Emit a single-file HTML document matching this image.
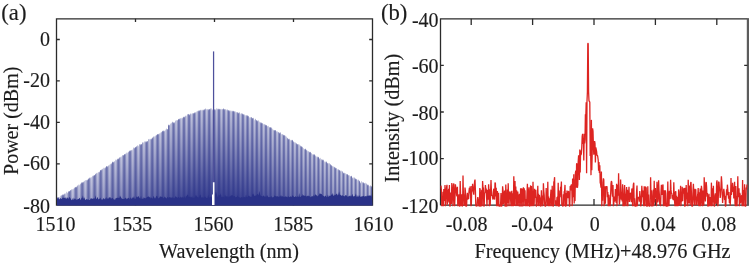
<!DOCTYPE html><html><head><meta charset="utf-8"><style>html,body{margin:0;padding:0;background:#fff;overflow:hidden;}svg{display:block;filter:blur(0.3px);}text{font-family:"Liberation Serif",serif;}</style></head><body><svg width="749" height="264" viewBox="0 0 749 264"><defs><linearGradient id="c57" x1="0" y1="0" x2="0" y2="1"><stop offset="0.0" stop-color="rgb(42,50,136)" stop-opacity="0.359"/><stop offset="0.194" stop-color="rgb(42,50,136)" stop-opacity="0.598"/><stop offset="0.25" stop-color="rgb(42,50,136)" stop-opacity="0.598"/><stop offset="0.5" stop-color="rgb(42,50,136)" stop-opacity="0.606"/><stop offset="0.75" stop-color="rgb(42,50,136)" stop-opacity="0.614"/><stop offset="1.0" stop-color="rgb(42,50,136)" stop-opacity="0.622"/></linearGradient><linearGradient id="c58" x1="0" y1="0" x2="0" y2="1"><stop offset="0.0" stop-color="rgb(42,50,136)" stop-opacity="0.250"/><stop offset="0.194" stop-color="rgb(42,50,136)" stop-opacity="0.416"/><stop offset="0.25" stop-color="rgb(42,50,136)" stop-opacity="0.416"/><stop offset="0.5" stop-color="rgb(42,50,136)" stop-opacity="0.428"/><stop offset="0.75" stop-color="rgb(42,50,136)" stop-opacity="0.439"/><stop offset="1.0" stop-color="rgb(42,50,136)" stop-opacity="0.451"/></linearGradient><linearGradient id="c59" x1="0" y1="0" x2="0" y2="1"><stop offset="0.0" stop-color="rgb(42,50,136)" stop-opacity="0.178"/><stop offset="0.18" stop-color="rgb(42,50,136)" stop-opacity="0.296"/><stop offset="0.25" stop-color="rgb(42,50,136)" stop-opacity="0.296"/><stop offset="0.5" stop-color="rgb(42,50,136)" stop-opacity="0.312"/><stop offset="0.75" stop-color="rgb(42,50,136)" stop-opacity="0.327"/><stop offset="1.0" stop-color="rgb(42,50,136)" stop-opacity="0.343"/></linearGradient><linearGradient id="c60" x1="0" y1="0" x2="0" y2="1"><stop offset="0.0" stop-color="rgb(42,50,136)" stop-opacity="0.203"/><stop offset="0.157" stop-color="rgb(42,50,136)" stop-opacity="0.338"/><stop offset="0.25" stop-color="rgb(42,50,136)" stop-opacity="0.341"/><stop offset="0.5" stop-color="rgb(42,50,136)" stop-opacity="0.358"/><stop offset="0.75" stop-color="rgb(42,50,136)" stop-opacity="0.374"/><stop offset="1.0" stop-color="rgb(42,50,136)" stop-opacity="0.391"/></linearGradient><linearGradient id="c61" x1="0" y1="0" x2="0" y2="1"><stop offset="0.0" stop-color="rgb(42,50,136)" stop-opacity="0.305"/><stop offset="0.15" stop-color="rgb(42,50,136)" stop-opacity="0.509"/><stop offset="0.25" stop-color="rgb(42,50,136)" stop-opacity="0.512"/><stop offset="0.5" stop-color="rgb(42,50,136)" stop-opacity="0.525"/><stop offset="0.75" stop-color="rgb(42,50,136)" stop-opacity="0.537"/><stop offset="1.0" stop-color="rgb(42,50,136)" stop-opacity="0.550"/></linearGradient><linearGradient id="c62" x1="0" y1="0" x2="0" y2="1"><stop offset="0.0" stop-color="rgb(42,50,136)" stop-opacity="0.398"/><stop offset="0.141" stop-color="rgb(42,50,136)" stop-opacity="0.664"/><stop offset="0.25" stop-color="rgb(42,50,136)" stop-opacity="0.666"/><stop offset="0.5" stop-color="rgb(42,50,136)" stop-opacity="0.676"/><stop offset="0.75" stop-color="rgb(42,50,136)" stop-opacity="0.685"/><stop offset="1.0" stop-color="rgb(42,50,136)" stop-opacity="0.694"/></linearGradient><linearGradient id="c63" x1="0" y1="0" x2="0" y2="1"><stop offset="0.0" stop-color="rgb(42,50,136)" stop-opacity="0.402"/><stop offset="0.139" stop-color="rgb(42,50,136)" stop-opacity="0.671"/><stop offset="0.25" stop-color="rgb(42,50,136)" stop-opacity="0.673"/><stop offset="0.5" stop-color="rgb(42,50,136)" stop-opacity="0.683"/><stop offset="0.75" stop-color="rgb(42,50,136)" stop-opacity="0.692"/><stop offset="1.0" stop-color="rgb(42,50,136)" stop-opacity="0.701"/></linearGradient><linearGradient id="c64" x1="0" y1="0" x2="0" y2="1"><stop offset="0.0" stop-color="rgb(42,50,136)" stop-opacity="0.314"/><stop offset="0.129" stop-color="rgb(42,50,136)" stop-opacity="0.523"/><stop offset="0.25" stop-color="rgb(42,50,136)" stop-opacity="0.528"/><stop offset="0.5" stop-color="rgb(42,50,136)" stop-opacity="0.542"/><stop offset="0.75" stop-color="rgb(42,50,136)" stop-opacity="0.557"/><stop offset="1.0" stop-color="rgb(42,50,136)" stop-opacity="0.571"/></linearGradient><linearGradient id="c65" x1="0" y1="0" x2="0" y2="1"><stop offset="0.0" stop-color="rgb(42,50,136)" stop-opacity="0.208"/><stop offset="0.126" stop-color="rgb(42,50,136)" stop-opacity="0.347"/><stop offset="0.25" stop-color="rgb(42,50,136)" stop-opacity="0.354"/><stop offset="0.5" stop-color="rgb(42,50,136)" stop-opacity="0.374"/><stop offset="0.75" stop-color="rgb(42,50,136)" stop-opacity="0.394"/><stop offset="1.0" stop-color="rgb(42,50,136)" stop-opacity="0.415"/></linearGradient><linearGradient id="c66" x1="0" y1="0" x2="0" y2="1"><stop offset="0.0" stop-color="rgb(42,50,136)" stop-opacity="0.176"/><stop offset="0.111" stop-color="rgb(42,50,136)" stop-opacity="0.294"/><stop offset="0.25" stop-color="rgb(42,50,136)" stop-opacity="0.304"/><stop offset="0.5" stop-color="rgb(42,50,136)" stop-opacity="0.329"/><stop offset="0.75" stop-color="rgb(42,50,136)" stop-opacity="0.354"/><stop offset="1.0" stop-color="rgb(42,50,136)" stop-opacity="0.379"/></linearGradient><linearGradient id="c67" x1="0" y1="0" x2="0" y2="1"><stop offset="0.0" stop-color="rgb(42,50,136)" stop-opacity="0.246"/><stop offset="0.118" stop-color="rgb(42,50,136)" stop-opacity="0.410"/><stop offset="0.25" stop-color="rgb(42,50,136)" stop-opacity="0.418"/><stop offset="0.5" stop-color="rgb(42,50,136)" stop-opacity="0.437"/><stop offset="0.75" stop-color="rgb(42,50,136)" stop-opacity="0.457"/><stop offset="1.0" stop-color="rgb(42,50,136)" stop-opacity="0.477"/></linearGradient><linearGradient id="c68" x1="0" y1="0" x2="0" y2="1"><stop offset="0.0" stop-color="rgb(42,50,136)" stop-opacity="0.358"/><stop offset="0.107" stop-color="rgb(42,50,136)" stop-opacity="0.596"/><stop offset="0.25" stop-color="rgb(42,50,136)" stop-opacity="0.603"/><stop offset="0.5" stop-color="rgb(42,50,136)" stop-opacity="0.618"/><stop offset="0.75" stop-color="rgb(42,50,136)" stop-opacity="0.632"/><stop offset="1.0" stop-color="rgb(42,50,136)" stop-opacity="0.647"/></linearGradient><linearGradient id="c69" x1="0" y1="0" x2="0" y2="1"><stop offset="0.0" stop-color="rgb(42,50,136)" stop-opacity="0.414"/><stop offset="0.105" stop-color="rgb(42,50,136)" stop-opacity="0.690"/><stop offset="0.25" stop-color="rgb(42,50,136)" stop-opacity="0.695"/><stop offset="0.5" stop-color="rgb(42,50,136)" stop-opacity="0.707"/><stop offset="0.75" stop-color="rgb(42,50,136)" stop-opacity="0.718"/><stop offset="1.0" stop-color="rgb(42,50,136)" stop-opacity="0.730"/></linearGradient><linearGradient id="c70" x1="0" y1="0" x2="0" y2="1"><stop offset="0.0" stop-color="rgb(42,50,136)" stop-opacity="0.365"/><stop offset="0.099" stop-color="rgb(42,50,136)" stop-opacity="0.608"/><stop offset="0.25" stop-color="rgb(42,50,136)" stop-opacity="0.616"/><stop offset="0.5" stop-color="rgb(42,50,136)" stop-opacity="0.631"/><stop offset="0.75" stop-color="rgb(42,50,136)" stop-opacity="0.647"/><stop offset="1.0" stop-color="rgb(42,50,136)" stop-opacity="0.662"/></linearGradient><linearGradient id="c71" x1="0" y1="0" x2="0" y2="1"><stop offset="0.0" stop-color="rgb(42,50,136)" stop-opacity="0.253"/><stop offset="0.094" stop-color="rgb(42,50,136)" stop-opacity="0.422"/><stop offset="0.25" stop-color="rgb(42,50,136)" stop-opacity="0.434"/><stop offset="0.5" stop-color="rgb(42,50,136)" stop-opacity="0.458"/><stop offset="0.75" stop-color="rgb(42,50,136)" stop-opacity="0.482"/><stop offset="1.0" stop-color="rgb(42,50,136)" stop-opacity="0.506"/></linearGradient><linearGradient id="c72" x1="0" y1="0" x2="0" y2="1"><stop offset="0.0" stop-color="rgb(42,50,136)" stop-opacity="0.178"/><stop offset="0.093" stop-color="rgb(42,50,136)" stop-opacity="0.296"/><stop offset="0.25" stop-color="rgb(42,50,136)" stop-opacity="0.311"/><stop offset="0.5" stop-color="rgb(42,50,136)" stop-opacity="0.341"/><stop offset="0.75" stop-color="rgb(42,50,136)" stop-opacity="0.371"/><stop offset="1.0" stop-color="rgb(42,50,136)" stop-opacity="0.401"/></linearGradient><linearGradient id="c73" x1="0" y1="0" x2="0" y2="1"><stop offset="0.0" stop-color="rgb(42,50,136)" stop-opacity="0.205"/><stop offset="0.09" stop-color="rgb(42,50,136)" stop-opacity="0.342"/><stop offset="0.25" stop-color="rgb(42,50,136)" stop-opacity="0.357"/><stop offset="0.5" stop-color="rgb(42,50,136)" stop-opacity="0.385"/><stop offset="0.75" stop-color="rgb(42,50,136)" stop-opacity="0.414"/><stop offset="1.0" stop-color="rgb(42,50,136)" stop-opacity="0.443"/></linearGradient><linearGradient id="c74" x1="0" y1="0" x2="0" y2="1"><stop offset="0.0" stop-color="rgb(42,50,136)" stop-opacity="0.312"/><stop offset="0.085" stop-color="rgb(42,50,136)" stop-opacity="0.520"/><stop offset="0.25" stop-color="rgb(42,50,136)" stop-opacity="0.532"/><stop offset="0.5" stop-color="rgb(42,50,136)" stop-opacity="0.554"/><stop offset="0.75" stop-color="rgb(42,50,136)" stop-opacity="0.576"/><stop offset="1.0" stop-color="rgb(42,50,136)" stop-opacity="0.599"/></linearGradient><linearGradient id="c75" x1="0" y1="0" x2="0" y2="1"><stop offset="0.0" stop-color="rgb(42,50,136)" stop-opacity="0.403"/><stop offset="0.082" stop-color="rgb(42,50,136)" stop-opacity="0.671"/><stop offset="0.25" stop-color="rgb(42,50,136)" stop-opacity="0.680"/><stop offset="0.5" stop-color="rgb(42,50,136)" stop-opacity="0.696"/><stop offset="0.75" stop-color="rgb(42,50,136)" stop-opacity="0.712"/><stop offset="1.0" stop-color="rgb(42,50,136)" stop-opacity="0.727"/></linearGradient><linearGradient id="c76" x1="0" y1="0" x2="0" y2="1"><stop offset="0.0" stop-color="rgb(42,50,136)" stop-opacity="0.396"/><stop offset="0.081" stop-color="rgb(42,50,136)" stop-opacity="0.660"/><stop offset="0.25" stop-color="rgb(42,50,136)" stop-opacity="0.670"/><stop offset="0.5" stop-color="rgb(42,50,136)" stop-opacity="0.686"/><stop offset="0.75" stop-color="rgb(42,50,136)" stop-opacity="0.703"/><stop offset="1.0" stop-color="rgb(42,50,136)" stop-opacity="0.719"/></linearGradient><linearGradient id="c77" x1="0" y1="0" x2="0" y2="1"><stop offset="0.0" stop-color="rgb(42,50,136)" stop-opacity="0.297"/><stop offset="0.076" stop-color="rgb(42,50,136)" stop-opacity="0.495"/><stop offset="0.25" stop-color="rgb(42,50,136)" stop-opacity="0.511"/><stop offset="0.5" stop-color="rgb(42,50,136)" stop-opacity="0.537"/><stop offset="0.75" stop-color="rgb(42,50,136)" stop-opacity="0.563"/><stop offset="1.0" stop-color="rgb(42,50,136)" stop-opacity="0.590"/></linearGradient><linearGradient id="c78" x1="0" y1="0" x2="0" y2="1"><stop offset="0.0" stop-color="rgb(42,50,136)" stop-opacity="0.195"/><stop offset="0.073" stop-color="rgb(42,50,136)" stop-opacity="0.325"/><stop offset="0.25" stop-color="rgb(42,50,136)" stop-opacity="0.348"/><stop offset="0.5" stop-color="rgb(42,50,136)" stop-opacity="0.384"/><stop offset="0.75" stop-color="rgb(42,50,136)" stop-opacity="0.421"/><stop offset="1.0" stop-color="rgb(42,50,136)" stop-opacity="0.458"/></linearGradient><linearGradient id="c79" x1="0" y1="0" x2="0" y2="1"><stop offset="0.0" stop-color="rgb(42,50,136)" stop-opacity="0.183"/><stop offset="0.073" stop-color="rgb(42,50,136)" stop-opacity="0.305"/><stop offset="0.25" stop-color="rgb(42,50,136)" stop-opacity="0.328"/><stop offset="0.5" stop-color="rgb(42,50,136)" stop-opacity="0.366"/><stop offset="0.75" stop-color="rgb(42,50,136)" stop-opacity="0.403"/><stop offset="1.0" stop-color="rgb(42,50,136)" stop-opacity="0.440"/></linearGradient><linearGradient id="c80" x1="0" y1="0" x2="0" y2="1"><stop offset="0.0" stop-color="rgb(42,50,136)" stop-opacity="0.272"/><stop offset="0.069" stop-color="rgb(42,50,136)" stop-opacity="0.454"/><stop offset="0.25" stop-color="rgb(42,50,136)" stop-opacity="0.473"/><stop offset="0.5" stop-color="rgb(42,50,136)" stop-opacity="0.504"/><stop offset="0.75" stop-color="rgb(42,50,136)" stop-opacity="0.535"/><stop offset="1.0" stop-color="rgb(42,50,136)" stop-opacity="0.566"/></linearGradient><linearGradient id="c81" x1="0" y1="0" x2="0" y2="1"><stop offset="0.0" stop-color="rgb(42,50,136)" stop-opacity="0.382"/><stop offset="0.066" stop-color="rgb(42,50,136)" stop-opacity="0.636"/><stop offset="0.25" stop-color="rgb(42,50,136)" stop-opacity="0.650"/><stop offset="0.5" stop-color="rgb(42,50,136)" stop-opacity="0.672"/><stop offset="0.75" stop-color="rgb(42,50,136)" stop-opacity="0.694"/><stop offset="1.0" stop-color="rgb(42,50,136)" stop-opacity="0.715"/></linearGradient><linearGradient id="c82" x1="0" y1="0" x2="0" y2="1"><stop offset="0.0" stop-color="rgb(42,50,136)" stop-opacity="0.410"/><stop offset="0.065" stop-color="rgb(42,50,136)" stop-opacity="0.684"/><stop offset="0.25" stop-color="rgb(42,50,136)" stop-opacity="0.696"/><stop offset="0.5" stop-color="rgb(42,50,136)" stop-opacity="0.715"/><stop offset="0.75" stop-color="rgb(42,50,136)" stop-opacity="0.734"/><stop offset="1.0" stop-color="rgb(42,50,136)" stop-opacity="0.753"/></linearGradient><linearGradient id="c83" x1="0" y1="0" x2="0" y2="1"><stop offset="0.0" stop-color="rgb(42,50,136)" stop-opacity="0.332"/><stop offset="0.064" stop-color="rgb(42,50,136)" stop-opacity="0.553"/><stop offset="0.25" stop-color="rgb(42,50,136)" stop-opacity="0.571"/><stop offset="0.5" stop-color="rgb(42,50,136)" stop-opacity="0.598"/><stop offset="0.75" stop-color="rgb(42,50,136)" stop-opacity="0.626"/><stop offset="1.0" stop-color="rgb(42,50,136)" stop-opacity="0.654"/></linearGradient><linearGradient id="c84" x1="0" y1="0" x2="0" y2="1"><stop offset="0.0" stop-color="rgb(42,50,136)" stop-opacity="0.218"/><stop offset="0.061" stop-color="rgb(42,50,136)" stop-opacity="0.363"/><stop offset="0.25" stop-color="rgb(42,50,136)" stop-opacity="0.390"/><stop offset="0.5" stop-color="rgb(42,50,136)" stop-opacity="0.431"/><stop offset="0.75" stop-color="rgb(42,50,136)" stop-opacity="0.472"/><stop offset="1.0" stop-color="rgb(42,50,136)" stop-opacity="0.513"/></linearGradient><linearGradient id="c85" x1="0" y1="0" x2="0" y2="1"><stop offset="0.0" stop-color="rgb(42,50,136)" stop-opacity="0.175"/><stop offset="0.06" stop-color="rgb(42,50,136)" stop-opacity="0.292"/><stop offset="0.25" stop-color="rgb(42,50,136)" stop-opacity="0.324"/><stop offset="0.5" stop-color="rgb(42,50,136)" stop-opacity="0.370"/><stop offset="0.75" stop-color="rgb(42,50,136)" stop-opacity="0.417"/><stop offset="1.0" stop-color="rgb(42,50,136)" stop-opacity="0.464"/></linearGradient><linearGradient id="c86" x1="0" y1="0" x2="0" y2="1"><stop offset="0.0" stop-color="rgb(42,50,136)" stop-opacity="0.243"/><stop offset="0.059" stop-color="rgb(42,50,136)" stop-opacity="0.406"/><stop offset="0.25" stop-color="rgb(42,50,136)" stop-opacity="0.433"/><stop offset="0.5" stop-color="rgb(42,50,136)" stop-opacity="0.472"/><stop offset="0.75" stop-color="rgb(42,50,136)" stop-opacity="0.511"/><stop offset="1.0" stop-color="rgb(42,50,136)" stop-opacity="0.551"/></linearGradient><linearGradient id="c87" x1="0" y1="0" x2="0" y2="1"><stop offset="0.0" stop-color="rgb(42,50,136)" stop-opacity="0.360"/><stop offset="0.059" stop-color="rgb(42,50,136)" stop-opacity="0.599"/><stop offset="0.25" stop-color="rgb(42,50,136)" stop-opacity="0.618"/><stop offset="0.5" stop-color="rgb(42,50,136)" stop-opacity="0.645"/><stop offset="0.75" stop-color="rgb(42,50,136)" stop-opacity="0.672"/><stop offset="1.0" stop-color="rgb(42,50,136)" stop-opacity="0.698"/></linearGradient><linearGradient id="c88" x1="0" y1="0" x2="0" y2="1"><stop offset="0.0" stop-color="rgb(42,50,136)" stop-opacity="0.414"/><stop offset="0.056" stop-color="rgb(42,50,136)" stop-opacity="0.690"/><stop offset="0.25" stop-color="rgb(42,50,136)" stop-opacity="0.705"/><stop offset="0.5" stop-color="rgb(42,50,136)" stop-opacity="0.727"/><stop offset="0.75" stop-color="rgb(42,50,136)" stop-opacity="0.749"/><stop offset="1.0" stop-color="rgb(42,50,136)" stop-opacity="0.770"/></linearGradient><linearGradient id="c89" x1="0" y1="0" x2="0" y2="1"><stop offset="0.0" stop-color="rgb(42,50,136)" stop-opacity="0.355"/><stop offset="0.054" stop-color="rgb(42,50,136)" stop-opacity="0.591"/><stop offset="0.25" stop-color="rgb(42,50,136)" stop-opacity="0.612"/><stop offset="0.5" stop-color="rgb(42,50,136)" stop-opacity="0.642"/><stop offset="0.75" stop-color="rgb(42,50,136)" stop-opacity="0.671"/><stop offset="1.0" stop-color="rgb(42,50,136)" stop-opacity="0.701"/></linearGradient><linearGradient id="c90" x1="0" y1="0" x2="0" y2="1"><stop offset="0.0" stop-color="rgb(42,50,136)" stop-opacity="0.238"/><stop offset="0.054" stop-color="rgb(42,50,136)" stop-opacity="0.396"/><stop offset="0.25" stop-color="rgb(42,50,136)" stop-opacity="0.428"/><stop offset="0.5" stop-color="rgb(42,50,136)" stop-opacity="0.472"/><stop offset="0.75" stop-color="rgb(42,50,136)" stop-opacity="0.516"/><stop offset="1.0" stop-color="rgb(42,50,136)" stop-opacity="0.560"/></linearGradient><linearGradient id="c91" x1="0" y1="0" x2="0" y2="1"><stop offset="0.0" stop-color="rgb(42,50,136)" stop-opacity="0.174"/><stop offset="0.053" stop-color="rgb(42,50,136)" stop-opacity="0.290"/><stop offset="0.25" stop-color="rgb(42,50,136)" stop-opacity="0.328"/><stop offset="0.5" stop-color="rgb(42,50,136)" stop-opacity="0.381"/><stop offset="0.75" stop-color="rgb(42,50,136)" stop-opacity="0.434"/><stop offset="1.0" stop-color="rgb(42,50,136)" stop-opacity="0.486"/></linearGradient><linearGradient id="c92" x1="0" y1="0" x2="0" y2="1"><stop offset="0.0" stop-color="rgb(42,50,136)" stop-opacity="0.225"/><stop offset="0.051" stop-color="rgb(42,50,136)" stop-opacity="0.376"/><stop offset="0.25" stop-color="rgb(42,50,136)" stop-opacity="0.411"/><stop offset="0.5" stop-color="rgb(42,50,136)" stop-opacity="0.459"/><stop offset="0.75" stop-color="rgb(42,50,136)" stop-opacity="0.507"/><stop offset="1.0" stop-color="rgb(42,50,136)" stop-opacity="0.555"/></linearGradient><linearGradient id="c93" x1="0" y1="0" x2="0" y2="1"><stop offset="0.0" stop-color="rgb(42,50,136)" stop-opacity="0.343"/><stop offset="0.05" stop-color="rgb(42,50,136)" stop-opacity="0.571"/><stop offset="0.25" stop-color="rgb(42,50,136)" stop-opacity="0.596"/><stop offset="0.5" stop-color="rgb(42,50,136)" stop-opacity="0.629"/><stop offset="0.75" stop-color="rgb(42,50,136)" stop-opacity="0.663"/><stop offset="1.0" stop-color="rgb(42,50,136)" stop-opacity="0.696"/></linearGradient><linearGradient id="c94" x1="0" y1="0" x2="0" y2="1"><stop offset="0.0" stop-color="rgb(42,50,136)" stop-opacity="0.413"/><stop offset="0.05" stop-color="rgb(42,50,136)" stop-opacity="0.688"/><stop offset="0.25" stop-color="rgb(42,50,136)" stop-opacity="0.707"/><stop offset="0.5" stop-color="rgb(42,50,136)" stop-opacity="0.731"/><stop offset="0.75" stop-color="rgb(42,50,136)" stop-opacity="0.756"/><stop offset="1.0" stop-color="rgb(42,50,136)" stop-opacity="0.781"/></linearGradient><linearGradient id="c95" x1="0" y1="0" x2="0" y2="1"><stop offset="0.0" stop-color="rgb(42,50,136)" stop-opacity="0.368"/><stop offset="0.048" stop-color="rgb(42,50,136)" stop-opacity="0.613"/><stop offset="0.25" stop-color="rgb(42,50,136)" stop-opacity="0.637"/><stop offset="0.5" stop-color="rgb(42,50,136)" stop-opacity="0.669"/><stop offset="0.75" stop-color="rgb(42,50,136)" stop-opacity="0.701"/><stop offset="1.0" stop-color="rgb(42,50,136)" stop-opacity="0.733"/></linearGradient><linearGradient id="c96" x1="0" y1="0" x2="0" y2="1"><stop offset="0.0" stop-color="rgb(42,50,136)" stop-opacity="0.251"/><stop offset="0.046" stop-color="rgb(42,50,136)" stop-opacity="0.418"/><stop offset="0.25" stop-color="rgb(42,50,136)" stop-opacity="0.455"/><stop offset="0.5" stop-color="rgb(42,50,136)" stop-opacity="0.505"/><stop offset="0.75" stop-color="rgb(42,50,136)" stop-opacity="0.554"/><stop offset="1.0" stop-color="rgb(42,50,136)" stop-opacity="0.603"/></linearGradient><linearGradient id="c97" x1="0" y1="0" x2="0" y2="1"><stop offset="0.0" stop-color="rgb(42,50,136)" stop-opacity="0.176"/><stop offset="0.046" stop-color="rgb(42,50,136)" stop-opacity="0.293"/><stop offset="0.25" stop-color="rgb(42,50,136)" stop-opacity="0.338"/><stop offset="0.5" stop-color="rgb(42,50,136)" stop-opacity="0.399"/><stop offset="0.75" stop-color="rgb(42,50,136)" stop-opacity="0.459"/><stop offset="1.0" stop-color="rgb(42,50,136)" stop-opacity="0.519"/></linearGradient><linearGradient id="c98" x1="0" y1="0" x2="0" y2="1"><stop offset="0.0" stop-color="rgb(42,50,136)" stop-opacity="0.216"/><stop offset="0.045" stop-color="rgb(42,50,136)" stop-opacity="0.361"/><stop offset="0.25" stop-color="rgb(42,50,136)" stop-opacity="0.403"/><stop offset="0.5" stop-color="rgb(42,50,136)" stop-opacity="0.459"/><stop offset="0.75" stop-color="rgb(42,50,136)" stop-opacity="0.515"/><stop offset="1.0" stop-color="rgb(42,50,136)" stop-opacity="0.570"/></linearGradient><linearGradient id="c99" x1="0" y1="0" x2="0" y2="1"><stop offset="0.0" stop-color="rgb(42,50,136)" stop-opacity="0.334"/><stop offset="0.045" stop-color="rgb(42,50,136)" stop-opacity="0.556"/><stop offset="0.25" stop-color="rgb(42,50,136)" stop-opacity="0.586"/><stop offset="0.5" stop-color="rgb(42,50,136)" stop-opacity="0.625"/><stop offset="0.75" stop-color="rgb(42,50,136)" stop-opacity="0.664"/><stop offset="1.0" stop-color="rgb(42,50,136)" stop-opacity="0.703"/></linearGradient><linearGradient id="c100" x1="0" y1="0" x2="0" y2="1"><stop offset="0.0" stop-color="rgb(42,50,136)" stop-opacity="0.412"/><stop offset="0.043" stop-color="rgb(42,50,136)" stop-opacity="0.686"/><stop offset="0.25" stop-color="rgb(42,50,136)" stop-opacity="0.709"/><stop offset="0.5" stop-color="rgb(42,50,136)" stop-opacity="0.738"/><stop offset="0.75" stop-color="rgb(42,50,136)" stop-opacity="0.767"/><stop offset="1.0" stop-color="rgb(42,50,136)" stop-opacity="0.796"/></linearGradient><linearGradient id="c101" x1="0" y1="0" x2="0" y2="1"><stop offset="0.0" stop-color="rgb(42,50,136)" stop-opacity="0.373"/><stop offset="0.042" stop-color="rgb(42,50,136)" stop-opacity="0.622"/><stop offset="0.25" stop-color="rgb(42,50,136)" stop-opacity="0.649"/><stop offset="0.5" stop-color="rgb(42,50,136)" stop-opacity="0.685"/><stop offset="0.75" stop-color="rgb(42,50,136)" stop-opacity="0.720"/><stop offset="1.0" stop-color="rgb(42,50,136)" stop-opacity="0.756"/></linearGradient><linearGradient id="c102" x1="0" y1="0" x2="0" y2="1"><stop offset="0.0" stop-color="rgb(42,50,136)" stop-opacity="0.256"/><stop offset="0.041" stop-color="rgb(42,50,136)" stop-opacity="0.426"/><stop offset="0.25" stop-color="rgb(42,50,136)" stop-opacity="0.469"/><stop offset="0.5" stop-color="rgb(42,50,136)" stop-opacity="0.524"/><stop offset="0.75" stop-color="rgb(42,50,136)" stop-opacity="0.579"/><stop offset="1.0" stop-color="rgb(42,50,136)" stop-opacity="0.634"/></linearGradient><linearGradient id="c103" x1="0" y1="0" x2="0" y2="1"><stop offset="0.0" stop-color="rgb(42,50,136)" stop-opacity="0.176"/><stop offset="0.04" stop-color="rgb(42,50,136)" stop-opacity="0.294"/><stop offset="0.25" stop-color="rgb(42,50,136)" stop-opacity="0.349"/><stop offset="0.5" stop-color="rgb(42,50,136)" stop-opacity="0.418"/><stop offset="0.75" stop-color="rgb(42,50,136)" stop-opacity="0.487"/><stop offset="1.0" stop-color="rgb(42,50,136)" stop-opacity="0.557"/></linearGradient><linearGradient id="c104" x1="0" y1="0" x2="0" y2="1"><stop offset="0.0" stop-color="rgb(42,50,136)" stop-opacity="0.215"/><stop offset="0.04" stop-color="rgb(42,50,136)" stop-opacity="0.358"/><stop offset="0.25" stop-color="rgb(42,50,136)" stop-opacity="0.408"/><stop offset="0.5" stop-color="rgb(42,50,136)" stop-opacity="0.471"/><stop offset="0.75" stop-color="rgb(42,50,136)" stop-opacity="0.534"/><stop offset="1.0" stop-color="rgb(42,50,136)" stop-opacity="0.597"/></linearGradient><linearGradient id="c105" x1="0" y1="0" x2="0" y2="1"><stop offset="0.0" stop-color="rgb(42,50,136)" stop-opacity="0.333"/><stop offset="0.04" stop-color="rgb(42,50,136)" stop-opacity="0.555"/><stop offset="0.25" stop-color="rgb(42,50,136)" stop-opacity="0.590"/><stop offset="0.5" stop-color="rgb(42,50,136)" stop-opacity="0.635"/><stop offset="0.75" stop-color="rgb(42,50,136)" stop-opacity="0.679"/><stop offset="1.0" stop-color="rgb(42,50,136)" stop-opacity="0.723"/></linearGradient><linearGradient id="c106" x1="0" y1="0" x2="0" y2="1"><stop offset="0.0" stop-color="rgb(42,50,136)" stop-opacity="0.412"/><stop offset="0.038" stop-color="rgb(42,50,136)" stop-opacity="0.687"/><stop offset="0.25" stop-color="rgb(42,50,136)" stop-opacity="0.712"/><stop offset="0.5" stop-color="rgb(42,50,136)" stop-opacity="0.744"/><stop offset="0.75" stop-color="rgb(42,50,136)" stop-opacity="0.777"/><stop offset="1.0" stop-color="rgb(42,50,136)" stop-opacity="0.809"/></linearGradient><linearGradient id="c107" x1="0" y1="0" x2="0" y2="1"><stop offset="0.0" stop-color="rgb(42,50,136)" stop-opacity="0.371"/><stop offset="0.039" stop-color="rgb(42,50,136)" stop-opacity="0.619"/><stop offset="0.25" stop-color="rgb(42,50,136)" stop-opacity="0.650"/><stop offset="0.5" stop-color="rgb(42,50,136)" stop-opacity="0.689"/><stop offset="0.75" stop-color="rgb(42,50,136)" stop-opacity="0.728"/><stop offset="1.0" stop-color="rgb(42,50,136)" stop-opacity="0.767"/></linearGradient><linearGradient id="c108" x1="0" y1="0" x2="0" y2="1"><stop offset="0.0" stop-color="rgb(42,50,136)" stop-opacity="0.252"/><stop offset="0.038" stop-color="rgb(42,50,136)" stop-opacity="0.419"/><stop offset="0.25" stop-color="rgb(42,50,136)" stop-opacity="0.468"/><stop offset="0.5" stop-color="rgb(42,50,136)" stop-opacity="0.529"/><stop offset="0.75" stop-color="rgb(42,50,136)" stop-opacity="0.589"/><stop offset="1.0" stop-color="rgb(42,50,136)" stop-opacity="0.650"/></linearGradient><linearGradient id="c109" x1="0" y1="0" x2="0" y2="1"><stop offset="0.0" stop-color="rgb(42,50,136)" stop-opacity="0.175"/><stop offset="0.037" stop-color="rgb(42,50,136)" stop-opacity="0.292"/><stop offset="0.25" stop-color="rgb(42,50,136)" stop-opacity="0.353"/><stop offset="0.5" stop-color="rgb(42,50,136)" stop-opacity="0.428"/><stop offset="0.75" stop-color="rgb(42,50,136)" stop-opacity="0.504"/><stop offset="1.0" stop-color="rgb(42,50,136)" stop-opacity="0.579"/></linearGradient><linearGradient id="c110" x1="0" y1="0" x2="0" y2="1"><stop offset="0.0" stop-color="rgb(42,50,136)" stop-opacity="0.221"/><stop offset="0.036" stop-color="rgb(42,50,136)" stop-opacity="0.368"/><stop offset="0.25" stop-color="rgb(42,50,136)" stop-opacity="0.423"/><stop offset="0.5" stop-color="rgb(42,50,136)" stop-opacity="0.492"/><stop offset="0.75" stop-color="rgb(42,50,136)" stop-opacity="0.561"/><stop offset="1.0" stop-color="rgb(42,50,136)" stop-opacity="0.629"/></linearGradient><linearGradient id="c111" x1="0" y1="0" x2="0" y2="1"><stop offset="0.0" stop-color="rgb(42,50,136)" stop-opacity="0.342"/><stop offset="0.036" stop-color="rgb(42,50,136)" stop-opacity="0.569"/><stop offset="0.25" stop-color="rgb(42,50,136)" stop-opacity="0.608"/><stop offset="0.5" stop-color="rgb(42,50,136)" stop-opacity="0.655"/><stop offset="0.75" stop-color="rgb(42,50,136)" stop-opacity="0.702"/><stop offset="1.0" stop-color="rgb(42,50,136)" stop-opacity="0.750"/></linearGradient><linearGradient id="c112" x1="0" y1="0" x2="0" y2="1"><stop offset="0.0" stop-color="rgb(42,50,136)" stop-opacity="0.413"/><stop offset="0.035" stop-color="rgb(42,50,136)" stop-opacity="0.689"/><stop offset="0.25" stop-color="rgb(42,50,136)" stop-opacity="0.718"/><stop offset="0.5" stop-color="rgb(42,50,136)" stop-opacity="0.754"/><stop offset="0.75" stop-color="rgb(42,50,136)" stop-opacity="0.789"/><stop offset="1.0" stop-color="rgb(42,50,136)" stop-opacity="0.824"/></linearGradient><linearGradient id="c113" x1="0" y1="0" x2="0" y2="1"><stop offset="0.0" stop-color="rgb(42,50,136)" stop-opacity="0.361"/><stop offset="0.035" stop-color="rgb(42,50,136)" stop-opacity="0.602"/><stop offset="0.25" stop-color="rgb(42,50,136)" stop-opacity="0.639"/><stop offset="0.5" stop-color="rgb(42,50,136)" stop-opacity="0.685"/><stop offset="0.75" stop-color="rgb(42,50,136)" stop-opacity="0.730"/><stop offset="1.0" stop-color="rgb(42,50,136)" stop-opacity="0.775"/></linearGradient><linearGradient id="c114" x1="0" y1="0" x2="0" y2="1"><stop offset="0.0" stop-color="rgb(42,50,136)" stop-opacity="0.239"/><stop offset="0.034" stop-color="rgb(42,50,136)" stop-opacity="0.399"/><stop offset="0.25" stop-color="rgb(42,50,136)" stop-opacity="0.456"/><stop offset="0.5" stop-color="rgb(42,50,136)" stop-opacity="0.525"/><stop offset="0.75" stop-color="rgb(42,50,136)" stop-opacity="0.595"/><stop offset="1.0" stop-color="rgb(42,50,136)" stop-opacity="0.664"/></linearGradient><linearGradient id="c115" x1="0" y1="0" x2="0" y2="1"><stop offset="0.0" stop-color="rgb(42,50,136)" stop-opacity="0.174"/><stop offset="0.033" stop-color="rgb(42,50,136)" stop-opacity="0.290"/><stop offset="0.25" stop-color="rgb(42,50,136)" stop-opacity="0.360"/><stop offset="0.5" stop-color="rgb(42,50,136)" stop-opacity="0.445"/><stop offset="0.75" stop-color="rgb(42,50,136)" stop-opacity="0.531"/><stop offset="1.0" stop-color="rgb(42,50,136)" stop-opacity="0.616"/></linearGradient><linearGradient id="c116" x1="0" y1="0" x2="0" y2="1"><stop offset="0.0" stop-color="rgb(42,50,136)" stop-opacity="0.235"/><stop offset="0.033" stop-color="rgb(42,50,136)" stop-opacity="0.391"/><stop offset="0.25" stop-color="rgb(42,50,136)" stop-opacity="0.451"/><stop offset="0.5" stop-color="rgb(42,50,136)" stop-opacity="0.524"/><stop offset="0.75" stop-color="rgb(42,50,136)" stop-opacity="0.597"/><stop offset="1.0" stop-color="rgb(42,50,136)" stop-opacity="0.669"/></linearGradient><linearGradient id="c117" x1="0" y1="0" x2="0" y2="1"><stop offset="0.0" stop-color="rgb(42,50,136)" stop-opacity="0.358"/><stop offset="0.032" stop-color="rgb(42,50,136)" stop-opacity="0.596"/><stop offset="0.25" stop-color="rgb(42,50,136)" stop-opacity="0.637"/><stop offset="0.5" stop-color="rgb(42,50,136)" stop-opacity="0.686"/><stop offset="0.75" stop-color="rgb(42,50,136)" stop-opacity="0.736"/><stop offset="1.0" stop-color="rgb(42,50,136)" stop-opacity="0.785"/></linearGradient><linearGradient id="c118" x1="0" y1="0" x2="0" y2="1"><stop offset="0.0" stop-color="rgb(42,50,136)" stop-opacity="0.414"/><stop offset="0.032" stop-color="rgb(42,50,136)" stop-opacity="0.690"/><stop offset="0.25" stop-color="rgb(42,50,136)" stop-opacity="0.721"/><stop offset="0.5" stop-color="rgb(42,50,136)" stop-opacity="0.759"/><stop offset="0.75" stop-color="rgb(42,50,136)" stop-opacity="0.797"/><stop offset="1.0" stop-color="rgb(42,50,136)" stop-opacity="0.835"/></linearGradient><linearGradient id="c119" x1="0" y1="0" x2="0" y2="1"><stop offset="0.0" stop-color="rgb(42,50,136)" stop-opacity="0.343"/><stop offset="0.031" stop-color="rgb(42,50,136)" stop-opacity="0.571"/><stop offset="0.25" stop-color="rgb(42,50,136)" stop-opacity="0.616"/><stop offset="0.5" stop-color="rgb(42,50,136)" stop-opacity="0.670"/><stop offset="0.75" stop-color="rgb(42,50,136)" stop-opacity="0.724"/><stop offset="1.0" stop-color="rgb(42,50,136)" stop-opacity="0.778"/></linearGradient><linearGradient id="c120" x1="0" y1="0" x2="0" y2="1"><stop offset="0.0" stop-color="rgb(42,50,136)" stop-opacity="0.220"/><stop offset="0.031" stop-color="rgb(42,50,136)" stop-opacity="0.366"/><stop offset="0.25" stop-color="rgb(42,50,136)" stop-opacity="0.434"/><stop offset="0.5" stop-color="rgb(42,50,136)" stop-opacity="0.514"/><stop offset="0.75" stop-color="rgb(42,50,136)" stop-opacity="0.595"/><stop offset="1.0" stop-color="rgb(42,50,136)" stop-opacity="0.675"/></linearGradient><linearGradient id="c121" x1="0" y1="0" x2="0" y2="1"><stop offset="0.0" stop-color="rgb(42,50,136)" stop-opacity="0.176"/><stop offset="0.031" stop-color="rgb(42,50,136)" stop-opacity="0.293"/><stop offset="0.25" stop-color="rgb(42,50,136)" stop-opacity="0.369"/><stop offset="0.5" stop-color="rgb(42,50,136)" stop-opacity="0.460"/><stop offset="0.75" stop-color="rgb(42,50,136)" stop-opacity="0.551"/><stop offset="1.0" stop-color="rgb(42,50,136)" stop-opacity="0.641"/></linearGradient><linearGradient id="c122" x1="0" y1="0" x2="0" y2="1"><stop offset="0.0" stop-color="rgb(42,50,136)" stop-opacity="0.259"/><stop offset="0.03" stop-color="rgb(42,50,136)" stop-opacity="0.431"/><stop offset="0.25" stop-color="rgb(42,50,136)" stop-opacity="0.494"/><stop offset="0.5" stop-color="rgb(42,50,136)" stop-opacity="0.569"/><stop offset="0.75" stop-color="rgb(42,50,136)" stop-opacity="0.643"/><stop offset="1.0" stop-color="rgb(42,50,136)" stop-opacity="0.718"/></linearGradient><linearGradient id="c123" x1="0" y1="0" x2="0" y2="1"><stop offset="0.0" stop-color="rgb(42,50,136)" stop-opacity="0.379"/><stop offset="0.03" stop-color="rgb(42,50,136)" stop-opacity="0.632"/><stop offset="0.25" stop-color="rgb(42,50,136)" stop-opacity="0.673"/><stop offset="0.5" stop-color="rgb(42,50,136)" stop-opacity="0.721"/><stop offset="0.75" stop-color="rgb(42,50,136)" stop-opacity="0.770"/><stop offset="1.0" stop-color="rgb(42,50,136)" stop-opacity="0.818"/></linearGradient><linearGradient id="c124" x1="0" y1="0" x2="0" y2="1"><stop offset="0.0" stop-color="rgb(42,50,136)" stop-opacity="0.408"/><stop offset="0.029" stop-color="rgb(42,50,136)" stop-opacity="0.680"/><stop offset="0.25" stop-color="rgb(42,50,136)" stop-opacity="0.716"/><stop offset="0.5" stop-color="rgb(42,50,136)" stop-opacity="0.759"/><stop offset="0.75" stop-color="rgb(42,50,136)" stop-opacity="0.802"/><stop offset="1.0" stop-color="rgb(42,50,136)" stop-opacity="0.845"/></linearGradient><linearGradient id="c125" x1="0" y1="0" x2="0" y2="1"><stop offset="0.0" stop-color="rgb(42,50,136)" stop-opacity="0.313"/><stop offset="0.029" stop-color="rgb(42,50,136)" stop-opacity="0.522"/><stop offset="0.25" stop-color="rgb(42,50,136)" stop-opacity="0.577"/><stop offset="0.5" stop-color="rgb(42,50,136)" stop-opacity="0.642"/><stop offset="0.75" stop-color="rgb(42,50,136)" stop-opacity="0.706"/><stop offset="1.0" stop-color="rgb(42,50,136)" stop-opacity="0.771"/></linearGradient><linearGradient id="c126" x1="0" y1="0" x2="0" y2="1"><stop offset="0.0" stop-color="rgb(42,50,136)" stop-opacity="0.197"/><stop offset="0.028" stop-color="rgb(42,50,136)" stop-opacity="0.329"/><stop offset="0.25" stop-color="rgb(42,50,136)" stop-opacity="0.408"/><stop offset="0.5" stop-color="rgb(42,50,136)" stop-opacity="0.500"/><stop offset="0.75" stop-color="rgb(42,50,136)" stop-opacity="0.593"/><stop offset="1.0" stop-color="rgb(42,50,136)" stop-opacity="0.686"/></linearGradient><linearGradient id="c127" x1="0" y1="0" x2="0" y2="1"><stop offset="0.0" stop-color="rgb(42,50,136)" stop-opacity="0.187"/><stop offset="0.028" stop-color="rgb(42,50,136)" stop-opacity="0.311"/><stop offset="0.25" stop-color="rgb(42,50,136)" stop-opacity="0.392"/><stop offset="0.5" stop-color="rgb(42,50,136)" stop-opacity="0.487"/><stop offset="0.75" stop-color="rgb(42,50,136)" stop-opacity="0.582"/><stop offset="1.0" stop-color="rgb(42,50,136)" stop-opacity="0.678"/></linearGradient><linearGradient id="c128" x1="0" y1="0" x2="0" y2="1"><stop offset="0.0" stop-color="rgb(42,50,136)" stop-opacity="0.293"/><stop offset="0.028" stop-color="rgb(42,50,136)" stop-opacity="0.489"/><stop offset="0.25" stop-color="rgb(42,50,136)" stop-opacity="0.550"/><stop offset="0.5" stop-color="rgb(42,50,136)" stop-opacity="0.622"/><stop offset="0.75" stop-color="rgb(42,50,136)" stop-opacity="0.694"/><stop offset="1.0" stop-color="rgb(42,50,136)" stop-opacity="0.765"/></linearGradient><linearGradient id="c129" x1="0" y1="0" x2="0" y2="1"><stop offset="0.0" stop-color="rgb(42,50,136)" stop-opacity="0.401"/><stop offset="0.028" stop-color="rgb(42,50,136)" stop-opacity="0.668"/><stop offset="0.25" stop-color="rgb(42,50,136)" stop-opacity="0.709"/><stop offset="0.5" stop-color="rgb(42,50,136)" stop-opacity="0.756"/><stop offset="0.75" stop-color="rgb(42,50,136)" stop-opacity="0.804"/><stop offset="1.0" stop-color="rgb(42,50,136)" stop-opacity="0.851"/></linearGradient><linearGradient id="c130" x1="0" y1="0" x2="0" y2="1"><stop offset="0.0" stop-color="rgb(42,50,136)" stop-opacity="0.391"/><stop offset="0.027" stop-color="rgb(42,50,136)" stop-opacity="0.651"/><stop offset="0.25" stop-color="rgb(42,50,136)" stop-opacity="0.694"/><stop offset="0.5" stop-color="rgb(42,50,136)" stop-opacity="0.744"/><stop offset="0.75" stop-color="rgb(42,50,136)" stop-opacity="0.795"/><stop offset="1.0" stop-color="rgb(42,50,136)" stop-opacity="0.845"/></linearGradient><linearGradient id="c131" x1="0" y1="0" x2="0" y2="1"><stop offset="0.0" stop-color="rgb(42,50,136)" stop-opacity="0.274"/><stop offset="0.027" stop-color="rgb(42,50,136)" stop-opacity="0.456"/><stop offset="0.25" stop-color="rgb(42,50,136)" stop-opacity="0.524"/><stop offset="0.5" stop-color="rgb(42,50,136)" stop-opacity="0.602"/><stop offset="0.75" stop-color="rgb(42,50,136)" stop-opacity="0.681"/><stop offset="1.0" stop-color="rgb(42,50,136)" stop-opacity="0.760"/></linearGradient><linearGradient id="c132" x1="0" y1="0" x2="0" y2="1"><stop offset="0.0" stop-color="rgb(42,50,136)" stop-opacity="0.179"/><stop offset="0.027" stop-color="rgb(42,50,136)" stop-opacity="0.298"/><stop offset="0.25" stop-color="rgb(42,50,136)" stop-opacity="0.386"/><stop offset="0.5" stop-color="rgb(42,50,136)" stop-opacity="0.489"/><stop offset="0.75" stop-color="rgb(42,50,136)" stop-opacity="0.592"/><stop offset="1.0" stop-color="rgb(42,50,136)" stop-opacity="0.694"/></linearGradient><linearGradient id="c133" x1="0" y1="0" x2="0" y2="1"><stop offset="0.0" stop-color="rgb(42,50,136)" stop-opacity="0.212"/><stop offset="0.026" stop-color="rgb(42,50,136)" stop-opacity="0.354"/><stop offset="0.25" stop-color="rgb(42,50,136)" stop-opacity="0.438"/><stop offset="0.5" stop-color="rgb(42,50,136)" stop-opacity="0.536"/><stop offset="0.75" stop-color="rgb(42,50,136)" stop-opacity="0.634"/><stop offset="1.0" stop-color="rgb(42,50,136)" stop-opacity="0.732"/></linearGradient><linearGradient id="c134" x1="0" y1="0" x2="0" y2="1"><stop offset="0.0" stop-color="rgb(42,50,136)" stop-opacity="0.337"/><stop offset="0.026" stop-color="rgb(42,50,136)" stop-opacity="0.562"/><stop offset="0.25" stop-color="rgb(42,50,136)" stop-opacity="0.619"/><stop offset="0.5" stop-color="rgb(42,50,136)" stop-opacity="0.685"/><stop offset="0.75" stop-color="rgb(42,50,136)" stop-opacity="0.751"/><stop offset="1.0" stop-color="rgb(42,50,136)" stop-opacity="0.817"/></linearGradient><linearGradient id="c135" x1="0" y1="0" x2="0" y2="1"><stop offset="0.0" stop-color="rgb(42,50,136)" stop-opacity="0.414"/><stop offset="0.026" stop-color="rgb(42,50,136)" stop-opacity="0.689"/><stop offset="0.25" stop-color="rgb(42,50,136)" stop-opacity="0.730"/><stop offset="0.5" stop-color="rgb(42,50,136)" stop-opacity="0.778"/><stop offset="0.75" stop-color="rgb(42,50,136)" stop-opacity="0.825"/><stop offset="1.0" stop-color="rgb(42,50,136)" stop-opacity="0.873"/></linearGradient><linearGradient id="c136" x1="0" y1="0" x2="0" y2="1"><stop offset="0.0" stop-color="rgb(42,50,136)" stop-opacity="0.356"/><stop offset="0.025" stop-color="rgb(42,50,136)" stop-opacity="0.593"/><stop offset="0.25" stop-color="rgb(42,50,136)" stop-opacity="0.647"/><stop offset="0.5" stop-color="rgb(42,50,136)" stop-opacity="0.710"/><stop offset="0.75" stop-color="rgb(42,50,136)" stop-opacity="0.773"/><stop offset="1.0" stop-color="rgb(42,50,136)" stop-opacity="0.836"/></linearGradient><linearGradient id="c137" x1="0" y1="0" x2="0" y2="1"><stop offset="0.0" stop-color="rgb(42,50,136)" stop-opacity="0.228"/><stop offset="0.025" stop-color="rgb(42,50,136)" stop-opacity="0.380"/><stop offset="0.25" stop-color="rgb(42,50,136)" stop-opacity="0.465"/><stop offset="0.5" stop-color="rgb(42,50,136)" stop-opacity="0.562"/><stop offset="0.75" stop-color="rgb(42,50,136)" stop-opacity="0.660"/><stop offset="1.0" stop-color="rgb(42,50,136)" stop-opacity="0.757"/></linearGradient><linearGradient id="c138" x1="0" y1="0" x2="0" y2="1"><stop offset="0.0" stop-color="rgb(42,50,136)" stop-opacity="0.175"/><stop offset="0.025" stop-color="rgb(42,50,136)" stop-opacity="0.292"/><stop offset="0.25" stop-color="rgb(42,50,136)" stop-opacity="0.388"/><stop offset="0.5" stop-color="rgb(42,50,136)" stop-opacity="0.498"/><stop offset="0.75" stop-color="rgb(42,50,136)" stop-opacity="0.609"/><stop offset="1.0" stop-color="rgb(42,50,136)" stop-opacity="0.720"/></linearGradient><linearGradient id="c139" x1="0" y1="0" x2="0" y2="1"><stop offset="0.0" stop-color="rgb(42,50,136)" stop-opacity="0.257"/><stop offset="0.025" stop-color="rgb(42,50,136)" stop-opacity="0.428"/><stop offset="0.25" stop-color="rgb(42,50,136)" stop-opacity="0.508"/><stop offset="0.5" stop-color="rgb(42,50,136)" stop-opacity="0.600"/><stop offset="0.75" stop-color="rgb(42,50,136)" stop-opacity="0.692"/><stop offset="1.0" stop-color="rgb(42,50,136)" stop-opacity="0.783"/></linearGradient><linearGradient id="c140" x1="0" y1="0" x2="0" y2="1"><stop offset="0.0" stop-color="rgb(42,50,136)" stop-opacity="0.381"/><stop offset="0.025" stop-color="rgb(42,50,136)" stop-opacity="0.635"/><stop offset="0.25" stop-color="rgb(42,50,136)" stop-opacity="0.686"/><stop offset="0.5" stop-color="rgb(42,50,136)" stop-opacity="0.744"/><stop offset="0.75" stop-color="rgb(42,50,136)" stop-opacity="0.803"/><stop offset="1.0" stop-color="rgb(42,50,136)" stop-opacity="0.861"/></linearGradient><linearGradient id="c141" x1="0" y1="0" x2="0" y2="1"><stop offset="0.0" stop-color="rgb(42,50,136)" stop-opacity="0.406"/><stop offset="0.025" stop-color="rgb(42,50,136)" stop-opacity="0.676"/><stop offset="0.25" stop-color="rgb(42,50,136)" stop-opacity="0.721"/><stop offset="0.5" stop-color="rgb(42,50,136)" stop-opacity="0.773"/><stop offset="0.75" stop-color="rgb(42,50,136)" stop-opacity="0.825"/><stop offset="1.0" stop-color="rgb(42,50,136)" stop-opacity="0.877"/></linearGradient><linearGradient id="c142" x1="0" y1="0" x2="0" y2="1"><stop offset="0.0" stop-color="rgb(42,50,136)" stop-opacity="0.302"/><stop offset="0.024" stop-color="rgb(42,50,136)" stop-opacity="0.503"/><stop offset="0.25" stop-color="rgb(42,50,136)" stop-opacity="0.575"/><stop offset="0.5" stop-color="rgb(42,50,136)" stop-opacity="0.657"/><stop offset="0.75" stop-color="rgb(42,50,136)" stop-opacity="0.739"/><stop offset="1.0" stop-color="rgb(42,50,136)" stop-opacity="0.821"/></linearGradient><linearGradient id="c143" x1="0" y1="0" x2="0" y2="1"><stop offset="0.0" stop-color="rgb(42,50,136)" stop-opacity="0.189"/><stop offset="0.024" stop-color="rgb(42,50,136)" stop-opacity="0.315"/><stop offset="0.25" stop-color="rgb(42,50,136)" stop-opacity="0.414"/><stop offset="0.5" stop-color="rgb(42,50,136)" stop-opacity="0.527"/><stop offset="0.75" stop-color="rgb(42,50,136)" stop-opacity="0.640"/><stop offset="1.0" stop-color="rgb(42,50,136)" stop-opacity="0.753"/></linearGradient><linearGradient id="c144" x1="0" y1="0" x2="0" y2="1"><stop offset="0.0" stop-color="rgb(42,50,136)" stop-opacity="0.197"/><stop offset="0.023" stop-color="rgb(42,50,136)" stop-opacity="0.329"/><stop offset="0.25" stop-color="rgb(42,50,136)" stop-opacity="0.427"/><stop offset="0.5" stop-color="rgb(42,50,136)" stop-opacity="0.540"/><stop offset="0.75" stop-color="rgb(42,50,136)" stop-opacity="0.652"/><stop offset="1.0" stop-color="rgb(42,50,136)" stop-opacity="0.765"/></linearGradient><linearGradient id="c145" x1="0" y1="0" x2="0" y2="1"><stop offset="0.0" stop-color="rgb(42,50,136)" stop-opacity="0.318"/><stop offset="0.024" stop-color="rgb(42,50,136)" stop-opacity="0.530"/><stop offset="0.25" stop-color="rgb(42,50,136)" stop-opacity="0.599"/><stop offset="0.5" stop-color="rgb(42,50,136)" stop-opacity="0.677"/><stop offset="0.75" stop-color="rgb(42,50,136)" stop-opacity="0.756"/><stop offset="1.0" stop-color="rgb(42,50,136)" stop-opacity="0.835"/></linearGradient><linearGradient id="c146" x1="0" y1="0" x2="0" y2="1"><stop offset="0.0" stop-color="rgb(42,50,136)" stop-opacity="0.411"/><stop offset="0.023" stop-color="rgb(42,50,136)" stop-opacity="0.685"/><stop offset="0.25" stop-color="rgb(42,50,136)" stop-opacity="0.731"/><stop offset="0.5" stop-color="rgb(42,50,136)" stop-opacity="0.784"/><stop offset="0.75" stop-color="rgb(42,50,136)" stop-opacity="0.837"/><stop offset="1.0" stop-color="rgb(42,50,136)" stop-opacity="0.889"/></linearGradient><linearGradient id="c147" x1="0" y1="0" x2="0" y2="1"><stop offset="0.0" stop-color="rgb(42,50,136)" stop-opacity="0.368"/><stop offset="0.023" stop-color="rgb(42,50,136)" stop-opacity="0.613"/><stop offset="0.25" stop-color="rgb(42,50,136)" stop-opacity="0.670"/><stop offset="0.5" stop-color="rgb(42,50,136)" stop-opacity="0.735"/><stop offset="0.75" stop-color="rgb(42,50,136)" stop-opacity="0.800"/><stop offset="1.0" stop-color="rgb(42,50,136)" stop-opacity="0.866"/></linearGradient><linearGradient id="c148" x1="0" y1="0" x2="0" y2="1"><stop offset="0.0" stop-color="rgb(42,50,136)" stop-opacity="0.238"/><stop offset="0.023" stop-color="rgb(42,50,136)" stop-opacity="0.397"/><stop offset="0.25" stop-color="rgb(42,50,136)" stop-opacity="0.489"/><stop offset="0.5" stop-color="rgb(42,50,136)" stop-opacity="0.594"/><stop offset="0.75" stop-color="rgb(42,50,136)" stop-opacity="0.699"/><stop offset="1.0" stop-color="rgb(42,50,136)" stop-opacity="0.804"/></linearGradient><linearGradient id="c149" x1="0" y1="0" x2="0" y2="1"><stop offset="0.0" stop-color="rgb(42,50,136)" stop-opacity="0.174"/><stop offset="0.023" stop-color="rgb(42,50,136)" stop-opacity="0.290"/><stop offset="0.25" stop-color="rgb(42,50,136)" stop-opacity="0.399"/><stop offset="0.5" stop-color="rgb(42,50,136)" stop-opacity="0.522"/><stop offset="0.75" stop-color="rgb(42,50,136)" stop-opacity="0.646"/><stop offset="1.0" stop-color="rgb(42,50,136)" stop-opacity="0.769"/></linearGradient><linearGradient id="c150" x1="0" y1="0" x2="0" y2="1"><stop offset="0.0" stop-color="rgb(42,50,136)" stop-opacity="0.251"/><stop offset="0.023" stop-color="rgb(42,50,136)" stop-opacity="0.419"/><stop offset="0.25" stop-color="rgb(42,50,136)" stop-opacity="0.508"/><stop offset="0.5" stop-color="rgb(42,50,136)" stop-opacity="0.609"/><stop offset="0.75" stop-color="rgb(42,50,136)" stop-opacity="0.710"/><stop offset="1.0" stop-color="rgb(42,50,136)" stop-opacity="0.812"/></linearGradient><linearGradient id="c151" x1="0" y1="0" x2="0" y2="1"><stop offset="0.0" stop-color="rgb(42,50,136)" stop-opacity="0.379"/><stop offset="0.023" stop-color="rgb(42,50,136)" stop-opacity="0.632"/><stop offset="0.25" stop-color="rgb(42,50,136)" stop-opacity="0.688"/><stop offset="0.5" stop-color="rgb(42,50,136)" stop-opacity="0.753"/><stop offset="0.75" stop-color="rgb(42,50,136)" stop-opacity="0.817"/><stop offset="1.0" stop-color="rgb(42,50,136)" stop-opacity="0.882"/></linearGradient><linearGradient id="c152" x1="0" y1="0" x2="0" y2="1"><stop offset="0.0" stop-color="rgb(42,50,136)" stop-opacity="0.406"/><stop offset="0.022" stop-color="rgb(42,50,136)" stop-opacity="0.676"/><stop offset="0.25" stop-color="rgb(42,50,136)" stop-opacity="0.727"/><stop offset="0.5" stop-color="rgb(42,50,136)" stop-opacity="0.785"/><stop offset="0.75" stop-color="rgb(42,50,136)" stop-opacity="0.842"/><stop offset="1.0" stop-color="rgb(42,50,136)" stop-opacity="0.900"/></linearGradient><linearGradient id="c153" x1="0" y1="0" x2="0" y2="1"><stop offset="0.0" stop-color="rgb(42,50,136)" stop-opacity="0.300"/><stop offset="0.022" stop-color="rgb(42,50,136)" stop-opacity="0.499"/><stop offset="0.25" stop-color="rgb(42,50,136)" stop-opacity="0.579"/><stop offset="0.5" stop-color="rgb(42,50,136)" stop-opacity="0.670"/><stop offset="0.75" stop-color="rgb(42,50,136)" stop-opacity="0.760"/><stop offset="1.0" stop-color="rgb(42,50,136)" stop-opacity="0.850"/></linearGradient><linearGradient id="c154" x1="0" y1="0" x2="0" y2="1"><stop offset="0.0" stop-color="rgb(42,50,136)" stop-opacity="0.186"/><stop offset="0.022" stop-color="rgb(42,50,136)" stop-opacity="0.311"/><stop offset="0.25" stop-color="rgb(42,50,136)" stop-opacity="0.421"/><stop offset="0.5" stop-color="rgb(42,50,136)" stop-opacity="0.546"/><stop offset="0.75" stop-color="rgb(42,50,136)" stop-opacity="0.671"/><stop offset="1.0" stop-color="rgb(42,50,136)" stop-opacity="0.795"/></linearGradient><linearGradient id="c155" x1="0" y1="0" x2="0" y2="1"><stop offset="0.0" stop-color="rgb(42,50,136)" stop-opacity="0.202"/><stop offset="0.022" stop-color="rgb(42,50,136)" stop-opacity="0.337"/><stop offset="0.25" stop-color="rgb(42,50,136)" stop-opacity="0.444"/><stop offset="0.5" stop-color="rgb(42,50,136)" stop-opacity="0.565"/><stop offset="0.75" stop-color="rgb(42,50,136)" stop-opacity="0.687"/><stop offset="1.0" stop-color="rgb(42,50,136)" stop-opacity="0.808"/></linearGradient><linearGradient id="c156" x1="0" y1="0" x2="0" y2="1"><stop offset="0.0" stop-color="rgb(42,50,136)" stop-opacity="0.328"/><stop offset="0.021" stop-color="rgb(42,50,136)" stop-opacity="0.547"/><stop offset="0.25" stop-color="rgb(42,50,136)" stop-opacity="0.621"/><stop offset="0.5" stop-color="rgb(42,50,136)" stop-opacity="0.705"/><stop offset="0.75" stop-color="rgb(42,50,136)" stop-opacity="0.788"/><stop offset="1.0" stop-color="rgb(42,50,136)" stop-opacity="0.872"/></linearGradient><linearGradient id="c157" x1="0" y1="0" x2="0" y2="1"><stop offset="0.0" stop-color="rgb(42,50,136)" stop-opacity="0.413"/><stop offset="0.021" stop-color="rgb(42,50,136)" stop-opacity="0.689"/><stop offset="0.25" stop-color="rgb(42,50,136)" stop-opacity="0.740"/><stop offset="0.5" stop-color="rgb(42,50,136)" stop-opacity="0.798"/><stop offset="0.75" stop-color="rgb(42,50,136)" stop-opacity="0.857"/><stop offset="1.0" stop-color="rgb(42,50,136)" stop-opacity="0.915"/></linearGradient><linearGradient id="c158" x1="0" y1="0" x2="0" y2="1"><stop offset="0.0" stop-color="rgb(42,50,136)" stop-opacity="0.354"/><stop offset="0.021" stop-color="rgb(42,50,136)" stop-opacity="0.590"/><stop offset="0.25" stop-color="rgb(42,50,136)" stop-opacity="0.658"/><stop offset="0.5" stop-color="rgb(42,50,136)" stop-opacity="0.735"/><stop offset="0.75" stop-color="rgb(42,50,136)" stop-opacity="0.812"/><stop offset="1.0" stop-color="rgb(42,50,136)" stop-opacity="0.888"/></linearGradient><linearGradient id="c159" x1="0" y1="0" x2="0" y2="1"><stop offset="0.0" stop-color="rgb(42,50,136)" stop-opacity="0.222"/><stop offset="0.021" stop-color="rgb(42,50,136)" stop-opacity="0.370"/><stop offset="0.25" stop-color="rgb(42,50,136)" stop-opacity="0.476"/><stop offset="0.5" stop-color="rgb(42,50,136)" stop-opacity="0.595"/><stop offset="0.75" stop-color="rgb(42,50,136)" stop-opacity="0.714"/><stop offset="1.0" stop-color="rgb(42,50,136)" stop-opacity="0.833"/></linearGradient><linearGradient id="c160" x1="0" y1="0" x2="0" y2="1"><stop offset="0.0" stop-color="rgb(42,50,136)" stop-opacity="0.177"/><stop offset="0.021" stop-color="rgb(42,50,136)" stop-opacity="0.296"/><stop offset="0.25" stop-color="rgb(42,50,136)" stop-opacity="0.415"/><stop offset="0.5" stop-color="rgb(42,50,136)" stop-opacity="0.550"/><stop offset="0.75" stop-color="rgb(42,50,136)" stop-opacity="0.684"/><stop offset="1.0" stop-color="rgb(42,50,136)" stop-opacity="0.818"/></linearGradient><linearGradient id="c161" x1="0" y1="0" x2="0" y2="1"><stop offset="0.0" stop-color="rgb(42,50,136)" stop-opacity="0.275"/><stop offset="0.02" stop-color="rgb(42,50,136)" stop-opacity="0.459"/><stop offset="0.25" stop-color="rgb(42,50,136)" stop-opacity="0.551"/><stop offset="0.5" stop-color="rgb(42,50,136)" stop-opacity="0.656"/><stop offset="0.75" stop-color="rgb(42,50,136)" stop-opacity="0.760"/><stop offset="1.0" stop-color="rgb(42,50,136)" stop-opacity="0.864"/></linearGradient><linearGradient id="c162" x1="0" y1="0" x2="0" y2="1"><stop offset="0.0" stop-color="rgb(42,50,136)" stop-opacity="0.396"/><stop offset="0.02" stop-color="rgb(42,50,136)" stop-opacity="0.660"/><stop offset="0.25" stop-color="rgb(42,50,136)" stop-opacity="0.719"/><stop offset="0.5" stop-color="rgb(42,50,136)" stop-opacity="0.786"/><stop offset="0.75" stop-color="rgb(42,50,136)" stop-opacity="0.852"/><stop offset="1.0" stop-color="rgb(42,50,136)" stop-opacity="0.918"/></linearGradient><linearGradient id="c163" x1="0" y1="0" x2="0" y2="1"><stop offset="0.0" stop-color="rgb(42,50,136)" stop-opacity="0.392"/><stop offset="0.02" stop-color="rgb(42,50,136)" stop-opacity="0.653"/><stop offset="0.25" stop-color="rgb(42,50,136)" stop-opacity="0.713"/><stop offset="0.5" stop-color="rgb(42,50,136)" stop-opacity="0.781"/><stop offset="0.75" stop-color="rgb(42,50,136)" stop-opacity="0.849"/><stop offset="1.0" stop-color="rgb(42,50,136)" stop-opacity="0.917"/></linearGradient><linearGradient id="c164" x1="0" y1="0" x2="0" y2="1"><stop offset="0.0" stop-color="rgb(42,50,136)" stop-opacity="0.267"/><stop offset="0.02" stop-color="rgb(42,50,136)" stop-opacity="0.445"/><stop offset="0.25" stop-color="rgb(42,50,136)" stop-opacity="0.542"/><stop offset="0.5" stop-color="rgb(42,50,136)" stop-opacity="0.650"/><stop offset="0.75" stop-color="rgb(42,50,136)" stop-opacity="0.759"/><stop offset="1.0" stop-color="rgb(42,50,136)" stop-opacity="0.868"/></linearGradient><linearGradient id="c165" x1="0" y1="0" x2="0" y2="1"><stop offset="0.0" stop-color="rgb(42,50,136)" stop-opacity="0.176"/><stop offset="0.02" stop-color="rgb(42,50,136)" stop-opacity="0.293"/><stop offset="0.25" stop-color="rgb(42,50,136)" stop-opacity="0.418"/><stop offset="0.5" stop-color="rgb(42,50,136)" stop-opacity="0.559"/><stop offset="0.75" stop-color="rgb(42,50,136)" stop-opacity="0.699"/><stop offset="1.0" stop-color="rgb(42,50,136)" stop-opacity="0.840"/></linearGradient><linearGradient id="c166" x1="0" y1="0" x2="0" y2="1"><stop offset="0.0" stop-color="rgb(42,50,136)" stop-opacity="0.231"/><stop offset="0.02" stop-color="rgb(42,50,136)" stop-opacity="0.385"/><stop offset="0.25" stop-color="rgb(42,50,136)" stop-opacity="0.496"/><stop offset="0.5" stop-color="rgb(42,50,136)" stop-opacity="0.620"/><stop offset="0.75" stop-color="rgb(42,50,136)" stop-opacity="0.744"/><stop offset="1.0" stop-color="rgb(42,50,136)" stop-opacity="0.868"/></linearGradient><linearGradient id="c167" x1="0" y1="0" x2="0" y2="1"><stop offset="0.0" stop-color="rgb(42,50,136)" stop-opacity="0.365"/><stop offset="0.02" stop-color="rgb(42,50,136)" stop-opacity="0.608"/><stop offset="0.25" stop-color="rgb(42,50,136)" stop-opacity="0.678"/><stop offset="0.5" stop-color="rgb(42,50,136)" stop-opacity="0.757"/><stop offset="0.75" stop-color="rgb(42,50,136)" stop-opacity="0.835"/><stop offset="1.0" stop-color="rgb(42,50,136)" stop-opacity="0.913"/></linearGradient><linearGradient id="c168" x1="0" y1="0" x2="0" y2="1"><stop offset="0.0" stop-color="rgb(42,50,136)" stop-opacity="0.410"/><stop offset="0.019" stop-color="rgb(42,50,136)" stop-opacity="0.684"/><stop offset="0.25" stop-color="rgb(42,50,136)" stop-opacity="0.744"/><stop offset="0.5" stop-color="rgb(42,50,136)" stop-opacity="0.811"/><stop offset="0.75" stop-color="rgb(42,50,136)" stop-opacity="0.878"/><stop offset="1.0" stop-color="rgb(42,50,136)" stop-opacity="0.944"/></linearGradient><linearGradient id="c169" x1="0" y1="0" x2="0" y2="1"><stop offset="0.0" stop-color="rgb(42,50,136)" stop-opacity="0.310"/><stop offset="0.019" stop-color="rgb(42,50,136)" stop-opacity="0.517"/><stop offset="0.25" stop-color="rgb(42,50,136)" stop-opacity="0.609"/><stop offset="0.5" stop-color="rgb(42,50,136)" stop-opacity="0.711"/><stop offset="0.75" stop-color="rgb(42,50,136)" stop-opacity="0.813"/><stop offset="1.0" stop-color="rgb(42,50,136)" stop-opacity="0.915"/></linearGradient><linearGradient id="c170" x1="0" y1="0" x2="0" y2="1"><stop offset="0.0" stop-color="rgb(42,50,136)" stop-opacity="0.190"/><stop offset="0.018" stop-color="rgb(42,50,136)" stop-opacity="0.316"/><stop offset="0.25" stop-color="rgb(42,50,136)" stop-opacity="0.448"/><stop offset="0.5" stop-color="rgb(42,50,136)" stop-opacity="0.595"/><stop offset="0.75" stop-color="rgb(42,50,136)" stop-opacity="0.742"/><stop offset="1.0" stop-color="rgb(42,50,136)" stop-opacity="0.889"/></linearGradient><linearGradient id="c171" x1="0" y1="0" x2="0" y2="1"><stop offset="0.0" stop-color="rgb(42,50,136)" stop-opacity="0.201"/><stop offset="0.018" stop-color="rgb(42,50,136)" stop-opacity="0.334"/><stop offset="0.25" stop-color="rgb(42,50,136)" stop-opacity="0.464"/><stop offset="0.5" stop-color="rgb(42,50,136)" stop-opacity="0.609"/><stop offset="0.75" stop-color="rgb(42,50,136)" stop-opacity="0.753"/><stop offset="1.0" stop-color="rgb(42,50,136)" stop-opacity="0.897"/></linearGradient><linearGradient id="c172" x1="0" y1="0" x2="0" y2="1"><stop offset="0.0" stop-color="rgb(42,50,136)" stop-opacity="0.330"/><stop offset="0.018" stop-color="rgb(42,50,136)" stop-opacity="0.549"/><stop offset="0.25" stop-color="rgb(42,50,136)" stop-opacity="0.639"/><stop offset="0.5" stop-color="rgb(42,50,136)" stop-opacity="0.737"/><stop offset="0.75" stop-color="rgb(42,50,136)" stop-opacity="0.836"/><stop offset="1.0" stop-color="rgb(42,50,136)" stop-opacity="0.935"/></linearGradient><linearGradient id="c173" x1="0" y1="0" x2="0" y2="1"><stop offset="0.0" stop-color="rgb(42,50,136)" stop-opacity="0.414"/><stop offset="0.018" stop-color="rgb(42,50,136)" stop-opacity="0.689"/><stop offset="0.25" stop-color="rgb(42,50,136)" stop-opacity="0.750"/><stop offset="0.5" stop-color="rgb(42,50,136)" stop-opacity="0.818"/><stop offset="0.75" stop-color="rgb(42,50,136)" stop-opacity="0.886"/><stop offset="1.0" stop-color="rgb(42,50,136)" stop-opacity="0.953"/></linearGradient><linearGradient id="c174" x1="0" y1="0" x2="0" y2="1"><stop offset="0.0" stop-color="rgb(42,50,136)" stop-opacity="0.346"/><stop offset="0.018" stop-color="rgb(42,50,136)" stop-opacity="0.576"/><stop offset="0.25" stop-color="rgb(42,50,136)" stop-opacity="0.659"/><stop offset="0.5" stop-color="rgb(42,50,136)" stop-opacity="0.752"/><stop offset="0.75" stop-color="rgb(42,50,136)" stop-opacity="0.844"/><stop offset="1.0" stop-color="rgb(42,50,136)" stop-opacity="0.936"/></linearGradient><linearGradient id="c175" x1="0" y1="0" x2="0" y2="1"><stop offset="0.0" stop-color="rgb(42,50,136)" stop-opacity="0.212"/><stop offset="0.018" stop-color="rgb(42,50,136)" stop-opacity="0.353"/><stop offset="0.25" stop-color="rgb(42,50,136)" stop-opacity="0.483"/><stop offset="0.5" stop-color="rgb(42,50,136)" stop-opacity="0.627"/><stop offset="0.75" stop-color="rgb(42,50,136)" stop-opacity="0.771"/><stop offset="1.0" stop-color="rgb(42,50,136)" stop-opacity="0.915"/></linearGradient><linearGradient id="c176" x1="0" y1="0" x2="0" y2="1"><stop offset="0.0" stop-color="rgb(42,50,136)" stop-opacity="0.183"/><stop offset="0.018" stop-color="rgb(42,50,136)" stop-opacity="0.305"/><stop offset="0.25" stop-color="rgb(42,50,136)" stop-opacity="0.446"/><stop offset="0.5" stop-color="rgb(42,50,136)" stop-opacity="0.601"/><stop offset="0.75" stop-color="rgb(42,50,136)" stop-opacity="0.757"/><stop offset="1.0" stop-color="rgb(42,50,136)" stop-opacity="0.912"/></linearGradient><linearGradient id="c177" x1="0" y1="0" x2="0" y2="1"><stop offset="0.0" stop-color="rgb(42,50,136)" stop-opacity="0.297"/><stop offset="0.018" stop-color="rgb(42,50,136)" stop-opacity="0.494"/><stop offset="0.25" stop-color="rgb(42,50,136)" stop-opacity="0.597"/><stop offset="0.5" stop-color="rgb(42,50,136)" stop-opacity="0.710"/><stop offset="0.75" stop-color="rgb(42,50,136)" stop-opacity="0.823"/><stop offset="1.0" stop-color="rgb(42,50,136)" stop-opacity="0.936"/></linearGradient><linearGradient id="c178" x1="0" y1="0" x2="0" y2="1"><stop offset="0.0" stop-color="rgb(42,50,136)" stop-opacity="0.407"/><stop offset="0.017" stop-color="rgb(42,50,136)" stop-opacity="0.678"/><stop offset="0.25" stop-color="rgb(42,50,136)" stop-opacity="0.744"/><stop offset="0.5" stop-color="rgb(42,50,136)" stop-opacity="0.817"/><stop offset="0.75" stop-color="rgb(42,50,136)" stop-opacity="0.890"/><stop offset="1.0" stop-color="rgb(42,50,136)" stop-opacity="0.963"/></linearGradient><linearGradient id="c179" x1="0" y1="0" x2="0" y2="1"><stop offset="0.0" stop-color="rgb(42,50,136)" stop-opacity="0.372"/><stop offset="0.017" stop-color="rgb(42,50,136)" stop-opacity="0.619"/><stop offset="0.25" stop-color="rgb(42,50,136)" stop-opacity="0.698"/><stop offset="0.5" stop-color="rgb(42,50,136)" stop-opacity="0.784"/><stop offset="0.75" stop-color="rgb(42,50,136)" stop-opacity="0.871"/><stop offset="1.0" stop-color="rgb(42,50,136)" stop-opacity="0.957"/></linearGradient><linearGradient id="c180" x1="0" y1="0" x2="0" y2="1"><stop offset="0.0" stop-color="rgb(42,50,136)" stop-opacity="0.236"/><stop offset="0.017" stop-color="rgb(42,50,136)" stop-opacity="0.393"/><stop offset="0.25" stop-color="rgb(42,50,136)" stop-opacity="0.519"/><stop offset="0.5" stop-color="rgb(42,50,136)" stop-opacity="0.658"/><stop offset="0.75" stop-color="rgb(42,50,136)" stop-opacity="0.796"/><stop offset="1.0" stop-color="rgb(42,50,136)" stop-opacity="0.935"/></linearGradient><linearGradient id="c181" x1="0" y1="0" x2="0" y2="1"><stop offset="0.0" stop-color="rgb(42,50,136)" stop-opacity="0.175"/><stop offset="0.017" stop-color="rgb(42,50,136)" stop-opacity="0.292"/><stop offset="0.25" stop-color="rgb(42,50,136)" stop-opacity="0.440"/><stop offset="0.5" stop-color="rgb(42,50,136)" stop-opacity="0.602"/><stop offset="0.75" stop-color="rgb(42,50,136)" stop-opacity="0.764"/><stop offset="1.0" stop-color="rgb(42,50,136)" stop-opacity="0.927"/></linearGradient><linearGradient id="c182" x1="0" y1="0" x2="0" y2="1"><stop offset="0.0" stop-color="rgb(42,50,136)" stop-opacity="0.270"/><stop offset="0.017" stop-color="rgb(42,50,136)" stop-opacity="0.449"/><stop offset="0.25" stop-color="rgb(42,50,136)" stop-opacity="0.564"/><stop offset="0.5" stop-color="rgb(42,50,136)" stop-opacity="0.691"/><stop offset="0.75" stop-color="rgb(42,50,136)" stop-opacity="0.817"/><stop offset="1.0" stop-color="rgb(42,50,136)" stop-opacity="0.944"/></linearGradient><linearGradient id="c183" x1="0" y1="0" x2="0" y2="1"><stop offset="0.0" stop-color="rgb(42,50,136)" stop-opacity="0.396"/><stop offset="0.017" stop-color="rgb(42,50,136)" stop-opacity="0.660"/><stop offset="0.25" stop-color="rgb(42,50,136)" stop-opacity="0.731"/><stop offset="0.5" stop-color="rgb(42,50,136)" stop-opacity="0.810"/><stop offset="0.75" stop-color="rgb(42,50,136)" stop-opacity="0.889"/><stop offset="1.0" stop-color="rgb(42,50,136)" stop-opacity="0.968"/></linearGradient><linearGradient id="c184" x1="0" y1="0" x2="0" y2="1"><stop offset="0.0" stop-color="rgb(42,50,136)" stop-opacity="0.389"/><stop offset="0.017" stop-color="rgb(42,50,136)" stop-opacity="0.648"/><stop offset="0.25" stop-color="rgb(42,50,136)" stop-opacity="0.722"/><stop offset="0.5" stop-color="rgb(42,50,136)" stop-opacity="0.804"/><stop offset="0.75" stop-color="rgb(42,50,136)" stop-opacity="0.886"/><stop offset="1.0" stop-color="rgb(42,50,136)" stop-opacity="0.968"/></linearGradient><linearGradient id="c185" x1="0" y1="0" x2="0" y2="1"><stop offset="0.0" stop-color="rgb(42,50,136)" stop-opacity="0.257"/><stop offset="0.017" stop-color="rgb(42,50,136)" stop-opacity="0.429"/><stop offset="0.25" stop-color="rgb(42,50,136)" stop-opacity="0.551"/><stop offset="0.5" stop-color="rgb(42,50,136)" stop-opacity="0.685"/><stop offset="0.75" stop-color="rgb(42,50,136)" stop-opacity="0.819"/><stop offset="1.0" stop-color="rgb(42,50,136)" stop-opacity="0.954"/></linearGradient><linearGradient id="c186" x1="0" y1="0" x2="0" y2="1"><stop offset="0.0" stop-color="rgb(42,50,136)" stop-opacity="0.174"/><stop offset="0.017" stop-color="rgb(42,50,136)" stop-opacity="0.290"/><stop offset="0.25" stop-color="rgb(42,50,136)" stop-opacity="0.442"/><stop offset="0.5" stop-color="rgb(42,50,136)" stop-opacity="0.609"/><stop offset="0.75" stop-color="rgb(42,50,136)" stop-opacity="0.777"/><stop offset="1.0" stop-color="rgb(42,50,136)" stop-opacity="0.944"/></linearGradient><linearGradient id="c187" x1="0" y1="0" x2="0" y2="1"><stop offset="0.0" stop-color="rgb(42,50,136)" stop-opacity="0.249"/><stop offset="0.016" stop-color="rgb(42,50,136)" stop-opacity="0.416"/><stop offset="0.25" stop-color="rgb(42,50,136)" stop-opacity="0.543"/><stop offset="0.5" stop-color="rgb(42,50,136)" stop-opacity="0.683"/><stop offset="0.75" stop-color="rgb(42,50,136)" stop-opacity="0.823"/><stop offset="1.0" stop-color="rgb(42,50,136)" stop-opacity="0.962"/></linearGradient><linearGradient id="c188" x1="0" y1="0" x2="0" y2="1"><stop offset="0.0" stop-color="rgb(42,50,136)" stop-opacity="0.384"/><stop offset="0.016" stop-color="rgb(42,50,136)" stop-opacity="0.640"/><stop offset="0.25" stop-color="rgb(42,50,136)" stop-opacity="0.719"/><stop offset="0.5" stop-color="rgb(42,50,136)" stop-opacity="0.805"/><stop offset="0.75" stop-color="rgb(42,50,136)" stop-opacity="0.891"/><stop offset="1.0" stop-color="rgb(42,50,136)" stop-opacity="0.977"/></linearGradient><linearGradient id="c189" x1="0" y1="0" x2="0" y2="1"><stop offset="0.0" stop-color="rgb(42,50,136)" stop-opacity="0.399"/><stop offset="0.017" stop-color="rgb(42,50,136)" stop-opacity="0.665"/><stop offset="0.25" stop-color="rgb(42,50,136)" stop-opacity="0.738"/><stop offset="0.5" stop-color="rgb(42,50,136)" stop-opacity="0.818"/><stop offset="0.75" stop-color="rgb(42,50,136)" stop-opacity="0.897"/><stop offset="1.0" stop-color="rgb(42,50,136)" stop-opacity="0.977"/></linearGradient><linearGradient id="c190" x1="0" y1="0" x2="0" y2="1"><stop offset="0.0" stop-color="rgb(42,50,136)" stop-opacity="0.274"/><stop offset="0.016" stop-color="rgb(42,50,136)" stop-opacity="0.457"/><stop offset="0.25" stop-color="rgb(42,50,136)" stop-opacity="0.576"/><stop offset="0.5" stop-color="rgb(42,50,136)" stop-opacity="0.707"/><stop offset="0.75" stop-color="rgb(42,50,136)" stop-opacity="0.838"/><stop offset="1.0" stop-color="rgb(42,50,136)" stop-opacity="0.969"/></linearGradient><linearGradient id="c191" x1="0" y1="0" x2="0" y2="1"><stop offset="0.0" stop-color="rgb(42,50,136)" stop-opacity="0.176"/><stop offset="0.016" stop-color="rgb(42,50,136)" stop-opacity="0.293"/><stop offset="0.25" stop-color="rgb(42,50,136)" stop-opacity="0.448"/><stop offset="0.5" stop-color="rgb(42,50,136)" stop-opacity="0.618"/><stop offset="0.75" stop-color="rgb(42,50,136)" stop-opacity="0.788"/><stop offset="1.0" stop-color="rgb(42,50,136)" stop-opacity="0.958"/></linearGradient><linearGradient id="c192" x1="0" y1="0" x2="0" y2="1"><stop offset="0.0" stop-color="rgb(42,50,136)" stop-opacity="0.236"/><stop offset="0.016" stop-color="rgb(42,50,136)" stop-opacity="0.393"/><stop offset="0.25" stop-color="rgb(42,50,136)" stop-opacity="0.527"/><stop offset="0.5" stop-color="rgb(42,50,136)" stop-opacity="0.674"/><stop offset="0.75" stop-color="rgb(42,50,136)" stop-opacity="0.820"/><stop offset="1.0" stop-color="rgb(42,50,136)" stop-opacity="0.967"/></linearGradient><linearGradient id="c193" x1="0" y1="0" x2="0" y2="1"><stop offset="0.0" stop-color="rgb(42,50,136)" stop-opacity="0.374"/><stop offset="0.016" stop-color="rgb(42,50,136)" stop-opacity="0.624"/><stop offset="0.25" stop-color="rgb(42,50,136)" stop-opacity="0.707"/><stop offset="0.5" stop-color="rgb(42,50,136)" stop-opacity="0.798"/><stop offset="0.75" stop-color="rgb(42,50,136)" stop-opacity="0.889"/><stop offset="1.0" stop-color="rgb(42,50,136)" stop-opacity="0.980"/></linearGradient><linearGradient id="c194" x1="0" y1="0" x2="0" y2="1"><stop offset="0.0" stop-color="rgb(42,50,136)" stop-opacity="0.404"/><stop offset="0.016" stop-color="rgb(42,50,136)" stop-opacity="0.674"/><stop offset="0.25" stop-color="rgb(42,50,136)" stop-opacity="0.747"/><stop offset="0.5" stop-color="rgb(42,50,136)" stop-opacity="0.826"/><stop offset="0.75" stop-color="rgb(42,50,136)" stop-opacity="0.905"/><stop offset="1.0" stop-color="rgb(42,50,136)" stop-opacity="0.984"/></linearGradient><linearGradient id="c195" x1="0" y1="0" x2="0" y2="1"><stop offset="0.0" stop-color="rgb(42,50,136)" stop-opacity="0.285"/><stop offset="0.016" stop-color="rgb(42,50,136)" stop-opacity="0.475"/><stop offset="0.25" stop-color="rgb(42,50,136)" stop-opacity="0.592"/><stop offset="0.5" stop-color="rgb(42,50,136)" stop-opacity="0.720"/><stop offset="0.75" stop-color="rgb(42,50,136)" stop-opacity="0.849"/><stop offset="1.0" stop-color="rgb(42,50,136)" stop-opacity="0.974"/></linearGradient><linearGradient id="c196" x1="0" y1="0" x2="0" y2="1"><stop offset="0.0" stop-color="rgb(42,50,136)" stop-opacity="0.178"/><stop offset="0.016" stop-color="rgb(42,50,136)" stop-opacity="0.296"/><stop offset="0.25" stop-color="rgb(42,50,136)" stop-opacity="0.455"/><stop offset="0.5" stop-color="rgb(42,50,136)" stop-opacity="0.628"/><stop offset="0.75" stop-color="rgb(42,50,136)" stop-opacity="0.801"/><stop offset="1.0" stop-color="rgb(42,50,136)" stop-opacity="0.965"/></linearGradient><linearGradient id="c197" x1="0" y1="0" x2="0" y2="1"><stop offset="0.0" stop-color="rgb(42,50,136)" stop-opacity="0.228"/><stop offset="0.016" stop-color="rgb(42,50,136)" stop-opacity="0.381"/><stop offset="0.25" stop-color="rgb(42,50,136)" stop-opacity="0.521"/><stop offset="0.5" stop-color="rgb(42,50,136)" stop-opacity="0.674"/><stop offset="0.75" stop-color="rgb(42,50,136)" stop-opacity="0.828"/><stop offset="1.0" stop-color="rgb(42,50,136)" stop-opacity="0.969"/></linearGradient><linearGradient id="c198" x1="0" y1="0" x2="0" y2="1"><stop offset="0.0" stop-color="rgb(42,50,136)" stop-opacity="0.369"/><stop offset="0.016" stop-color="rgb(42,50,136)" stop-opacity="0.614"/><stop offset="0.25" stop-color="rgb(42,50,136)" stop-opacity="0.702"/><stop offset="0.5" stop-color="rgb(42,50,136)" stop-opacity="0.798"/><stop offset="0.75" stop-color="rgb(42,50,136)" stop-opacity="0.894"/><stop offset="1.0" stop-color="rgb(42,50,136)" stop-opacity="0.981"/></linearGradient><linearGradient id="c199" x1="0" y1="0" x2="0" y2="1"><stop offset="0.0" stop-color="rgb(42,50,136)" stop-opacity="0.407"/><stop offset="0.016" stop-color="rgb(42,50,136)" stop-opacity="0.678"/><stop offset="0.25" stop-color="rgb(42,50,136)" stop-opacity="0.751"/><stop offset="0.5" stop-color="rgb(42,50,136)" stop-opacity="0.832"/><stop offset="0.75" stop-color="rgb(42,50,136)" stop-opacity="0.912"/><stop offset="1.0" stop-color="rgb(42,50,136)" stop-opacity="0.984"/></linearGradient><linearGradient id="c200" x1="0" y1="0" x2="0" y2="1"><stop offset="0.0" stop-color="rgb(42,50,136)" stop-opacity="0.290"/><stop offset="0.016" stop-color="rgb(42,50,136)" stop-opacity="0.484"/><stop offset="0.25" stop-color="rgb(42,50,136)" stop-opacity="0.602"/><stop offset="0.5" stop-color="rgb(42,50,136)" stop-opacity="0.731"/><stop offset="0.75" stop-color="rgb(42,50,136)" stop-opacity="0.861"/><stop offset="1.0" stop-color="rgb(42,50,136)" stop-opacity="0.974"/></linearGradient><linearGradient id="c201" x1="0" y1="0" x2="0" y2="1"><stop offset="0.0" stop-color="rgb(42,50,136)" stop-opacity="0.179"/><stop offset="0.016" stop-color="rgb(42,50,136)" stop-opacity="0.298"/><stop offset="0.25" stop-color="rgb(42,50,136)" stop-opacity="0.459"/><stop offset="0.5" stop-color="rgb(42,50,136)" stop-opacity="0.635"/><stop offset="0.75" stop-color="rgb(42,50,136)" stop-opacity="0.811"/><stop offset="1.0" stop-color="rgb(42,50,136)" stop-opacity="0.965"/></linearGradient><linearGradient id="c202" x1="0" y1="0" x2="0" y2="1"><stop offset="0.0" stop-color="rgb(42,50,136)" stop-opacity="0.226"/><stop offset="0.016" stop-color="rgb(42,50,136)" stop-opacity="0.377"/><stop offset="0.25" stop-color="rgb(42,50,136)" stop-opacity="0.520"/><stop offset="0.5" stop-color="rgb(42,50,136)" stop-opacity="0.676"/><stop offset="0.75" stop-color="rgb(42,50,136)" stop-opacity="0.832"/><stop offset="1.0" stop-color="rgb(42,50,136)" stop-opacity="0.969"/></linearGradient><linearGradient id="c203" x1="0" y1="0" x2="0" y2="1"><stop offset="0.0" stop-color="rgb(42,50,136)" stop-opacity="0.368"/><stop offset="0.016" stop-color="rgb(42,50,136)" stop-opacity="0.613"/><stop offset="0.25" stop-color="rgb(42,50,136)" stop-opacity="0.702"/><stop offset="0.5" stop-color="rgb(42,50,136)" stop-opacity="0.799"/><stop offset="0.75" stop-color="rgb(42,50,136)" stop-opacity="0.896"/><stop offset="1.0" stop-color="rgb(42,50,136)" stop-opacity="0.981"/></linearGradient><linearGradient id="c204" x1="0" y1="0" x2="0" y2="1"><stop offset="0.0" stop-color="rgb(42,50,136)" stop-opacity="0.407"/><stop offset="0.016" stop-color="rgb(42,50,136)" stop-opacity="0.678"/><stop offset="0.25" stop-color="rgb(42,50,136)" stop-opacity="0.752"/><stop offset="0.5" stop-color="rgb(42,50,136)" stop-opacity="0.833"/><stop offset="0.75" stop-color="rgb(42,50,136)" stop-opacity="0.914"/><stop offset="1.0" stop-color="rgb(42,50,136)" stop-opacity="0.984"/></linearGradient><linearGradient id="c205" x1="0" y1="0" x2="0" y2="1"><stop offset="0.0" stop-color="rgb(42,50,136)" stop-opacity="0.289"/><stop offset="0.016" stop-color="rgb(42,50,136)" stop-opacity="0.482"/><stop offset="0.25" stop-color="rgb(42,50,136)" stop-opacity="0.603"/><stop offset="0.5" stop-color="rgb(42,50,136)" stop-opacity="0.734"/><stop offset="0.75" stop-color="rgb(42,50,136)" stop-opacity="0.866"/><stop offset="1.0" stop-color="rgb(42,50,136)" stop-opacity="0.974"/></linearGradient><linearGradient id="c206" x1="0" y1="0" x2="0" y2="1"><stop offset="0.0" stop-color="rgb(42,50,136)" stop-opacity="0.178"/><stop offset="0.016" stop-color="rgb(42,50,136)" stop-opacity="0.297"/><stop offset="0.25" stop-color="rgb(42,50,136)" stop-opacity="0.460"/><stop offset="0.5" stop-color="rgb(42,50,136)" stop-opacity="0.637"/><stop offset="0.75" stop-color="rgb(42,50,136)" stop-opacity="0.815"/><stop offset="1.0" stop-color="rgb(42,50,136)" stop-opacity="0.965"/></linearGradient><linearGradient id="c207" x1="0" y1="0" x2="0" y2="1"><stop offset="0.0" stop-color="rgb(42,50,136)" stop-opacity="0.229"/><stop offset="0.016" stop-color="rgb(42,50,136)" stop-opacity="0.382"/><stop offset="0.25" stop-color="rgb(42,50,136)" stop-opacity="0.525"/><stop offset="0.5" stop-color="rgb(42,50,136)" stop-opacity="0.681"/><stop offset="0.75" stop-color="rgb(42,50,136)" stop-opacity="0.837"/><stop offset="1.0" stop-color="rgb(42,50,136)" stop-opacity="0.969"/></linearGradient><linearGradient id="c208" x1="0" y1="0" x2="0" y2="1"><stop offset="0.0" stop-color="rgb(42,50,136)" stop-opacity="0.371"/><stop offset="0.016" stop-color="rgb(42,50,136)" stop-opacity="0.619"/><stop offset="0.25" stop-color="rgb(42,50,136)" stop-opacity="0.707"/><stop offset="0.5" stop-color="rgb(42,50,136)" stop-opacity="0.803"/><stop offset="0.75" stop-color="rgb(42,50,136)" stop-opacity="0.899"/><stop offset="1.0" stop-color="rgb(42,50,136)" stop-opacity="0.981"/></linearGradient><linearGradient id="c209" x1="0" y1="0" x2="0" y2="1"><stop offset="0.0" stop-color="rgb(42,50,136)" stop-opacity="0.405"/><stop offset="0.016" stop-color="rgb(42,50,136)" stop-opacity="0.674"/><stop offset="0.25" stop-color="rgb(42,50,136)" stop-opacity="0.750"/><stop offset="0.5" stop-color="rgb(42,50,136)" stop-opacity="0.832"/><stop offset="0.75" stop-color="rgb(42,50,136)" stop-opacity="0.914"/><stop offset="1.0" stop-color="rgb(42,50,136)" stop-opacity="0.984"/></linearGradient><linearGradient id="c210" x1="0" y1="0" x2="0" y2="1"><stop offset="0.0" stop-color="rgb(42,50,136)" stop-opacity="0.282"/><stop offset="0.015" stop-color="rgb(42,50,136)" stop-opacity="0.470"/><stop offset="0.25" stop-color="rgb(42,50,136)" stop-opacity="0.593"/><stop offset="0.5" stop-color="rgb(42,50,136)" stop-opacity="0.728"/><stop offset="0.75" stop-color="rgb(42,50,136)" stop-opacity="0.863"/><stop offset="1.0" stop-color="rgb(42,50,136)" stop-opacity="0.973"/></linearGradient><linearGradient id="c211" x1="0" y1="0" x2="0" y2="1"><stop offset="0.0" stop-color="rgb(42,50,136)" stop-opacity="0.176"/><stop offset="0.015" stop-color="rgb(42,50,136)" stop-opacity="0.294"/><stop offset="0.25" stop-color="rgb(42,50,136)" stop-opacity="0.459"/><stop offset="0.5" stop-color="rgb(42,50,136)" stop-opacity="0.638"/><stop offset="0.75" stop-color="rgb(42,50,136)" stop-opacity="0.818"/><stop offset="1.0" stop-color="rgb(42,50,136)" stop-opacity="0.965"/></linearGradient><linearGradient id="c212" x1="0" y1="0" x2="0" y2="1"><stop offset="0.0" stop-color="rgb(42,50,136)" stop-opacity="0.238"/><stop offset="0.016" stop-color="rgb(42,50,136)" stop-opacity="0.396"/><stop offset="0.25" stop-color="rgb(42,50,136)" stop-opacity="0.535"/><stop offset="0.5" stop-color="rgb(42,50,136)" stop-opacity="0.687"/><stop offset="0.75" stop-color="rgb(42,50,136)" stop-opacity="0.839"/><stop offset="1.0" stop-color="rgb(42,50,136)" stop-opacity="0.970"/></linearGradient><linearGradient id="c213" x1="0" y1="0" x2="0" y2="1"><stop offset="0.0" stop-color="rgb(42,50,136)" stop-opacity="0.379"/><stop offset="0.016" stop-color="rgb(42,50,136)" stop-opacity="0.632"/><stop offset="0.25" stop-color="rgb(42,50,136)" stop-opacity="0.717"/><stop offset="0.5" stop-color="rgb(42,50,136)" stop-opacity="0.811"/><stop offset="0.75" stop-color="rgb(42,50,136)" stop-opacity="0.904"/><stop offset="1.0" stop-color="rgb(42,50,136)" stop-opacity="0.982"/></linearGradient><linearGradient id="c214" x1="0" y1="0" x2="0" y2="1"><stop offset="0.0" stop-color="rgb(42,50,136)" stop-opacity="0.399"/><stop offset="0.016" stop-color="rgb(42,50,136)" stop-opacity="0.666"/><stop offset="0.25" stop-color="rgb(42,50,136)" stop-opacity="0.743"/><stop offset="0.5" stop-color="rgb(42,50,136)" stop-opacity="0.827"/><stop offset="0.75" stop-color="rgb(42,50,136)" stop-opacity="0.911"/><stop offset="1.0" stop-color="rgb(42,50,136)" stop-opacity="0.983"/></linearGradient><linearGradient id="c215" x1="0" y1="0" x2="0" y2="1"><stop offset="0.0" stop-color="rgb(42,50,136)" stop-opacity="0.269"/><stop offset="0.016" stop-color="rgb(42,50,136)" stop-opacity="0.448"/><stop offset="0.25" stop-color="rgb(42,50,136)" stop-opacity="0.575"/><stop offset="0.5" stop-color="rgb(42,50,136)" stop-opacity="0.714"/><stop offset="0.75" stop-color="rgb(42,50,136)" stop-opacity="0.853"/><stop offset="1.0" stop-color="rgb(42,50,136)" stop-opacity="0.972"/></linearGradient><linearGradient id="c216" x1="0" y1="0" x2="0" y2="1"><stop offset="0.0" stop-color="rgb(42,50,136)" stop-opacity="0.174"/><stop offset="0.015" stop-color="rgb(42,50,136)" stop-opacity="0.291"/><stop offset="0.25" stop-color="rgb(42,50,136)" stop-opacity="0.456"/><stop offset="0.5" stop-color="rgb(42,50,136)" stop-opacity="0.637"/><stop offset="0.75" stop-color="rgb(42,50,136)" stop-opacity="0.818"/><stop offset="1.0" stop-color="rgb(42,50,136)" stop-opacity="0.965"/></linearGradient><linearGradient id="c217" x1="0" y1="0" x2="0" y2="1"><stop offset="0.0" stop-color="rgb(42,50,136)" stop-opacity="0.252"/><stop offset="0.016" stop-color="rgb(42,50,136)" stop-opacity="0.420"/><stop offset="0.25" stop-color="rgb(42,50,136)" stop-opacity="0.555"/><stop offset="0.5" stop-color="rgb(42,50,136)" stop-opacity="0.702"/><stop offset="0.75" stop-color="rgb(42,50,136)" stop-opacity="0.849"/><stop offset="1.0" stop-color="rgb(42,50,136)" stop-opacity="0.971"/></linearGradient><linearGradient id="c218" x1="0" y1="0" x2="0" y2="1"><stop offset="0.0" stop-color="rgb(42,50,136)" stop-opacity="0.390"/><stop offset="0.016" stop-color="rgb(42,50,136)" stop-opacity="0.651"/><stop offset="0.25" stop-color="rgb(42,50,136)" stop-opacity="0.732"/><stop offset="0.5" stop-color="rgb(42,50,136)" stop-opacity="0.820"/><stop offset="0.75" stop-color="rgb(42,50,136)" stop-opacity="0.909"/><stop offset="1.0" stop-color="rgb(42,50,136)" stop-opacity="0.983"/></linearGradient><linearGradient id="c219" x1="0" y1="0" x2="0" y2="1"><stop offset="0.0" stop-color="rgb(42,50,136)" stop-opacity="0.389"/><stop offset="0.016" stop-color="rgb(42,50,136)" stop-opacity="0.649"/><stop offset="0.25" stop-color="rgb(42,50,136)" stop-opacity="0.730"/><stop offset="0.5" stop-color="rgb(42,50,136)" stop-opacity="0.819"/><stop offset="0.75" stop-color="rgb(42,50,136)" stop-opacity="0.908"/><stop offset="1.0" stop-color="rgb(42,50,136)" stop-opacity="0.982"/></linearGradient><linearGradient id="c220" x1="0" y1="0" x2="0" y2="1"><stop offset="0.0" stop-color="rgb(42,50,136)" stop-opacity="0.250"/><stop offset="0.016" stop-color="rgb(42,50,136)" stop-opacity="0.417"/><stop offset="0.25" stop-color="rgb(42,50,136)" stop-opacity="0.552"/><stop offset="0.5" stop-color="rgb(42,50,136)" stop-opacity="0.699"/><stop offset="0.75" stop-color="rgb(42,50,136)" stop-opacity="0.847"/><stop offset="1.0" stop-color="rgb(42,50,136)" stop-opacity="0.971"/></linearGradient><linearGradient id="c221" x1="0" y1="0" x2="0" y2="1"><stop offset="0.0" stop-color="rgb(42,50,136)" stop-opacity="0.175"/><stop offset="0.016" stop-color="rgb(42,50,136)" stop-opacity="0.291"/><stop offset="0.25" stop-color="rgb(42,50,136)" stop-opacity="0.455"/><stop offset="0.5" stop-color="rgb(42,50,136)" stop-opacity="0.635"/><stop offset="0.75" stop-color="rgb(42,50,136)" stop-opacity="0.814"/><stop offset="1.0" stop-color="rgb(42,50,136)" stop-opacity="0.965"/></linearGradient><linearGradient id="c222" x1="0" y1="0" x2="0" y2="1"><stop offset="0.0" stop-color="rgb(42,50,136)" stop-opacity="0.273"/><stop offset="0.016" stop-color="rgb(42,50,136)" stop-opacity="0.455"/><stop offset="0.25" stop-color="rgb(42,50,136)" stop-opacity="0.581"/><stop offset="0.5" stop-color="rgb(42,50,136)" stop-opacity="0.719"/><stop offset="0.75" stop-color="rgb(42,50,136)" stop-opacity="0.856"/><stop offset="1.0" stop-color="rgb(42,50,136)" stop-opacity="0.973"/></linearGradient><linearGradient id="c223" x1="0" y1="0" x2="0" y2="1"><stop offset="0.0" stop-color="rgb(42,50,136)" stop-opacity="0.402"/><stop offset="0.016" stop-color="rgb(42,50,136)" stop-opacity="0.670"/><stop offset="0.25" stop-color="rgb(42,50,136)" stop-opacity="0.747"/><stop offset="0.5" stop-color="rgb(42,50,136)" stop-opacity="0.831"/><stop offset="0.75" stop-color="rgb(42,50,136)" stop-opacity="0.915"/><stop offset="1.0" stop-color="rgb(42,50,136)" stop-opacity="0.984"/></linearGradient><linearGradient id="c224" x1="0" y1="0" x2="0" y2="1"><stop offset="0.0" stop-color="rgb(42,50,136)" stop-opacity="0.373"/><stop offset="0.016" stop-color="rgb(42,50,136)" stop-opacity="0.621"/><stop offset="0.25" stop-color="rgb(42,50,136)" stop-opacity="0.709"/><stop offset="0.5" stop-color="rgb(42,50,136)" stop-opacity="0.804"/><stop offset="0.75" stop-color="rgb(42,50,136)" stop-opacity="0.900"/><stop offset="1.0" stop-color="rgb(42,50,136)" stop-opacity="0.981"/></linearGradient><linearGradient id="c225" x1="0" y1="0" x2="0" y2="1"><stop offset="0.0" stop-color="rgb(42,50,136)" stop-opacity="0.228"/><stop offset="0.016" stop-color="rgb(42,50,136)" stop-opacity="0.379"/><stop offset="0.25" stop-color="rgb(42,50,136)" stop-opacity="0.523"/><stop offset="0.5" stop-color="rgb(42,50,136)" stop-opacity="0.680"/><stop offset="0.75" stop-color="rgb(42,50,136)" stop-opacity="0.836"/><stop offset="1.0" stop-color="rgb(42,50,136)" stop-opacity="0.969"/></linearGradient><linearGradient id="c226" x1="0" y1="0" x2="0" y2="1"><stop offset="0.0" stop-color="rgb(42,50,136)" stop-opacity="0.180"/><stop offset="0.016" stop-color="rgb(42,50,136)" stop-opacity="0.300"/><stop offset="0.25" stop-color="rgb(42,50,136)" stop-opacity="0.461"/><stop offset="0.5" stop-color="rgb(42,50,136)" stop-opacity="0.637"/><stop offset="0.75" stop-color="rgb(42,50,136)" stop-opacity="0.813"/><stop offset="1.0" stop-color="rgb(42,50,136)" stop-opacity="0.965"/></linearGradient><linearGradient id="c227" x1="0" y1="0" x2="0" y2="1"><stop offset="0.0" stop-color="rgb(42,50,136)" stop-opacity="0.301"/><stop offset="0.016" stop-color="rgb(42,50,136)" stop-opacity="0.501"/><stop offset="0.25" stop-color="rgb(42,50,136)" stop-opacity="0.616"/><stop offset="0.5" stop-color="rgb(42,50,136)" stop-opacity="0.741"/><stop offset="0.75" stop-color="rgb(42,50,136)" stop-opacity="0.867"/><stop offset="1.0" stop-color="rgb(42,50,136)" stop-opacity="0.975"/></linearGradient><linearGradient id="c228" x1="0" y1="0" x2="0" y2="1"><stop offset="0.0" stop-color="rgb(42,50,136)" stop-opacity="0.412"/><stop offset="0.016" stop-color="rgb(42,50,136)" stop-opacity="0.686"/><stop offset="0.25" stop-color="rgb(42,50,136)" stop-opacity="0.758"/><stop offset="0.5" stop-color="rgb(42,50,136)" stop-opacity="0.836"/><stop offset="0.75" stop-color="rgb(42,50,136)" stop-opacity="0.914"/><stop offset="1.0" stop-color="rgb(42,50,136)" stop-opacity="0.984"/></linearGradient><linearGradient id="c229" x1="0" y1="0" x2="0" y2="1"><stop offset="0.0" stop-color="rgb(42,50,136)" stop-opacity="0.348"/><stop offset="0.016" stop-color="rgb(42,50,136)" stop-opacity="0.580"/><stop offset="0.25" stop-color="rgb(42,50,136)" stop-opacity="0.675"/><stop offset="0.5" stop-color="rgb(42,50,136)" stop-opacity="0.780"/><stop offset="0.75" stop-color="rgb(42,50,136)" stop-opacity="0.885"/><stop offset="1.0" stop-color="rgb(42,50,136)" stop-opacity="0.979"/></linearGradient><linearGradient id="c230" x1="0" y1="0" x2="0" y2="1"><stop offset="0.0" stop-color="rgb(42,50,136)" stop-opacity="0.204"/><stop offset="0.016" stop-color="rgb(42,50,136)" stop-opacity="0.340"/><stop offset="0.25" stop-color="rgb(42,50,136)" stop-opacity="0.490"/><stop offset="0.5" stop-color="rgb(42,50,136)" stop-opacity="0.654"/><stop offset="0.75" stop-color="rgb(42,50,136)" stop-opacity="0.819"/><stop offset="1.0" stop-color="rgb(42,50,136)" stop-opacity="0.967"/></linearGradient><linearGradient id="c231" x1="0" y1="0" x2="0" y2="1"><stop offset="0.0" stop-color="rgb(42,50,136)" stop-opacity="0.195"/><stop offset="0.016" stop-color="rgb(42,50,136)" stop-opacity="0.324"/><stop offset="0.25" stop-color="rgb(42,50,136)" stop-opacity="0.478"/><stop offset="0.5" stop-color="rgb(42,50,136)" stop-opacity="0.645"/><stop offset="0.75" stop-color="rgb(42,50,136)" stop-opacity="0.813"/><stop offset="1.0" stop-color="rgb(42,50,136)" stop-opacity="0.966"/></linearGradient><linearGradient id="c232" x1="0" y1="0" x2="0" y2="1"><stop offset="0.0" stop-color="rgb(42,50,136)" stop-opacity="0.334"/><stop offset="0.016" stop-color="rgb(42,50,136)" stop-opacity="0.557"/><stop offset="0.25" stop-color="rgb(42,50,136)" stop-opacity="0.657"/><stop offset="0.5" stop-color="rgb(42,50,136)" stop-opacity="0.767"/><stop offset="0.75" stop-color="rgb(42,50,136)" stop-opacity="0.877"/><stop offset="1.0" stop-color="rgb(42,50,136)" stop-opacity="0.978"/></linearGradient><linearGradient id="c233" x1="0" y1="0" x2="0" y2="1"><stop offset="0.0" stop-color="rgb(42,50,136)" stop-opacity="0.414"/><stop offset="0.016" stop-color="rgb(42,50,136)" stop-opacity="0.689"/><stop offset="0.25" stop-color="rgb(42,50,136)" stop-opacity="0.760"/><stop offset="0.5" stop-color="rgb(42,50,136)" stop-opacity="0.837"/><stop offset="0.75" stop-color="rgb(42,50,136)" stop-opacity="0.914"/><stop offset="1.0" stop-color="rgb(42,50,136)" stop-opacity="0.984"/></linearGradient><linearGradient id="c234" x1="0" y1="0" x2="0" y2="1"><stop offset="0.0" stop-color="rgb(42,50,136)" stop-opacity="0.313"/><stop offset="0.016" stop-color="rgb(42,50,136)" stop-opacity="0.522"/><stop offset="0.25" stop-color="rgb(42,50,136)" stop-opacity="0.630"/><stop offset="0.5" stop-color="rgb(42,50,136)" stop-opacity="0.748"/><stop offset="0.75" stop-color="rgb(42,50,136)" stop-opacity="0.866"/><stop offset="1.0" stop-color="rgb(42,50,136)" stop-opacity="0.976"/></linearGradient><linearGradient id="c235" x1="0" y1="0" x2="0" y2="1"><stop offset="0.0" stop-color="rgb(42,50,136)" stop-opacity="0.184"/><stop offset="0.016" stop-color="rgb(42,50,136)" stop-opacity="0.306"/><stop offset="0.25" stop-color="rgb(42,50,136)" stop-opacity="0.463"/><stop offset="0.5" stop-color="rgb(42,50,136)" stop-opacity="0.634"/><stop offset="0.75" stop-color="rgb(42,50,136)" stop-opacity="0.804"/><stop offset="1.0" stop-color="rgb(42,50,136)" stop-opacity="0.965"/></linearGradient><linearGradient id="c236" x1="0" y1="0" x2="0" y2="1"><stop offset="0.0" stop-color="rgb(42,50,136)" stop-opacity="0.221"/><stop offset="0.016" stop-color="rgb(42,50,136)" stop-opacity="0.368"/><stop offset="0.25" stop-color="rgb(42,50,136)" stop-opacity="0.510"/><stop offset="0.5" stop-color="rgb(42,50,136)" stop-opacity="0.664"/><stop offset="0.75" stop-color="rgb(42,50,136)" stop-opacity="0.819"/><stop offset="1.0" stop-color="rgb(42,50,136)" stop-opacity="0.968"/></linearGradient><linearGradient id="c237" x1="0" y1="0" x2="0" y2="1"><stop offset="0.0" stop-color="rgb(42,50,136)" stop-opacity="0.369"/><stop offset="0.016" stop-color="rgb(42,50,136)" stop-opacity="0.615"/><stop offset="0.25" stop-color="rgb(42,50,136)" stop-opacity="0.701"/><stop offset="0.5" stop-color="rgb(42,50,136)" stop-opacity="0.795"/><stop offset="0.75" stop-color="rgb(42,50,136)" stop-opacity="0.889"/><stop offset="1.0" stop-color="rgb(42,50,136)" stop-opacity="0.981"/></linearGradient><linearGradient id="c238" x1="0" y1="0" x2="0" y2="1"><stop offset="0.0" stop-color="rgb(42,50,136)" stop-opacity="0.403"/><stop offset="0.016" stop-color="rgb(42,50,136)" stop-opacity="0.672"/><stop offset="0.25" stop-color="rgb(42,50,136)" stop-opacity="0.744"/><stop offset="0.5" stop-color="rgb(42,50,136)" stop-opacity="0.824"/><stop offset="0.75" stop-color="rgb(42,50,136)" stop-opacity="0.904"/><stop offset="1.0" stop-color="rgb(42,50,136)" stop-opacity="0.984"/></linearGradient><linearGradient id="c239" x1="0" y1="0" x2="0" y2="1"><stop offset="0.0" stop-color="rgb(42,50,136)" stop-opacity="0.271"/><stop offset="0.016" stop-color="rgb(42,50,136)" stop-opacity="0.452"/><stop offset="0.25" stop-color="rgb(42,50,136)" stop-opacity="0.574"/><stop offset="0.5" stop-color="rgb(42,50,136)" stop-opacity="0.708"/><stop offset="0.75" stop-color="rgb(42,50,136)" stop-opacity="0.841"/><stop offset="1.0" stop-color="rgb(42,50,136)" stop-opacity="0.973"/></linearGradient><linearGradient id="c240" x1="0" y1="0" x2="0" y2="1"><stop offset="0.0" stop-color="rgb(42,50,136)" stop-opacity="0.174"/><stop offset="0.016" stop-color="rgb(42,50,136)" stop-opacity="0.290"/><stop offset="0.25" stop-color="rgb(42,50,136)" stop-opacity="0.446"/><stop offset="0.5" stop-color="rgb(42,50,136)" stop-opacity="0.617"/><stop offset="0.75" stop-color="rgb(42,50,136)" stop-opacity="0.788"/><stop offset="1.0" stop-color="rgb(42,50,136)" stop-opacity="0.959"/></linearGradient><linearGradient id="c241" x1="0" y1="0" x2="0" y2="1"><stop offset="0.0" stop-color="rgb(42,50,136)" stop-opacity="0.261"/><stop offset="0.016" stop-color="rgb(42,50,136)" stop-opacity="0.435"/><stop offset="0.25" stop-color="rgb(42,50,136)" stop-opacity="0.559"/><stop offset="0.5" stop-color="rgb(42,50,136)" stop-opacity="0.696"/><stop offset="0.75" stop-color="rgb(42,50,136)" stop-opacity="0.832"/><stop offset="1.0" stop-color="rgb(42,50,136)" stop-opacity="0.969"/></linearGradient><linearGradient id="c242" x1="0" y1="0" x2="0" y2="1"><stop offset="0.0" stop-color="rgb(42,50,136)" stop-opacity="0.398"/><stop offset="0.016" stop-color="rgb(42,50,136)" stop-opacity="0.664"/><stop offset="0.25" stop-color="rgb(42,50,136)" stop-opacity="0.738"/><stop offset="0.5" stop-color="rgb(42,50,136)" stop-opacity="0.819"/><stop offset="0.75" stop-color="rgb(42,50,136)" stop-opacity="0.899"/><stop offset="1.0" stop-color="rgb(42,50,136)" stop-opacity="0.980"/></linearGradient><linearGradient id="c243" x1="0" y1="0" x2="0" y2="1"><stop offset="0.0" stop-color="rgb(42,50,136)" stop-opacity="0.375"/><stop offset="0.016" stop-color="rgb(42,50,136)" stop-opacity="0.626"/><stop offset="0.25" stop-color="rgb(42,50,136)" stop-opacity="0.707"/><stop offset="0.5" stop-color="rgb(42,50,136)" stop-opacity="0.797"/><stop offset="0.75" stop-color="rgb(42,50,136)" stop-opacity="0.886"/><stop offset="1.0" stop-color="rgb(42,50,136)" stop-opacity="0.976"/></linearGradient><linearGradient id="c244" x1="0" y1="0" x2="0" y2="1"><stop offset="0.0" stop-color="rgb(42,50,136)" stop-opacity="0.227"/><stop offset="0.017" stop-color="rgb(42,50,136)" stop-opacity="0.378"/><stop offset="0.25" stop-color="rgb(42,50,136)" stop-opacity="0.513"/><stop offset="0.5" stop-color="rgb(42,50,136)" stop-opacity="0.661"/><stop offset="0.75" stop-color="rgb(42,50,136)" stop-opacity="0.810"/><stop offset="1.0" stop-color="rgb(42,50,136)" stop-opacity="0.958"/></linearGradient><linearGradient id="c245" x1="0" y1="0" x2="0" y2="1"><stop offset="0.0" stop-color="rgb(42,50,136)" stop-opacity="0.182"/><stop offset="0.017" stop-color="rgb(42,50,136)" stop-opacity="0.303"/><stop offset="0.25" stop-color="rgb(42,50,136)" stop-opacity="0.453"/><stop offset="0.5" stop-color="rgb(42,50,136)" stop-opacity="0.618"/><stop offset="0.75" stop-color="rgb(42,50,136)" stop-opacity="0.783"/><stop offset="1.0" stop-color="rgb(42,50,136)" stop-opacity="0.948"/></linearGradient><linearGradient id="c246" x1="0" y1="0" x2="0" y2="1"><stop offset="0.0" stop-color="rgb(42,50,136)" stop-opacity="0.311"/><stop offset="0.017" stop-color="rgb(42,50,136)" stop-opacity="0.518"/><stop offset="0.25" stop-color="rgb(42,50,136)" stop-opacity="0.622"/><stop offset="0.5" stop-color="rgb(42,50,136)" stop-opacity="0.736"/><stop offset="0.75" stop-color="rgb(42,50,136)" stop-opacity="0.850"/><stop offset="1.0" stop-color="rgb(42,50,136)" stop-opacity="0.964"/></linearGradient><linearGradient id="c247" x1="0" y1="0" x2="0" y2="1"><stop offset="0.0" stop-color="rgb(42,50,136)" stop-opacity="0.414"/><stop offset="0.017" stop-color="rgb(42,50,136)" stop-opacity="0.689"/><stop offset="0.25" stop-color="rgb(42,50,136)" stop-opacity="0.756"/><stop offset="0.5" stop-color="rgb(42,50,136)" stop-opacity="0.829"/><stop offset="0.75" stop-color="rgb(42,50,136)" stop-opacity="0.903"/><stop offset="1.0" stop-color="rgb(42,50,136)" stop-opacity="0.976"/></linearGradient><linearGradient id="c248" x1="0" y1="0" x2="0" y2="1"><stop offset="0.0" stop-color="rgb(42,50,136)" stop-opacity="0.330"/><stop offset="0.017" stop-color="rgb(42,50,136)" stop-opacity="0.550"/><stop offset="0.25" stop-color="rgb(42,50,136)" stop-opacity="0.646"/><stop offset="0.5" stop-color="rgb(42,50,136)" stop-opacity="0.751"/><stop offset="0.75" stop-color="rgb(42,50,136)" stop-opacity="0.857"/><stop offset="1.0" stop-color="rgb(42,50,136)" stop-opacity="0.963"/></linearGradient><linearGradient id="c249" x1="0" y1="0" x2="0" y2="1"><stop offset="0.0" stop-color="rgb(42,50,136)" stop-opacity="0.190"/><stop offset="0.017" stop-color="rgb(42,50,136)" stop-opacity="0.317"/><stop offset="0.25" stop-color="rgb(42,50,136)" stop-opacity="0.460"/><stop offset="0.5" stop-color="rgb(42,50,136)" stop-opacity="0.618"/><stop offset="0.75" stop-color="rgb(42,50,136)" stop-opacity="0.776"/><stop offset="1.0" stop-color="rgb(42,50,136)" stop-opacity="0.934"/></linearGradient><linearGradient id="c250" x1="0" y1="0" x2="0" y2="1"><stop offset="0.0" stop-color="rgb(42,50,136)" stop-opacity="0.213"/><stop offset="0.017" stop-color="rgb(42,50,136)" stop-opacity="0.355"/><stop offset="0.25" stop-color="rgb(42,50,136)" stop-opacity="0.491"/><stop offset="0.5" stop-color="rgb(42,50,136)" stop-opacity="0.640"/><stop offset="0.75" stop-color="rgb(42,50,136)" stop-opacity="0.789"/><stop offset="1.0" stop-color="rgb(42,50,136)" stop-opacity="0.938"/></linearGradient><linearGradient id="c251" x1="0" y1="0" x2="0" y2="1"><stop offset="0.0" stop-color="rgb(42,50,136)" stop-opacity="0.363"/><stop offset="0.017" stop-color="rgb(42,50,136)" stop-opacity="0.605"/><stop offset="0.25" stop-color="rgb(42,50,136)" stop-opacity="0.688"/><stop offset="0.5" stop-color="rgb(42,50,136)" stop-opacity="0.780"/><stop offset="0.75" stop-color="rgb(42,50,136)" stop-opacity="0.871"/><stop offset="1.0" stop-color="rgb(42,50,136)" stop-opacity="0.962"/></linearGradient><linearGradient id="c252" x1="0" y1="0" x2="0" y2="1"><stop offset="0.0" stop-color="rgb(42,50,136)" stop-opacity="0.404"/><stop offset="0.017" stop-color="rgb(42,50,136)" stop-opacity="0.674"/><stop offset="0.25" stop-color="rgb(42,50,136)" stop-opacity="0.742"/><stop offset="0.5" stop-color="rgb(42,50,136)" stop-opacity="0.816"/><stop offset="0.75" stop-color="rgb(42,50,136)" stop-opacity="0.891"/><stop offset="1.0" stop-color="rgb(42,50,136)" stop-opacity="0.966"/></linearGradient><linearGradient id="c253" x1="0" y1="0" x2="0" y2="1"><stop offset="0.0" stop-color="rgb(42,50,136)" stop-opacity="0.271"/><stop offset="0.017" stop-color="rgb(42,50,136)" stop-opacity="0.452"/><stop offset="0.25" stop-color="rgb(42,50,136)" stop-opacity="0.566"/><stop offset="0.5" stop-color="rgb(42,50,136)" stop-opacity="0.692"/><stop offset="0.75" stop-color="rgb(42,50,136)" stop-opacity="0.818"/><stop offset="1.0" stop-color="rgb(42,50,136)" stop-opacity="0.943"/></linearGradient><linearGradient id="c254" x1="0" y1="0" x2="0" y2="1"><stop offset="0.0" stop-color="rgb(42,50,136)" stop-opacity="0.174"/><stop offset="0.018" stop-color="rgb(42,50,136)" stop-opacity="0.290"/><stop offset="0.25" stop-color="rgb(42,50,136)" stop-opacity="0.435"/><stop offset="0.5" stop-color="rgb(42,50,136)" stop-opacity="0.594"/><stop offset="0.75" stop-color="rgb(42,50,136)" stop-opacity="0.754"/><stop offset="1.0" stop-color="rgb(42,50,136)" stop-opacity="0.913"/></linearGradient><linearGradient id="c255" x1="0" y1="0" x2="0" y2="1"><stop offset="0.0" stop-color="rgb(42,50,136)" stop-opacity="0.267"/><stop offset="0.017" stop-color="rgb(42,50,136)" stop-opacity="0.445"/><stop offset="0.25" stop-color="rgb(42,50,136)" stop-opacity="0.559"/><stop offset="0.5" stop-color="rgb(42,50,136)" stop-opacity="0.685"/><stop offset="0.75" stop-color="rgb(42,50,136)" stop-opacity="0.811"/><stop offset="1.0" stop-color="rgb(42,50,136)" stop-opacity="0.937"/></linearGradient><linearGradient id="c256" x1="0" y1="0" x2="0" y2="1"><stop offset="0.0" stop-color="rgb(42,50,136)" stop-opacity="0.403"/><stop offset="0.018" stop-color="rgb(42,50,136)" stop-opacity="0.671"/><stop offset="0.25" stop-color="rgb(42,50,136)" stop-opacity="0.738"/><stop offset="0.5" stop-color="rgb(42,50,136)" stop-opacity="0.811"/><stop offset="0.75" stop-color="rgb(42,50,136)" stop-opacity="0.885"/><stop offset="1.0" stop-color="rgb(42,50,136)" stop-opacity="0.958"/></linearGradient><linearGradient id="c257" x1="0" y1="0" x2="0" y2="1"><stop offset="0.0" stop-color="rgb(42,50,136)" stop-opacity="0.365"/><stop offset="0.018" stop-color="rgb(42,50,136)" stop-opacity="0.609"/><stop offset="0.25" stop-color="rgb(42,50,136)" stop-opacity="0.688"/><stop offset="0.5" stop-color="rgb(42,50,136)" stop-opacity="0.775"/><stop offset="0.75" stop-color="rgb(42,50,136)" stop-opacity="0.861"/><stop offset="1.0" stop-color="rgb(42,50,136)" stop-opacity="0.948"/></linearGradient><linearGradient id="c258" x1="0" y1="0" x2="0" y2="1"><stop offset="0.0" stop-color="rgb(42,50,136)" stop-opacity="0.214"/><stop offset="0.018" stop-color="rgb(42,50,136)" stop-opacity="0.356"/><stop offset="0.25" stop-color="rgb(42,50,136)" stop-opacity="0.486"/><stop offset="0.5" stop-color="rgb(42,50,136)" stop-opacity="0.630"/><stop offset="0.75" stop-color="rgb(42,50,136)" stop-opacity="0.773"/><stop offset="1.0" stop-color="rgb(42,50,136)" stop-opacity="0.917"/></linearGradient><linearGradient id="c259" x1="0" y1="0" x2="0" y2="1"><stop offset="0.0" stop-color="rgb(42,50,136)" stop-opacity="0.191"/><stop offset="0.018" stop-color="rgb(42,50,136)" stop-opacity="0.318"/><stop offset="0.25" stop-color="rgb(42,50,136)" stop-opacity="0.453"/><stop offset="0.5" stop-color="rgb(42,50,136)" stop-opacity="0.603"/><stop offset="0.75" stop-color="rgb(42,50,136)" stop-opacity="0.753"/><stop offset="1.0" stop-color="rgb(42,50,136)" stop-opacity="0.903"/></linearGradient><linearGradient id="c260" x1="0" y1="0" x2="0" y2="1"><stop offset="0.0" stop-color="rgb(42,50,136)" stop-opacity="0.333"/><stop offset="0.018" stop-color="rgb(42,50,136)" stop-opacity="0.556"/><stop offset="0.25" stop-color="rgb(42,50,136)" stop-opacity="0.643"/><stop offset="0.5" stop-color="rgb(42,50,136)" stop-opacity="0.740"/><stop offset="0.75" stop-color="rgb(42,50,136)" stop-opacity="0.836"/><stop offset="1.0" stop-color="rgb(42,50,136)" stop-opacity="0.933"/></linearGradient><linearGradient id="c261" x1="0" y1="0" x2="0" y2="1"><stop offset="0.0" stop-color="rgb(42,50,136)" stop-opacity="0.413"/><stop offset="0.018" stop-color="rgb(42,50,136)" stop-opacity="0.688"/><stop offset="0.25" stop-color="rgb(42,50,136)" stop-opacity="0.749"/><stop offset="0.5" stop-color="rgb(42,50,136)" stop-opacity="0.817"/><stop offset="0.75" stop-color="rgb(42,50,136)" stop-opacity="0.884"/><stop offset="1.0" stop-color="rgb(42,50,136)" stop-opacity="0.952"/></linearGradient><linearGradient id="c262" x1="0" y1="0" x2="0" y2="1"><stop offset="0.0" stop-color="rgb(42,50,136)" stop-opacity="0.301"/><stop offset="0.018" stop-color="rgb(42,50,136)" stop-opacity="0.501"/><stop offset="0.25" stop-color="rgb(42,50,136)" stop-opacity="0.598"/><stop offset="0.5" stop-color="rgb(42,50,136)" stop-opacity="0.706"/><stop offset="0.75" stop-color="rgb(42,50,136)" stop-opacity="0.813"/><stop offset="1.0" stop-color="rgb(42,50,136)" stop-opacity="0.921"/></linearGradient><linearGradient id="c263" x1="0" y1="0" x2="0" y2="1"><stop offset="0.0" stop-color="rgb(42,50,136)" stop-opacity="0.178"/><stop offset="0.018" stop-color="rgb(42,50,136)" stop-opacity="0.296"/><stop offset="0.25" stop-color="rgb(42,50,136)" stop-opacity="0.432"/><stop offset="0.5" stop-color="rgb(42,50,136)" stop-opacity="0.582"/><stop offset="0.75" stop-color="rgb(42,50,136)" stop-opacity="0.732"/><stop offset="1.0" stop-color="rgb(42,50,136)" stop-opacity="0.883"/></linearGradient><linearGradient id="c264" x1="0" y1="0" x2="0" y2="1"><stop offset="0.0" stop-color="rgb(42,50,136)" stop-opacity="0.243"/><stop offset="0.018" stop-color="rgb(42,50,136)" stop-opacity="0.405"/><stop offset="0.25" stop-color="rgb(42,50,136)" stop-opacity="0.519"/><stop offset="0.5" stop-color="rgb(42,50,136)" stop-opacity="0.646"/><stop offset="0.75" stop-color="rgb(42,50,136)" stop-opacity="0.773"/><stop offset="1.0" stop-color="rgb(42,50,136)" stop-opacity="0.899"/></linearGradient><linearGradient id="c265" x1="0" y1="0" x2="0" y2="1"><stop offset="0.0" stop-color="rgb(42,50,136)" stop-opacity="0.391"/><stop offset="0.019" stop-color="rgb(42,50,136)" stop-opacity="0.652"/><stop offset="0.25" stop-color="rgb(42,50,136)" stop-opacity="0.718"/><stop offset="0.5" stop-color="rgb(42,50,136)" stop-opacity="0.792"/><stop offset="0.75" stop-color="rgb(42,50,136)" stop-opacity="0.865"/><stop offset="1.0" stop-color="rgb(42,50,136)" stop-opacity="0.939"/></linearGradient><linearGradient id="c266" x1="0" y1="0" x2="0" y2="1"><stop offset="0.0" stop-color="rgb(42,50,136)" stop-opacity="0.381"/><stop offset="0.019" stop-color="rgb(42,50,136)" stop-opacity="0.635"/><stop offset="0.25" stop-color="rgb(42,50,136)" stop-opacity="0.704"/><stop offset="0.5" stop-color="rgb(42,50,136)" stop-opacity="0.781"/><stop offset="0.75" stop-color="rgb(42,50,136)" stop-opacity="0.858"/><stop offset="1.0" stop-color="rgb(42,50,136)" stop-opacity="0.935"/></linearGradient><linearGradient id="c267" x1="0" y1="0" x2="0" y2="1"><stop offset="0.0" stop-color="rgb(42,50,136)" stop-opacity="0.229"/><stop offset="0.019" stop-color="rgb(42,50,136)" stop-opacity="0.381"/><stop offset="0.25" stop-color="rgb(42,50,136)" stop-opacity="0.497"/><stop offset="0.5" stop-color="rgb(42,50,136)" stop-opacity="0.626"/><stop offset="0.75" stop-color="rgb(42,50,136)" stop-opacity="0.755"/><stop offset="1.0" stop-color="rgb(42,50,136)" stop-opacity="0.883"/></linearGradient><linearGradient id="c268" x1="0" y1="0" x2="0" y2="1"><stop offset="0.0" stop-color="rgb(42,50,136)" stop-opacity="0.183"/><stop offset="0.019" stop-color="rgb(42,50,136)" stop-opacity="0.305"/><stop offset="0.25" stop-color="rgb(42,50,136)" stop-opacity="0.435"/><stop offset="0.5" stop-color="rgb(42,50,136)" stop-opacity="0.580"/><stop offset="0.75" stop-color="rgb(42,50,136)" stop-opacity="0.725"/><stop offset="1.0" stop-color="rgb(42,50,136)" stop-opacity="0.870"/></linearGradient><linearGradient id="c269" x1="0" y1="0" x2="0" y2="1"><stop offset="0.0" stop-color="rgb(42,50,136)" stop-opacity="0.319"/><stop offset="0.019" stop-color="rgb(42,50,136)" stop-opacity="0.532"/><stop offset="0.25" stop-color="rgb(42,50,136)" stop-opacity="0.618"/><stop offset="0.5" stop-color="rgb(42,50,136)" stop-opacity="0.714"/><stop offset="0.75" stop-color="rgb(42,50,136)" stop-opacity="0.810"/><stop offset="1.0" stop-color="rgb(42,50,136)" stop-opacity="0.906"/></linearGradient><linearGradient id="c270" x1="0" y1="0" x2="0" y2="1"><stop offset="0.0" stop-color="rgb(42,50,136)" stop-opacity="0.414"/><stop offset="0.019" stop-color="rgb(42,50,136)" stop-opacity="0.690"/><stop offset="0.25" stop-color="rgb(42,50,136)" stop-opacity="0.747"/><stop offset="0.5" stop-color="rgb(42,50,136)" stop-opacity="0.810"/><stop offset="0.75" stop-color="rgb(42,50,136)" stop-opacity="0.874"/><stop offset="1.0" stop-color="rgb(42,50,136)" stop-opacity="0.938"/></linearGradient><linearGradient id="c271" x1="0" y1="0" x2="0" y2="1"><stop offset="0.0" stop-color="rgb(42,50,136)" stop-opacity="0.311"/><stop offset="0.019" stop-color="rgb(42,50,136)" stop-opacity="0.518"/><stop offset="0.25" stop-color="rgb(42,50,136)" stop-opacity="0.606"/><stop offset="0.5" stop-color="rgb(42,50,136)" stop-opacity="0.705"/><stop offset="0.75" stop-color="rgb(42,50,136)" stop-opacity="0.803"/><stop offset="1.0" stop-color="rgb(42,50,136)" stop-opacity="0.901"/></linearGradient><linearGradient id="c272" x1="0" y1="0" x2="0" y2="1"><stop offset="0.0" stop-color="rgb(42,50,136)" stop-opacity="0.180"/><stop offset="0.02" stop-color="rgb(42,50,136)" stop-opacity="0.300"/><stop offset="0.25" stop-color="rgb(42,50,136)" stop-opacity="0.426"/><stop offset="0.5" stop-color="rgb(42,50,136)" stop-opacity="0.567"/><stop offset="0.75" stop-color="rgb(42,50,136)" stop-opacity="0.707"/><stop offset="1.0" stop-color="rgb(42,50,136)" stop-opacity="0.848"/></linearGradient><linearGradient id="c273" x1="0" y1="0" x2="0" y2="1"><stop offset="0.0" stop-color="rgb(42,50,136)" stop-opacity="0.238"/><stop offset="0.02" stop-color="rgb(42,50,136)" stop-opacity="0.396"/><stop offset="0.25" stop-color="rgb(42,50,136)" stop-opacity="0.503"/><stop offset="0.5" stop-color="rgb(42,50,136)" stop-opacity="0.623"/><stop offset="0.75" stop-color="rgb(42,50,136)" stop-opacity="0.742"/><stop offset="1.0" stop-color="rgb(42,50,136)" stop-opacity="0.862"/></linearGradient><linearGradient id="c274" x1="0" y1="0" x2="0" y2="1"><stop offset="0.0" stop-color="rgb(42,50,136)" stop-opacity="0.389"/><stop offset="0.02" stop-color="rgb(42,50,136)" stop-opacity="0.648"/><stop offset="0.25" stop-color="rgb(42,50,136)" stop-opacity="0.710"/><stop offset="0.5" stop-color="rgb(42,50,136)" stop-opacity="0.780"/><stop offset="0.75" stop-color="rgb(42,50,136)" stop-opacity="0.849"/><stop offset="1.0" stop-color="rgb(42,50,136)" stop-opacity="0.918"/></linearGradient><linearGradient id="c275" x1="0" y1="0" x2="0" y2="1"><stop offset="0.0" stop-color="rgb(42,50,136)" stop-opacity="0.382"/><stop offset="0.02" stop-color="rgb(42,50,136)" stop-opacity="0.637"/><stop offset="0.25" stop-color="rgb(42,50,136)" stop-opacity="0.701"/><stop offset="0.5" stop-color="rgb(42,50,136)" stop-opacity="0.773"/><stop offset="0.75" stop-color="rgb(42,50,136)" stop-opacity="0.844"/><stop offset="1.0" stop-color="rgb(42,50,136)" stop-opacity="0.916"/></linearGradient><linearGradient id="c276" x1="0" y1="0" x2="0" y2="1"><stop offset="0.0" stop-color="rgb(42,50,136)" stop-opacity="0.228"/><stop offset="0.02" stop-color="rgb(42,50,136)" stop-opacity="0.381"/><stop offset="0.25" stop-color="rgb(42,50,136)" stop-opacity="0.488"/><stop offset="0.5" stop-color="rgb(42,50,136)" stop-opacity="0.609"/><stop offset="0.75" stop-color="rgb(42,50,136)" stop-opacity="0.729"/><stop offset="1.0" stop-color="rgb(42,50,136)" stop-opacity="0.849"/></linearGradient><linearGradient id="c277" x1="0" y1="0" x2="0" y2="1"><stop offset="0.0" stop-color="rgb(42,50,136)" stop-opacity="0.184"/><stop offset="0.02" stop-color="rgb(42,50,136)" stop-opacity="0.307"/><stop offset="0.25" stop-color="rgb(42,50,136)" stop-opacity="0.427"/><stop offset="0.5" stop-color="rgb(42,50,136)" stop-opacity="0.561"/><stop offset="0.75" stop-color="rgb(42,50,136)" stop-opacity="0.696"/><stop offset="1.0" stop-color="rgb(42,50,136)" stop-opacity="0.830"/></linearGradient><linearGradient id="c278" x1="0" y1="0" x2="0" y2="1"><stop offset="0.0" stop-color="rgb(42,50,136)" stop-opacity="0.324"/><stop offset="0.02" stop-color="rgb(42,50,136)" stop-opacity="0.540"/><stop offset="0.25" stop-color="rgb(42,50,136)" stop-opacity="0.618"/><stop offset="0.5" stop-color="rgb(42,50,136)" stop-opacity="0.707"/><stop offset="0.75" stop-color="rgb(42,50,136)" stop-opacity="0.795"/><stop offset="1.0" stop-color="rgb(42,50,136)" stop-opacity="0.884"/></linearGradient><linearGradient id="c279" x1="0" y1="0" x2="0" y2="1"><stop offset="0.0" stop-color="rgb(42,50,136)" stop-opacity="0.414"/><stop offset="0.021" stop-color="rgb(42,50,136)" stop-opacity="0.689"/><stop offset="0.25" stop-color="rgb(42,50,136)" stop-opacity="0.742"/><stop offset="0.5" stop-color="rgb(42,50,136)" stop-opacity="0.801"/><stop offset="0.75" stop-color="rgb(42,50,136)" stop-opacity="0.860"/><stop offset="1.0" stop-color="rgb(42,50,136)" stop-opacity="0.919"/></linearGradient><linearGradient id="c280" x1="0" y1="0" x2="0" y2="1"><stop offset="0.0" stop-color="rgb(42,50,136)" stop-opacity="0.302"/><stop offset="0.021" stop-color="rgb(42,50,136)" stop-opacity="0.504"/><stop offset="0.25" stop-color="rgb(42,50,136)" stop-opacity="0.588"/><stop offset="0.5" stop-color="rgb(42,50,136)" stop-opacity="0.683"/><stop offset="0.75" stop-color="rgb(42,50,136)" stop-opacity="0.778"/><stop offset="1.0" stop-color="rgb(42,50,136)" stop-opacity="0.873"/></linearGradient><linearGradient id="c281" x1="0" y1="0" x2="0" y2="1"><stop offset="0.0" stop-color="rgb(42,50,136)" stop-opacity="0.177"/><stop offset="0.021" stop-color="rgb(42,50,136)" stop-opacity="0.295"/><stop offset="0.25" stop-color="rgb(42,50,136)" stop-opacity="0.412"/><stop offset="0.5" stop-color="rgb(42,50,136)" stop-opacity="0.544"/><stop offset="0.75" stop-color="rgb(42,50,136)" stop-opacity="0.676"/><stop offset="1.0" stop-color="rgb(42,50,136)" stop-opacity="0.808"/></linearGradient><linearGradient id="c282" x1="0" y1="0" x2="0" y2="1"><stop offset="0.0" stop-color="rgb(42,50,136)" stop-opacity="0.250"/><stop offset="0.021" stop-color="rgb(42,50,136)" stop-opacity="0.416"/><stop offset="0.25" stop-color="rgb(42,50,136)" stop-opacity="0.513"/><stop offset="0.5" stop-color="rgb(42,50,136)" stop-opacity="0.622"/><stop offset="0.75" stop-color="rgb(42,50,136)" stop-opacity="0.731"/><stop offset="1.0" stop-color="rgb(42,50,136)" stop-opacity="0.840"/></linearGradient><linearGradient id="c283" x1="0" y1="0" x2="0" y2="1"><stop offset="0.0" stop-color="rgb(42,50,136)" stop-opacity="0.397"/><stop offset="0.021" stop-color="rgb(42,50,136)" stop-opacity="0.662"/><stop offset="0.25" stop-color="rgb(42,50,136)" stop-opacity="0.718"/><stop offset="0.5" stop-color="rgb(42,50,136)" stop-opacity="0.780"/><stop offset="0.75" stop-color="rgb(42,50,136)" stop-opacity="0.842"/><stop offset="1.0" stop-color="rgb(42,50,136)" stop-opacity="0.905"/></linearGradient><linearGradient id="c284" x1="0" y1="0" x2="0" y2="1"><stop offset="0.0" stop-color="rgb(42,50,136)" stop-opacity="0.370"/><stop offset="0.021" stop-color="rgb(42,50,136)" stop-opacity="0.616"/><stop offset="0.25" stop-color="rgb(42,50,136)" stop-opacity="0.679"/><stop offset="0.5" stop-color="rgb(42,50,136)" stop-opacity="0.749"/><stop offset="0.75" stop-color="rgb(42,50,136)" stop-opacity="0.820"/><stop offset="1.0" stop-color="rgb(42,50,136)" stop-opacity="0.891"/></linearGradient><linearGradient id="c285" x1="0" y1="0" x2="0" y2="1"><stop offset="0.0" stop-color="rgb(42,50,136)" stop-opacity="0.213"/><stop offset="0.022" stop-color="rgb(42,50,136)" stop-opacity="0.355"/><stop offset="0.25" stop-color="rgb(42,50,136)" stop-opacity="0.459"/><stop offset="0.5" stop-color="rgb(42,50,136)" stop-opacity="0.577"/><stop offset="0.75" stop-color="rgb(42,50,136)" stop-opacity="0.695"/><stop offset="1.0" stop-color="rgb(42,50,136)" stop-opacity="0.812"/></linearGradient><linearGradient id="c286" x1="0" y1="0" x2="0" y2="1"><stop offset="0.0" stop-color="rgb(42,50,136)" stop-opacity="0.194"/><stop offset="0.022" stop-color="rgb(42,50,136)" stop-opacity="0.324"/><stop offset="0.25" stop-color="rgb(42,50,136)" stop-opacity="0.432"/><stop offset="0.5" stop-color="rgb(42,50,136)" stop-opacity="0.553"/><stop offset="0.75" stop-color="rgb(42,50,136)" stop-opacity="0.675"/><stop offset="1.0" stop-color="rgb(42,50,136)" stop-opacity="0.797"/></linearGradient><linearGradient id="c287" x1="0" y1="0" x2="0" y2="1"><stop offset="0.0" stop-color="rgb(42,50,136)" stop-opacity="0.346"/><stop offset="0.022" stop-color="rgb(42,50,136)" stop-opacity="0.576"/><stop offset="0.25" stop-color="rgb(42,50,136)" stop-opacity="0.642"/><stop offset="0.5" stop-color="rgb(42,50,136)" stop-opacity="0.717"/><stop offset="0.75" stop-color="rgb(42,50,136)" stop-opacity="0.792"/><stop offset="1.0" stop-color="rgb(42,50,136)" stop-opacity="0.867"/></linearGradient><linearGradient id="c288" x1="0" y1="0" x2="0" y2="1"><stop offset="0.0" stop-color="rgb(42,50,136)" stop-opacity="0.409"/><stop offset="0.023" stop-color="rgb(42,50,136)" stop-opacity="0.681"/><stop offset="0.25" stop-color="rgb(42,50,136)" stop-opacity="0.730"/><stop offset="0.5" stop-color="rgb(42,50,136)" stop-opacity="0.785"/><stop offset="0.75" stop-color="rgb(42,50,136)" stop-opacity="0.841"/><stop offset="1.0" stop-color="rgb(42,50,136)" stop-opacity="0.897"/></linearGradient><linearGradient id="c289" x1="0" y1="0" x2="0" y2="1"><stop offset="0.0" stop-color="rgb(42,50,136)" stop-opacity="0.275"/><stop offset="0.023" stop-color="rgb(42,50,136)" stop-opacity="0.458"/><stop offset="0.25" stop-color="rgb(42,50,136)" stop-opacity="0.541"/><stop offset="0.5" stop-color="rgb(42,50,136)" stop-opacity="0.635"/><stop offset="0.75" stop-color="rgb(42,50,136)" stop-opacity="0.730"/><stop offset="1.0" stop-color="rgb(42,50,136)" stop-opacity="0.825"/></linearGradient><linearGradient id="c290" x1="0" y1="0" x2="0" y2="1"><stop offset="0.0" stop-color="rgb(42,50,136)" stop-opacity="0.174"/><stop offset="0.023" stop-color="rgb(42,50,136)" stop-opacity="0.290"/><stop offset="0.25" stop-color="rgb(42,50,136)" stop-opacity="0.397"/><stop offset="0.5" stop-color="rgb(42,50,136)" stop-opacity="0.519"/><stop offset="0.75" stop-color="rgb(42,50,136)" stop-opacity="0.641"/><stop offset="1.0" stop-color="rgb(42,50,136)" stop-opacity="0.762"/></linearGradient><linearGradient id="c291" x1="0" y1="0" x2="0" y2="1"><stop offset="0.0" stop-color="rgb(42,50,136)" stop-opacity="0.280"/><stop offset="0.023" stop-color="rgb(42,50,136)" stop-opacity="0.467"/><stop offset="0.25" stop-color="rgb(42,50,136)" stop-opacity="0.547"/><stop offset="0.5" stop-color="rgb(42,50,136)" stop-opacity="0.639"/><stop offset="0.75" stop-color="rgb(42,50,136)" stop-opacity="0.730"/><stop offset="1.0" stop-color="rgb(42,50,136)" stop-opacity="0.821"/></linearGradient><linearGradient id="c292" x1="0" y1="0" x2="0" y2="1"><stop offset="0.0" stop-color="rgb(42,50,136)" stop-opacity="0.410"/><stop offset="0.023" stop-color="rgb(42,50,136)" stop-opacity="0.684"/><stop offset="0.25" stop-color="rgb(42,50,136)" stop-opacity="0.731"/><stop offset="0.5" stop-color="rgb(42,50,136)" stop-opacity="0.786"/><stop offset="0.75" stop-color="rgb(42,50,136)" stop-opacity="0.840"/><stop offset="1.0" stop-color="rgb(42,50,136)" stop-opacity="0.894"/></linearGradient><linearGradient id="c293" x1="0" y1="0" x2="0" y2="1"><stop offset="0.0" stop-color="rgb(42,50,136)" stop-opacity="0.339"/><stop offset="0.023" stop-color="rgb(42,50,136)" stop-opacity="0.565"/><stop offset="0.25" stop-color="rgb(42,50,136)" stop-opacity="0.628"/><stop offset="0.5" stop-color="rgb(42,50,136)" stop-opacity="0.701"/><stop offset="0.75" stop-color="rgb(42,50,136)" stop-opacity="0.774"/><stop offset="1.0" stop-color="rgb(42,50,136)" stop-opacity="0.847"/></linearGradient><linearGradient id="c294" x1="0" y1="0" x2="0" y2="1"><stop offset="0.0" stop-color="rgb(42,50,136)" stop-opacity="0.189"/><stop offset="0.024" stop-color="rgb(42,50,136)" stop-opacity="0.316"/><stop offset="0.25" stop-color="rgb(42,50,136)" stop-opacity="0.415"/><stop offset="0.5" stop-color="rgb(42,50,136)" stop-opacity="0.528"/><stop offset="0.75" stop-color="rgb(42,50,136)" stop-opacity="0.642"/><stop offset="1.0" stop-color="rgb(42,50,136)" stop-opacity="0.755"/></linearGradient><linearGradient id="c295" x1="0" y1="0" x2="0" y2="1"><stop offset="0.0" stop-color="rgb(42,50,136)" stop-opacity="0.222"/><stop offset="0.024" stop-color="rgb(42,50,136)" stop-opacity="0.370"/><stop offset="0.25" stop-color="rgb(42,50,136)" stop-opacity="0.461"/><stop offset="0.5" stop-color="rgb(42,50,136)" stop-opacity="0.565"/><stop offset="0.75" stop-color="rgb(42,50,136)" stop-opacity="0.669"/><stop offset="1.0" stop-color="rgb(42,50,136)" stop-opacity="0.772"/></linearGradient><linearGradient id="c296" x1="0" y1="0" x2="0" y2="1"><stop offset="0.0" stop-color="rgb(42,50,136)" stop-opacity="0.380"/><stop offset="0.024" stop-color="rgb(42,50,136)" stop-opacity="0.633"/><stop offset="0.25" stop-color="rgb(42,50,136)" stop-opacity="0.685"/><stop offset="0.5" stop-color="rgb(42,50,136)" stop-opacity="0.745"/><stop offset="0.75" stop-color="rgb(42,50,136)" stop-opacity="0.804"/><stop offset="1.0" stop-color="rgb(42,50,136)" stop-opacity="0.864"/></linearGradient><linearGradient id="c297" x1="0" y1="0" x2="0" y2="1"><stop offset="0.0" stop-color="rgb(42,50,136)" stop-opacity="0.388"/><stop offset="0.025" stop-color="rgb(42,50,136)" stop-opacity="0.646"/><stop offset="0.25" stop-color="rgb(42,50,136)" stop-opacity="0.696"/><stop offset="0.5" stop-color="rgb(42,50,136)" stop-opacity="0.752"/><stop offset="0.75" stop-color="rgb(42,50,136)" stop-opacity="0.809"/><stop offset="1.0" stop-color="rgb(42,50,136)" stop-opacity="0.866"/></linearGradient><linearGradient id="c298" x1="0" y1="0" x2="0" y2="1"><stop offset="0.0" stop-color="rgb(42,50,136)" stop-opacity="0.231"/><stop offset="0.025" stop-color="rgb(42,50,136)" stop-opacity="0.385"/><stop offset="0.25" stop-color="rgb(42,50,136)" stop-opacity="0.471"/><stop offset="0.5" stop-color="rgb(42,50,136)" stop-opacity="0.570"/><stop offset="0.75" stop-color="rgb(42,50,136)" stop-opacity="0.668"/><stop offset="1.0" stop-color="rgb(42,50,136)" stop-opacity="0.767"/></linearGradient><linearGradient id="c299" x1="0" y1="0" x2="0" y2="1"><stop offset="0.0" stop-color="rgb(42,50,136)" stop-opacity="0.185"/><stop offset="0.025" stop-color="rgb(42,50,136)" stop-opacity="0.308"/><stop offset="0.25" stop-color="rgb(42,50,136)" stop-opacity="0.404"/><stop offset="0.5" stop-color="rgb(42,50,136)" stop-opacity="0.514"/><stop offset="0.75" stop-color="rgb(42,50,136)" stop-opacity="0.624"/><stop offset="1.0" stop-color="rgb(42,50,136)" stop-opacity="0.735"/></linearGradient><linearGradient id="c300" x1="0" y1="0" x2="0" y2="1"><stop offset="0.0" stop-color="rgb(42,50,136)" stop-opacity="0.331"/><stop offset="0.025" stop-color="rgb(42,50,136)" stop-opacity="0.551"/><stop offset="0.25" stop-color="rgb(42,50,136)" stop-opacity="0.612"/><stop offset="0.5" stop-color="rgb(42,50,136)" stop-opacity="0.682"/><stop offset="0.75" stop-color="rgb(42,50,136)" stop-opacity="0.752"/><stop offset="1.0" stop-color="rgb(42,50,136)" stop-opacity="0.822"/></linearGradient><linearGradient id="c301" x1="0" y1="0" x2="0" y2="1"><stop offset="0.0" stop-color="rgb(42,50,136)" stop-opacity="0.412"/><stop offset="0.025" stop-color="rgb(42,50,136)" stop-opacity="0.686"/><stop offset="0.25" stop-color="rgb(42,50,136)" stop-opacity="0.728"/><stop offset="0.5" stop-color="rgb(42,50,136)" stop-opacity="0.777"/><stop offset="0.75" stop-color="rgb(42,50,136)" stop-opacity="0.825"/><stop offset="1.0" stop-color="rgb(42,50,136)" stop-opacity="0.874"/></linearGradient><linearGradient id="c302" x1="0" y1="0" x2="0" y2="1"><stop offset="0.0" stop-color="rgb(42,50,136)" stop-opacity="0.285"/><stop offset="0.026" stop-color="rgb(42,50,136)" stop-opacity="0.475"/><stop offset="0.25" stop-color="rgb(42,50,136)" stop-opacity="0.544"/><stop offset="0.5" stop-color="rgb(42,50,136)" stop-opacity="0.625"/><stop offset="0.75" stop-color="rgb(42,50,136)" stop-opacity="0.705"/><stop offset="1.0" stop-color="rgb(42,50,136)" stop-opacity="0.786"/></linearGradient><linearGradient id="c303" x1="0" y1="0" x2="0" y2="1"><stop offset="0.0" stop-color="rgb(42,50,136)" stop-opacity="0.174"/><stop offset="0.026" stop-color="rgb(42,50,136)" stop-opacity="0.290"/><stop offset="0.25" stop-color="rgb(42,50,136)" stop-opacity="0.382"/><stop offset="0.5" stop-color="rgb(42,50,136)" stop-opacity="0.488"/><stop offset="0.75" stop-color="rgb(42,50,136)" stop-opacity="0.595"/><stop offset="1.0" stop-color="rgb(42,50,136)" stop-opacity="0.702"/></linearGradient><linearGradient id="c304" x1="0" y1="0" x2="0" y2="1"><stop offset="0.0" stop-color="rgb(42,50,136)" stop-opacity="0.276"/><stop offset="0.027" stop-color="rgb(42,50,136)" stop-opacity="0.460"/><stop offset="0.25" stop-color="rgb(42,50,136)" stop-opacity="0.528"/><stop offset="0.5" stop-color="rgb(42,50,136)" stop-opacity="0.608"/><stop offset="0.75" stop-color="rgb(42,50,136)" stop-opacity="0.688"/><stop offset="1.0" stop-color="rgb(42,50,136)" stop-opacity="0.768"/></linearGradient><linearGradient id="c305" x1="0" y1="0" x2="0" y2="1"><stop offset="0.0" stop-color="rgb(42,50,136)" stop-opacity="0.410"/><stop offset="0.027" stop-color="rgb(42,50,136)" stop-opacity="0.683"/><stop offset="0.25" stop-color="rgb(42,50,136)" stop-opacity="0.724"/><stop offset="0.5" stop-color="rgb(42,50,136)" stop-opacity="0.771"/><stop offset="0.75" stop-color="rgb(42,50,136)" stop-opacity="0.818"/><stop offset="1.0" stop-color="rgb(42,50,136)" stop-opacity="0.864"/></linearGradient><linearGradient id="c306" x1="0" y1="0" x2="0" y2="1"><stop offset="0.0" stop-color="rgb(42,50,136)" stop-opacity="0.337"/><stop offset="0.027" stop-color="rgb(42,50,136)" stop-opacity="0.562"/><stop offset="0.25" stop-color="rgb(42,50,136)" stop-opacity="0.617"/><stop offset="0.5" stop-color="rgb(42,50,136)" stop-opacity="0.680"/><stop offset="0.75" stop-color="rgb(42,50,136)" stop-opacity="0.744"/><stop offset="1.0" stop-color="rgb(42,50,136)" stop-opacity="0.808"/></linearGradient><linearGradient id="c307" x1="0" y1="0" x2="0" y2="1"><stop offset="0.0" stop-color="rgb(42,50,136)" stop-opacity="0.187"/><stop offset="0.027" stop-color="rgb(42,50,136)" stop-opacity="0.312"/><stop offset="0.25" stop-color="rgb(42,50,136)" stop-opacity="0.396"/><stop offset="0.5" stop-color="rgb(42,50,136)" stop-opacity="0.495"/><stop offset="0.75" stop-color="rgb(42,50,136)" stop-opacity="0.594"/><stop offset="1.0" stop-color="rgb(42,50,136)" stop-opacity="0.693"/></linearGradient><linearGradient id="c308" x1="0" y1="0" x2="0" y2="1"><stop offset="0.0" stop-color="rgb(42,50,136)" stop-opacity="0.228"/><stop offset="0.028" stop-color="rgb(42,50,136)" stop-opacity="0.380"/><stop offset="0.25" stop-color="rgb(42,50,136)" stop-opacity="0.455"/><stop offset="0.5" stop-color="rgb(42,50,136)" stop-opacity="0.544"/><stop offset="0.75" stop-color="rgb(42,50,136)" stop-opacity="0.632"/><stop offset="1.0" stop-color="rgb(42,50,136)" stop-opacity="0.720"/></linearGradient><linearGradient id="c309" x1="0" y1="0" x2="0" y2="1"><stop offset="0.0" stop-color="rgb(42,50,136)" stop-opacity="0.387"/><stop offset="0.028" stop-color="rgb(42,50,136)" stop-opacity="0.645"/><stop offset="0.25" stop-color="rgb(42,50,136)" stop-opacity="0.687"/><stop offset="0.5" stop-color="rgb(42,50,136)" stop-opacity="0.737"/><stop offset="0.75" stop-color="rgb(42,50,136)" stop-opacity="0.787"/><stop offset="1.0" stop-color="rgb(42,50,136)" stop-opacity="0.837"/></linearGradient><linearGradient id="c310" x1="0" y1="0" x2="0" y2="1"><stop offset="0.0" stop-color="rgb(42,50,136)" stop-opacity="0.379"/><stop offset="0.028" stop-color="rgb(42,50,136)" stop-opacity="0.631"/><stop offset="0.25" stop-color="rgb(42,50,136)" stop-opacity="0.675"/><stop offset="0.5" stop-color="rgb(42,50,136)" stop-opacity="0.727"/><stop offset="0.75" stop-color="rgb(42,50,136)" stop-opacity="0.778"/><stop offset="1.0" stop-color="rgb(42,50,136)" stop-opacity="0.830"/></linearGradient><linearGradient id="c311" x1="0" y1="0" x2="0" y2="1"><stop offset="0.0" stop-color="rgb(42,50,136)" stop-opacity="0.218"/><stop offset="0.029" stop-color="rgb(42,50,136)" stop-opacity="0.363"/><stop offset="0.25" stop-color="rgb(42,50,136)" stop-opacity="0.437"/><stop offset="0.5" stop-color="rgb(42,50,136)" stop-opacity="0.524"/><stop offset="0.75" stop-color="rgb(42,50,136)" stop-opacity="0.612"/><stop offset="1.0" stop-color="rgb(42,50,136)" stop-opacity="0.699"/></linearGradient><linearGradient id="c312" x1="0" y1="0" x2="0" y2="1"><stop offset="0.0" stop-color="rgb(42,50,136)" stop-opacity="0.194"/><stop offset="0.029" stop-color="rgb(42,50,136)" stop-opacity="0.324"/><stop offset="0.25" stop-color="rgb(42,50,136)" stop-opacity="0.401"/><stop offset="0.5" stop-color="rgb(42,50,136)" stop-opacity="0.491"/><stop offset="0.75" stop-color="rgb(42,50,136)" stop-opacity="0.582"/><stop offset="1.0" stop-color="rgb(42,50,136)" stop-opacity="0.672"/></linearGradient><linearGradient id="c313" x1="0" y1="0" x2="0" y2="1"><stop offset="0.0" stop-color="rgb(42,50,136)" stop-opacity="0.351"/><stop offset="0.029" stop-color="rgb(42,50,136)" stop-opacity="0.585"/><stop offset="0.25" stop-color="rgb(42,50,136)" stop-opacity="0.632"/><stop offset="0.5" stop-color="rgb(42,50,136)" stop-opacity="0.688"/><stop offset="0.75" stop-color="rgb(42,50,136)" stop-opacity="0.743"/><stop offset="1.0" stop-color="rgb(42,50,136)" stop-opacity="0.798"/></linearGradient><linearGradient id="c314" x1="0" y1="0" x2="0" y2="1"><stop offset="0.0" stop-color="rgb(42,50,136)" stop-opacity="0.404"/><stop offset="0.029" stop-color="rgb(42,50,136)" stop-opacity="0.674"/><stop offset="0.25" stop-color="rgb(42,50,136)" stop-opacity="0.711"/><stop offset="0.5" stop-color="rgb(42,50,136)" stop-opacity="0.754"/><stop offset="0.75" stop-color="rgb(42,50,136)" stop-opacity="0.798"/><stop offset="1.0" stop-color="rgb(42,50,136)" stop-opacity="0.841"/></linearGradient><linearGradient id="c315" x1="0" y1="0" x2="0" y2="1"><stop offset="0.0" stop-color="rgb(42,50,136)" stop-opacity="0.257"/><stop offset="0.03" stop-color="rgb(42,50,136)" stop-opacity="0.428"/><stop offset="0.25" stop-color="rgb(42,50,136)" stop-opacity="0.491"/><stop offset="0.5" stop-color="rgb(42,50,136)" stop-opacity="0.566"/><stop offset="0.75" stop-color="rgb(42,50,136)" stop-opacity="0.640"/><stop offset="1.0" stop-color="rgb(42,50,136)" stop-opacity="0.715"/></linearGradient><linearGradient id="c316" x1="0" y1="0" x2="0" y2="1"><stop offset="0.0" stop-color="rgb(42,50,136)" stop-opacity="0.177"/><stop offset="0.031" stop-color="rgb(42,50,136)" stop-opacity="0.295"/><stop offset="0.25" stop-color="rgb(42,50,136)" stop-opacity="0.371"/><stop offset="0.5" stop-color="rgb(42,50,136)" stop-opacity="0.461"/><stop offset="0.75" stop-color="rgb(42,50,136)" stop-opacity="0.551"/><stop offset="1.0" stop-color="rgb(42,50,136)" stop-opacity="0.642"/></linearGradient><linearGradient id="c317" x1="0" y1="0" x2="0" y2="1"><stop offset="0.0" stop-color="rgb(42,50,136)" stop-opacity="0.310"/><stop offset="0.031" stop-color="rgb(42,50,136)" stop-opacity="0.517"/><stop offset="0.25" stop-color="rgb(42,50,136)" stop-opacity="0.569"/><stop offset="0.5" stop-color="rgb(42,50,136)" stop-opacity="0.630"/><stop offset="0.75" stop-color="rgb(42,50,136)" stop-opacity="0.692"/><stop offset="1.0" stop-color="rgb(42,50,136)" stop-opacity="0.753"/></linearGradient><linearGradient id="c318" x1="0" y1="0" x2="0" y2="1"><stop offset="0.0" stop-color="rgb(42,50,136)" stop-opacity="0.414"/><stop offset="0.031" stop-color="rgb(42,50,136)" stop-opacity="0.690"/><stop offset="0.25" stop-color="rgb(42,50,136)" stop-opacity="0.723"/><stop offset="0.5" stop-color="rgb(42,50,136)" stop-opacity="0.762"/><stop offset="0.75" stop-color="rgb(42,50,136)" stop-opacity="0.801"/><stop offset="1.0" stop-color="rgb(42,50,136)" stop-opacity="0.841"/></linearGradient><linearGradient id="c319" x1="0" y1="0" x2="0" y2="1"><stop offset="0.0" stop-color="rgb(42,50,136)" stop-opacity="0.298"/><stop offset="0.032" stop-color="rgb(42,50,136)" stop-opacity="0.496"/><stop offset="0.25" stop-color="rgb(42,50,136)" stop-opacity="0.548"/><stop offset="0.5" stop-color="rgb(42,50,136)" stop-opacity="0.610"/><stop offset="0.75" stop-color="rgb(42,50,136)" stop-opacity="0.672"/><stop offset="1.0" stop-color="rgb(42,50,136)" stop-opacity="0.734"/></linearGradient><linearGradient id="c320" x1="0" y1="0" x2="0" y2="1"><stop offset="0.0" stop-color="rgb(42,50,136)" stop-opacity="0.175"/><stop offset="0.032" stop-color="rgb(42,50,136)" stop-opacity="0.291"/><stop offset="0.25" stop-color="rgb(42,50,136)" stop-opacity="0.365"/><stop offset="0.5" stop-color="rgb(42,50,136)" stop-opacity="0.453"/><stop offset="0.75" stop-color="rgb(42,50,136)" stop-opacity="0.541"/><stop offset="1.0" stop-color="rgb(42,50,136)" stop-opacity="0.629"/></linearGradient><linearGradient id="c321" x1="0" y1="0" x2="0" y2="1"><stop offset="0.0" stop-color="rgb(42,50,136)" stop-opacity="0.271"/><stop offset="0.033" stop-color="rgb(42,50,136)" stop-opacity="0.452"/><stop offset="0.25" stop-color="rgb(42,50,136)" stop-opacity="0.506"/><stop offset="0.5" stop-color="rgb(42,50,136)" stop-opacity="0.573"/><stop offset="0.75" stop-color="rgb(42,50,136)" stop-opacity="0.639"/><stop offset="1.0" stop-color="rgb(42,50,136)" stop-opacity="0.705"/></linearGradient><linearGradient id="c322" x1="0" y1="0" x2="0" y2="1"><stop offset="0.0" stop-color="rgb(42,50,136)" stop-opacity="0.410"/><stop offset="0.033" stop-color="rgb(42,50,136)" stop-opacity="0.683"/><stop offset="0.25" stop-color="rgb(42,50,136)" stop-opacity="0.714"/><stop offset="0.5" stop-color="rgb(42,50,136)" stop-opacity="0.752"/><stop offset="0.75" stop-color="rgb(42,50,136)" stop-opacity="0.790"/><stop offset="1.0" stop-color="rgb(42,50,136)" stop-opacity="0.828"/></linearGradient><linearGradient id="c323" x1="0" y1="0" x2="0" y2="1"><stop offset="0.0" stop-color="rgb(42,50,136)" stop-opacity="0.335"/><stop offset="0.033" stop-color="rgb(42,50,136)" stop-opacity="0.558"/><stop offset="0.25" stop-color="rgb(42,50,136)" stop-opacity="0.601"/><stop offset="0.5" stop-color="rgb(42,50,136)" stop-opacity="0.654"/><stop offset="0.75" stop-color="rgb(42,50,136)" stop-opacity="0.707"/><stop offset="1.0" stop-color="rgb(42,50,136)" stop-opacity="0.760"/></linearGradient><linearGradient id="c324" x1="0" y1="0" x2="0" y2="1"><stop offset="0.0" stop-color="rgb(42,50,136)" stop-opacity="0.184"/><stop offset="0.034" stop-color="rgb(42,50,136)" stop-opacity="0.307"/><stop offset="0.25" stop-color="rgb(42,50,136)" stop-opacity="0.373"/><stop offset="0.5" stop-color="rgb(42,50,136)" stop-opacity="0.452"/><stop offset="0.75" stop-color="rgb(42,50,136)" stop-opacity="0.532"/><stop offset="1.0" stop-color="rgb(42,50,136)" stop-opacity="0.612"/></linearGradient><linearGradient id="c325" x1="0" y1="0" x2="0" y2="1"><stop offset="0.0" stop-color="rgb(42,50,136)" stop-opacity="0.237"/><stop offset="0.034" stop-color="rgb(42,50,136)" stop-opacity="0.396"/><stop offset="0.25" stop-color="rgb(42,50,136)" stop-opacity="0.452"/><stop offset="0.5" stop-color="rgb(42,50,136)" stop-opacity="0.521"/><stop offset="0.75" stop-color="rgb(42,50,136)" stop-opacity="0.590"/><stop offset="1.0" stop-color="rgb(42,50,136)" stop-opacity="0.660"/></linearGradient><linearGradient id="c326" x1="0" y1="0" x2="0" y2="1"><stop offset="0.0" stop-color="rgb(42,50,136)" stop-opacity="0.396"/><stop offset="0.034" stop-color="rgb(42,50,136)" stop-opacity="0.659"/><stop offset="0.25" stop-color="rgb(42,50,136)" stop-opacity="0.691"/><stop offset="0.5" stop-color="rgb(42,50,136)" stop-opacity="0.730"/><stop offset="0.75" stop-color="rgb(42,50,136)" stop-opacity="0.769"/><stop offset="1.0" stop-color="rgb(42,50,136)" stop-opacity="0.808"/></linearGradient><linearGradient id="c327" x1="0" y1="0" x2="0" y2="1"><stop offset="0.0" stop-color="rgb(42,50,136)" stop-opacity="0.365"/><stop offset="0.035" stop-color="rgb(42,50,136)" stop-opacity="0.608"/><stop offset="0.25" stop-color="rgb(42,50,136)" stop-opacity="0.643"/><stop offset="0.5" stop-color="rgb(42,50,136)" stop-opacity="0.687"/><stop offset="0.75" stop-color="rgb(42,50,136)" stop-opacity="0.730"/><stop offset="1.0" stop-color="rgb(42,50,136)" stop-opacity="0.774"/></linearGradient><linearGradient id="c328" x1="0" y1="0" x2="0" y2="1"><stop offset="0.0" stop-color="rgb(42,50,136)" stop-opacity="0.202"/><stop offset="0.036" stop-color="rgb(42,50,136)" stop-opacity="0.337"/><stop offset="0.25" stop-color="rgb(42,50,136)" stop-opacity="0.396"/><stop offset="0.5" stop-color="rgb(42,50,136)" stop-opacity="0.469"/><stop offset="0.75" stop-color="rgb(42,50,136)" stop-opacity="0.543"/><stop offset="1.0" stop-color="rgb(42,50,136)" stop-opacity="0.616"/></linearGradient><linearGradient id="c329" x1="0" y1="0" x2="0" y2="1"><stop offset="0.0" stop-color="rgb(42,50,136)" stop-opacity="0.211"/><stop offset="0.036" stop-color="rgb(42,50,136)" stop-opacity="0.352"/><stop offset="0.25" stop-color="rgb(42,50,136)" stop-opacity="0.410"/><stop offset="0.5" stop-color="rgb(42,50,136)" stop-opacity="0.482"/><stop offset="0.75" stop-color="rgb(42,50,136)" stop-opacity="0.553"/><stop offset="1.0" stop-color="rgb(42,50,136)" stop-opacity="0.625"/></linearGradient><linearGradient id="c330" x1="0" y1="0" x2="0" y2="1"><stop offset="0.0" stop-color="rgb(42,50,136)" stop-opacity="0.376"/><stop offset="0.037" stop-color="rgb(42,50,136)" stop-opacity="0.626"/><stop offset="0.25" stop-color="rgb(42,50,136)" stop-opacity="0.658"/><stop offset="0.5" stop-color="rgb(42,50,136)" stop-opacity="0.699"/><stop offset="0.75" stop-color="rgb(42,50,136)" stop-opacity="0.739"/><stop offset="1.0" stop-color="rgb(42,50,136)" stop-opacity="0.779"/></linearGradient><linearGradient id="c331" x1="0" y1="0" x2="0" y2="1"><stop offset="0.0" stop-color="rgb(42,50,136)" stop-opacity="0.387"/><stop offset="0.037" stop-color="rgb(42,50,136)" stop-opacity="0.645"/><stop offset="0.25" stop-color="rgb(42,50,136)" stop-opacity="0.675"/><stop offset="0.5" stop-color="rgb(42,50,136)" stop-opacity="0.712"/><stop offset="0.75" stop-color="rgb(42,50,136)" stop-opacity="0.749"/><stop offset="1.0" stop-color="rgb(42,50,136)" stop-opacity="0.786"/></linearGradient><linearGradient id="c332" x1="0" y1="0" x2="0" y2="1"><stop offset="0.0" stop-color="rgb(42,50,136)" stop-opacity="0.224"/><stop offset="0.038" stop-color="rgb(42,50,136)" stop-opacity="0.373"/><stop offset="0.25" stop-color="rgb(42,50,136)" stop-opacity="0.424"/><stop offset="0.5" stop-color="rgb(42,50,136)" stop-opacity="0.489"/><stop offset="0.75" stop-color="rgb(42,50,136)" stop-opacity="0.553"/><stop offset="1.0" stop-color="rgb(42,50,136)" stop-opacity="0.618"/></linearGradient><linearGradient id="c333" x1="0" y1="0" x2="0" y2="1"><stop offset="0.0" stop-color="rgb(42,50,136)" stop-opacity="0.193"/><stop offset="0.039" stop-color="rgb(42,50,136)" stop-opacity="0.322"/><stop offset="0.25" stop-color="rgb(42,50,136)" stop-opacity="0.377"/><stop offset="0.5" stop-color="rgb(42,50,136)" stop-opacity="0.446"/><stop offset="0.75" stop-color="rgb(42,50,136)" stop-opacity="0.515"/><stop offset="1.0" stop-color="rgb(42,50,136)" stop-opacity="0.584"/></linearGradient><linearGradient id="c334" x1="0" y1="0" x2="0" y2="1"><stop offset="0.0" stop-color="rgb(42,50,136)" stop-opacity="0.353"/><stop offset="0.039" stop-color="rgb(42,50,136)" stop-opacity="0.589"/><stop offset="0.25" stop-color="rgb(42,50,136)" stop-opacity="0.621"/><stop offset="0.5" stop-color="rgb(42,50,136)" stop-opacity="0.663"/><stop offset="0.75" stop-color="rgb(42,50,136)" stop-opacity="0.704"/><stop offset="1.0" stop-color="rgb(42,50,136)" stop-opacity="0.745"/></linearGradient><linearGradient id="c335" x1="0" y1="0" x2="0" y2="1"><stop offset="0.0" stop-color="rgb(42,50,136)" stop-opacity="0.401"/><stop offset="0.04" stop-color="rgb(42,50,136)" stop-opacity="0.669"/><stop offset="0.25" stop-color="rgb(42,50,136)" stop-opacity="0.695"/><stop offset="0.5" stop-color="rgb(42,50,136)" stop-opacity="0.727"/><stop offset="0.75" stop-color="rgb(42,50,136)" stop-opacity="0.760"/><stop offset="1.0" stop-color="rgb(42,50,136)" stop-opacity="0.792"/></linearGradient><linearGradient id="c336" x1="0" y1="0" x2="0" y2="1"><stop offset="0.0" stop-color="rgb(42,50,136)" stop-opacity="0.246"/><stop offset="0.04" stop-color="rgb(42,50,136)" stop-opacity="0.410"/><stop offset="0.25" stop-color="rgb(42,50,136)" stop-opacity="0.455"/><stop offset="0.5" stop-color="rgb(42,50,136)" stop-opacity="0.513"/><stop offset="0.75" stop-color="rgb(42,50,136)" stop-opacity="0.571"/><stop offset="1.0" stop-color="rgb(42,50,136)" stop-opacity="0.628"/></linearGradient><linearGradient id="c337" x1="0" y1="0" x2="0" y2="1"><stop offset="0.0" stop-color="rgb(42,50,136)" stop-opacity="0.182"/><stop offset="0.042" stop-color="rgb(42,50,136)" stop-opacity="0.303"/><stop offset="0.25" stop-color="rgb(42,50,136)" stop-opacity="0.354"/><stop offset="0.5" stop-color="rgb(42,50,136)" stop-opacity="0.420"/><stop offset="0.75" stop-color="rgb(42,50,136)" stop-opacity="0.486"/><stop offset="1.0" stop-color="rgb(42,50,136)" stop-opacity="0.552"/></linearGradient><linearGradient id="c338" x1="0" y1="0" x2="0" y2="1"><stop offset="0.0" stop-color="rgb(42,50,136)" stop-opacity="0.331"/><stop offset="0.042" stop-color="rgb(42,50,136)" stop-opacity="0.552"/><stop offset="0.25" stop-color="rgb(42,50,136)" stop-opacity="0.585"/><stop offset="0.5" stop-color="rgb(42,50,136)" stop-opacity="0.627"/><stop offset="0.75" stop-color="rgb(42,50,136)" stop-opacity="0.669"/><stop offset="1.0" stop-color="rgb(42,50,136)" stop-opacity="0.711"/></linearGradient><linearGradient id="c339" x1="0" y1="0" x2="0" y2="1"><stop offset="0.0" stop-color="rgb(42,50,136)" stop-opacity="0.410"/><stop offset="0.043" stop-color="rgb(42,50,136)" stop-opacity="0.683"/><stop offset="0.25" stop-color="rgb(42,50,136)" stop-opacity="0.705"/><stop offset="0.5" stop-color="rgb(42,50,136)" stop-opacity="0.735"/><stop offset="0.75" stop-color="rgb(42,50,136)" stop-opacity="0.764"/><stop offset="1.0" stop-color="rgb(42,50,136)" stop-opacity="0.794"/></linearGradient><linearGradient id="c340" x1="0" y1="0" x2="0" y2="1"><stop offset="0.0" stop-color="rgb(42,50,136)" stop-opacity="0.267"/><stop offset="0.043" stop-color="rgb(42,50,136)" stop-opacity="0.445"/><stop offset="0.25" stop-color="rgb(42,50,136)" stop-opacity="0.484"/><stop offset="0.5" stop-color="rgb(42,50,136)" stop-opacity="0.534"/><stop offset="0.75" stop-color="rgb(42,50,136)" stop-opacity="0.585"/><stop offset="1.0" stop-color="rgb(42,50,136)" stop-opacity="0.635"/></linearGradient><linearGradient id="c341" x1="0" y1="0" x2="0" y2="1"><stop offset="0.0" stop-color="rgb(42,50,136)" stop-opacity="0.176"/><stop offset="0.043" stop-color="rgb(42,50,136)" stop-opacity="0.293"/><stop offset="0.25" stop-color="rgb(42,50,136)" stop-opacity="0.343"/><stop offset="0.5" stop-color="rgb(42,50,136)" stop-opacity="0.407"/><stop offset="0.75" stop-color="rgb(42,50,136)" stop-opacity="0.471"/><stop offset="1.0" stop-color="rgb(42,50,136)" stop-opacity="0.536"/></linearGradient><linearGradient id="c342" x1="0" y1="0" x2="0" y2="1"><stop offset="0.0" stop-color="rgb(42,50,136)" stop-opacity="0.311"/><stop offset="0.044" stop-color="rgb(42,50,136)" stop-opacity="0.519"/><stop offset="0.25" stop-color="rgb(42,50,136)" stop-opacity="0.552"/><stop offset="0.5" stop-color="rgb(42,50,136)" stop-opacity="0.594"/><stop offset="0.75" stop-color="rgb(42,50,136)" stop-opacity="0.637"/><stop offset="1.0" stop-color="rgb(42,50,136)" stop-opacity="0.680"/></linearGradient><linearGradient id="c343" x1="0" y1="0" x2="0" y2="1"><stop offset="0.0" stop-color="rgb(42,50,136)" stop-opacity="0.413"/><stop offset="0.046" stop-color="rgb(42,50,136)" stop-opacity="0.689"/><stop offset="0.25" stop-color="rgb(42,50,136)" stop-opacity="0.709"/><stop offset="0.5" stop-color="rgb(42,50,136)" stop-opacity="0.735"/><stop offset="0.75" stop-color="rgb(42,50,136)" stop-opacity="0.762"/><stop offset="1.0" stop-color="rgb(42,50,136)" stop-opacity="0.788"/></linearGradient><linearGradient id="c344" x1="0" y1="0" x2="0" y2="1"><stop offset="0.0" stop-color="rgb(42,50,136)" stop-opacity="0.286"/><stop offset="0.046" stop-color="rgb(42,50,136)" stop-opacity="0.476"/><stop offset="0.25" stop-color="rgb(42,50,136)" stop-opacity="0.510"/><stop offset="0.5" stop-color="rgb(42,50,136)" stop-opacity="0.554"/><stop offset="0.75" stop-color="rgb(42,50,136)" stop-opacity="0.599"/><stop offset="1.0" stop-color="rgb(42,50,136)" stop-opacity="0.643"/></linearGradient><linearGradient id="c345" x1="0" y1="0" x2="0" y2="1"><stop offset="0.0" stop-color="rgb(42,50,136)" stop-opacity="0.174"/><stop offset="0.047" stop-color="rgb(42,50,136)" stop-opacity="0.290"/><stop offset="0.25" stop-color="rgb(42,50,136)" stop-opacity="0.335"/><stop offset="0.5" stop-color="rgb(42,50,136)" stop-opacity="0.395"/><stop offset="0.75" stop-color="rgb(42,50,136)" stop-opacity="0.455"/><stop offset="1.0" stop-color="rgb(42,50,136)" stop-opacity="0.514"/></linearGradient><linearGradient id="c346" x1="0" y1="0" x2="0" y2="1"><stop offset="0.0" stop-color="rgb(42,50,136)" stop-opacity="0.294"/><stop offset="0.048" stop-color="rgb(42,50,136)" stop-opacity="0.491"/><stop offset="0.25" stop-color="rgb(42,50,136)" stop-opacity="0.522"/><stop offset="0.5" stop-color="rgb(42,50,136)" stop-opacity="0.564"/><stop offset="0.75" stop-color="rgb(42,50,136)" stop-opacity="0.606"/><stop offset="1.0" stop-color="rgb(42,50,136)" stop-opacity="0.647"/></linearGradient><linearGradient id="c347" x1="0" y1="0" x2="0" y2="1"><stop offset="0.0" stop-color="rgb(42,50,136)" stop-opacity="0.414"/><stop offset="0.048" stop-color="rgb(42,50,136)" stop-opacity="0.690"/><stop offset="0.25" stop-color="rgb(42,50,136)" stop-opacity="0.709"/><stop offset="0.5" stop-color="rgb(42,50,136)" stop-opacity="0.734"/><stop offset="0.75" stop-color="rgb(42,50,136)" stop-opacity="0.759"/><stop offset="1.0" stop-color="rgb(42,50,136)" stop-opacity="0.785"/></linearGradient><linearGradient id="c348" x1="0" y1="0" x2="0" y2="1"><stop offset="0.0" stop-color="rgb(42,50,136)" stop-opacity="0.301"/><stop offset="0.05" stop-color="rgb(42,50,136)" stop-opacity="0.501"/><stop offset="0.25" stop-color="rgb(42,50,136)" stop-opacity="0.530"/><stop offset="0.5" stop-color="rgb(42,50,136)" stop-opacity="0.570"/><stop offset="0.75" stop-color="rgb(42,50,136)" stop-opacity="0.609"/><stop offset="1.0" stop-color="rgb(42,50,136)" stop-opacity="0.649"/></linearGradient><linearGradient id="c349" x1="0" y1="0" x2="0" y2="1"><stop offset="0.0" stop-color="rgb(42,50,136)" stop-opacity="0.174"/><stop offset="0.05" stop-color="rgb(42,50,136)" stop-opacity="0.291"/><stop offset="0.25" stop-color="rgb(42,50,136)" stop-opacity="0.332"/><stop offset="0.5" stop-color="rgb(42,50,136)" stop-opacity="0.388"/><stop offset="0.75" stop-color="rgb(42,50,136)" stop-opacity="0.444"/><stop offset="1.0" stop-color="rgb(42,50,136)" stop-opacity="0.500"/></linearGradient><linearGradient id="c350" x1="0" y1="0" x2="0" y2="1"><stop offset="0.0" stop-color="rgb(42,50,136)" stop-opacity="0.281"/><stop offset="0.051" stop-color="rgb(42,50,136)" stop-opacity="0.469"/><stop offset="0.25" stop-color="rgb(42,50,136)" stop-opacity="0.498"/><stop offset="0.5" stop-color="rgb(42,50,136)" stop-opacity="0.539"/><stop offset="0.75" stop-color="rgb(42,50,136)" stop-opacity="0.579"/><stop offset="1.0" stop-color="rgb(42,50,136)" stop-opacity="0.620"/></linearGradient><linearGradient id="c351" x1="0" y1="0" x2="0" y2="1"><stop offset="0.0" stop-color="rgb(42,50,136)" stop-opacity="0.413"/><stop offset="0.051" stop-color="rgb(42,50,136)" stop-opacity="0.688"/><stop offset="0.25" stop-color="rgb(42,50,136)" stop-opacity="0.706"/><stop offset="0.5" stop-color="rgb(42,50,136)" stop-opacity="0.730"/><stop offset="0.75" stop-color="rgb(42,50,136)" stop-opacity="0.754"/><stop offset="1.0" stop-color="rgb(42,50,136)" stop-opacity="0.778"/></linearGradient><linearGradient id="c352" x1="0" y1="0" x2="0" y2="1"><stop offset="0.0" stop-color="rgb(42,50,136)" stop-opacity="0.312"/><stop offset="0.054" stop-color="rgb(42,50,136)" stop-opacity="0.520"/><stop offset="0.25" stop-color="rgb(42,50,136)" stop-opacity="0.545"/><stop offset="0.5" stop-color="rgb(42,50,136)" stop-opacity="0.580"/><stop offset="0.75" stop-color="rgb(42,50,136)" stop-opacity="0.615"/><stop offset="1.0" stop-color="rgb(42,50,136)" stop-opacity="0.649"/></linearGradient><linearGradient id="c353" x1="0" y1="0" x2="0" y2="1"><stop offset="0.0" stop-color="rgb(42,50,136)" stop-opacity="0.176"/><stop offset="0.054" stop-color="rgb(42,50,136)" stop-opacity="0.293"/><stop offset="0.25" stop-color="rgb(42,50,136)" stop-opacity="0.330"/><stop offset="0.5" stop-color="rgb(42,50,136)" stop-opacity="0.381"/><stop offset="0.75" stop-color="rgb(42,50,136)" stop-opacity="0.433"/><stop offset="1.0" stop-color="rgb(42,50,136)" stop-opacity="0.485"/></linearGradient><linearGradient id="c354" x1="0" y1="0" x2="0" y2="1"><stop offset="0.0" stop-color="rgb(42,50,136)" stop-opacity="0.272"/><stop offset="0.054" stop-color="rgb(42,50,136)" stop-opacity="0.453"/><stop offset="0.25" stop-color="rgb(42,50,136)" stop-opacity="0.481"/><stop offset="0.5" stop-color="rgb(42,50,136)" stop-opacity="0.521"/><stop offset="0.75" stop-color="rgb(42,50,136)" stop-opacity="0.561"/><stop offset="1.0" stop-color="rgb(42,50,136)" stop-opacity="0.601"/></linearGradient><linearGradient id="c355" x1="0" y1="0" x2="0" y2="1"><stop offset="0.0" stop-color="rgb(42,50,136)" stop-opacity="0.412"/><stop offset="0.056" stop-color="rgb(42,50,136)" stop-opacity="0.686"/><stop offset="0.25" stop-color="rgb(42,50,136)" stop-opacity="0.701"/><stop offset="0.5" stop-color="rgb(42,50,136)" stop-opacity="0.723"/><stop offset="0.75" stop-color="rgb(42,50,136)" stop-opacity="0.745"/><stop offset="1.0" stop-color="rgb(42,50,136)" stop-opacity="0.767"/></linearGradient><linearGradient id="c356" x1="0" y1="0" x2="0" y2="1"><stop offset="0.0" stop-color="rgb(42,50,136)" stop-opacity="0.320"/><stop offset="0.057" stop-color="rgb(42,50,136)" stop-opacity="0.533"/><stop offset="0.25" stop-color="rgb(42,50,136)" stop-opacity="0.556"/><stop offset="0.5" stop-color="rgb(42,50,136)" stop-opacity="0.588"/><stop offset="0.75" stop-color="rgb(42,50,136)" stop-opacity="0.620"/><stop offset="1.0" stop-color="rgb(42,50,136)" stop-opacity="0.652"/></linearGradient><linearGradient id="c357" x1="0" y1="0" x2="0" y2="1"><stop offset="0.0" stop-color="rgb(42,50,136)" stop-opacity="0.177"/><stop offset="0.059" stop-color="rgb(42,50,136)" stop-opacity="0.295"/><stop offset="0.25" stop-color="rgb(42,50,136)" stop-opacity="0.328"/><stop offset="0.5" stop-color="rgb(42,50,136)" stop-opacity="0.375"/><stop offset="0.75" stop-color="rgb(42,50,136)" stop-opacity="0.422"/><stop offset="1.0" stop-color="rgb(42,50,136)" stop-opacity="0.469"/></linearGradient><linearGradient id="c358" x1="0" y1="0" x2="0" y2="1"><stop offset="0.0" stop-color="rgb(42,50,136)" stop-opacity="0.266"/><stop offset="0.059" stop-color="rgb(42,50,136)" stop-opacity="0.443"/><stop offset="0.25" stop-color="rgb(42,50,136)" stop-opacity="0.468"/><stop offset="0.5" stop-color="rgb(42,50,136)" stop-opacity="0.506"/><stop offset="0.75" stop-color="rgb(42,50,136)" stop-opacity="0.543"/><stop offset="1.0" stop-color="rgb(42,50,136)" stop-opacity="0.581"/></linearGradient><linearGradient id="c359" x1="0" y1="0" x2="0" y2="1"><stop offset="0.0" stop-color="rgb(42,50,136)" stop-opacity="0.410"/><stop offset="0.061" stop-color="rgb(42,50,136)" stop-opacity="0.684"/><stop offset="0.25" stop-color="rgb(42,50,136)" stop-opacity="0.698"/><stop offset="0.5" stop-color="rgb(42,50,136)" stop-opacity="0.718"/><stop offset="0.75" stop-color="rgb(42,50,136)" stop-opacity="0.738"/><stop offset="1.0" stop-color="rgb(42,50,136)" stop-opacity="0.758"/></linearGradient><linearGradient id="c360" x1="0" y1="0" x2="0" y2="1"><stop offset="0.0" stop-color="rgb(42,50,136)" stop-opacity="0.324"/><stop offset="0.066" stop-color="rgb(42,50,136)" stop-opacity="0.540"/><stop offset="0.25" stop-color="rgb(42,50,136)" stop-opacity="0.558"/><stop offset="0.5" stop-color="rgb(42,50,136)" stop-opacity="0.585"/><stop offset="0.75" stop-color="rgb(42,50,136)" stop-opacity="0.613"/><stop offset="1.0" stop-color="rgb(42,50,136)" stop-opacity="0.640"/></linearGradient><linearGradient id="c361" x1="0" y1="0" x2="0" y2="1"><stop offset="0.0" stop-color="rgb(42,50,136)" stop-opacity="0.178"/><stop offset="0.062" stop-color="rgb(42,50,136)" stop-opacity="0.297"/><stop offset="0.25" stop-color="rgb(42,50,136)" stop-opacity="0.326"/><stop offset="0.5" stop-color="rgb(42,50,136)" stop-opacity="0.371"/><stop offset="0.75" stop-color="rgb(42,50,136)" stop-opacity="0.416"/><stop offset="1.0" stop-color="rgb(42,50,136)" stop-opacity="0.460"/></linearGradient><linearGradient id="c362" x1="0" y1="0" x2="0" y2="1"><stop offset="0.0" stop-color="rgb(42,50,136)" stop-opacity="0.263"/><stop offset="0.065" stop-color="rgb(42,50,136)" stop-opacity="0.439"/><stop offset="0.25" stop-color="rgb(42,50,136)" stop-opacity="0.461"/><stop offset="0.5" stop-color="rgb(42,50,136)" stop-opacity="0.495"/><stop offset="0.75" stop-color="rgb(42,50,136)" stop-opacity="0.529"/><stop offset="1.0" stop-color="rgb(42,50,136)" stop-opacity="0.562"/></linearGradient><linearGradient id="c363" x1="0" y1="0" x2="0" y2="1"><stop offset="0.0" stop-color="rgb(42,50,136)" stop-opacity="0.410"/><stop offset="0.066" stop-color="rgb(42,50,136)" stop-opacity="0.683"/><stop offset="0.25" stop-color="rgb(42,50,136)" stop-opacity="0.696"/><stop offset="0.5" stop-color="rgb(42,50,136)" stop-opacity="0.715"/><stop offset="0.75" stop-color="rgb(42,50,136)" stop-opacity="0.733"/><stop offset="1.0" stop-color="rgb(42,50,136)" stop-opacity="0.752"/></linearGradient><linearGradient id="c364" x1="0" y1="0" x2="0" y2="1"><stop offset="0.0" stop-color="rgb(42,50,136)" stop-opacity="0.325"/><stop offset="0.068" stop-color="rgb(42,50,136)" stop-opacity="0.541"/><stop offset="0.25" stop-color="rgb(42,50,136)" stop-opacity="0.558"/><stop offset="0.5" stop-color="rgb(42,50,136)" stop-opacity="0.585"/><stop offset="0.75" stop-color="rgb(42,50,136)" stop-opacity="0.612"/><stop offset="1.0" stop-color="rgb(42,50,136)" stop-opacity="0.638"/></linearGradient><linearGradient id="c365" x1="0" y1="0" x2="0" y2="1"><stop offset="0.0" stop-color="rgb(42,50,136)" stop-opacity="0.178"/><stop offset="0.067" stop-color="rgb(42,50,136)" stop-opacity="0.297"/><stop offset="0.25" stop-color="rgb(42,50,136)" stop-opacity="0.323"/><stop offset="0.5" stop-color="rgb(42,50,136)" stop-opacity="0.365"/><stop offset="0.75" stop-color="rgb(42,50,136)" stop-opacity="0.406"/><stop offset="1.0" stop-color="rgb(42,50,136)" stop-opacity="0.448"/></linearGradient><linearGradient id="c366" x1="0" y1="0" x2="0" y2="1"><stop offset="0.0" stop-color="rgb(42,50,136)" stop-opacity="0.264"/><stop offset="0.069" stop-color="rgb(42,50,136)" stop-opacity="0.440"/><stop offset="0.25" stop-color="rgb(42,50,136)" stop-opacity="0.460"/><stop offset="0.5" stop-color="rgb(42,50,136)" stop-opacity="0.492"/><stop offset="0.75" stop-color="rgb(42,50,136)" stop-opacity="0.524"/><stop offset="1.0" stop-color="rgb(42,50,136)" stop-opacity="0.556"/></linearGradient><linearGradient id="c367" x1="0" y1="0" x2="0" y2="1"><stop offset="0.0" stop-color="rgb(42,50,136)" stop-opacity="0.410"/><stop offset="0.073" stop-color="rgb(42,50,136)" stop-opacity="0.684"/><stop offset="0.25" stop-color="rgb(42,50,136)" stop-opacity="0.695"/><stop offset="0.5" stop-color="rgb(42,50,136)" stop-opacity="0.712"/><stop offset="0.75" stop-color="rgb(42,50,136)" stop-opacity="0.729"/><stop offset="1.0" stop-color="rgb(42,50,136)" stop-opacity="0.746"/></linearGradient><linearGradient id="c368" x1="0" y1="0" x2="0" y2="1"><stop offset="0.0" stop-color="rgb(42,50,136)" stop-opacity="0.322"/><stop offset="0.073" stop-color="rgb(42,50,136)" stop-opacity="0.537"/><stop offset="0.25" stop-color="rgb(42,50,136)" stop-opacity="0.552"/><stop offset="0.5" stop-color="rgb(42,50,136)" stop-opacity="0.577"/><stop offset="0.75" stop-color="rgb(42,50,136)" stop-opacity="0.602"/><stop offset="1.0" stop-color="rgb(42,50,136)" stop-opacity="0.626"/></linearGradient><linearGradient id="c369" x1="0" y1="0" x2="0" y2="1"><stop offset="0.0" stop-color="rgb(42,50,136)" stop-opacity="0.177"/><stop offset="0.078" stop-color="rgb(42,50,136)" stop-opacity="0.295"/><stop offset="0.25" stop-color="rgb(42,50,136)" stop-opacity="0.316"/><stop offset="0.5" stop-color="rgb(42,50,136)" stop-opacity="0.352"/><stop offset="0.75" stop-color="rgb(42,50,136)" stop-opacity="0.387"/><stop offset="1.0" stop-color="rgb(42,50,136)" stop-opacity="0.423"/></linearGradient><linearGradient id="c370" x1="0" y1="0" x2="0" y2="1"><stop offset="0.0" stop-color="rgb(42,50,136)" stop-opacity="0.269"/><stop offset="0.076" stop-color="rgb(42,50,136)" stop-opacity="0.448"/><stop offset="0.25" stop-color="rgb(42,50,136)" stop-opacity="0.465"/><stop offset="0.5" stop-color="rgb(42,50,136)" stop-opacity="0.493"/><stop offset="0.75" stop-color="rgb(42,50,136)" stop-opacity="0.522"/><stop offset="1.0" stop-color="rgb(42,50,136)" stop-opacity="0.551"/></linearGradient><linearGradient id="c371" x1="0" y1="0" x2="0" y2="1"><stop offset="0.0" stop-color="rgb(42,50,136)" stop-opacity="0.412"/><stop offset="0.079" stop-color="rgb(42,50,136)" stop-opacity="0.686"/><stop offset="0.25" stop-color="rgb(42,50,136)" stop-opacity="0.695"/><stop offset="0.5" stop-color="rgb(42,50,136)" stop-opacity="0.711"/><stop offset="0.75" stop-color="rgb(42,50,136)" stop-opacity="0.726"/><stop offset="1.0" stop-color="rgb(42,50,136)" stop-opacity="0.742"/></linearGradient></defs><rect x="0" y="0" width="749" height="264" fill="#fff"/><path d="M56.5,205.2 L56.5,18.8 L372.5,18.8 L372.5,205.2 Z" fill="none" stroke="#2b2b2b" stroke-width="1.3"/><path d="M440.5,205.2 L440.5,18.8 L747.5,18.8 M440.5,205.2 L747.5,205.2" fill="none" stroke="#2b2b2b" stroke-width="1.3"/><rect x="746.8" y="18.150000000000002" width="2.2" height="187.7" fill="#5c5c5c"/><path d="M135.50,18.8 v3.3 M135.50,205.2 v-3.3 M214.50,18.8 v3.3 M214.50,205.2 v-3.3 M293.50,18.8 v3.3 M293.50,205.2 v-3.3 M56.5,39.51 h3.3 M372.5,39.51 h-3.3 M56.5,80.93 h3.3 M372.5,80.93 h-3.3 M56.5,122.36 h3.3 M372.5,122.36 h-3.3 M56.5,163.78 h3.3 M372.5,163.78 h-3.3 M471.20,18.8 v6.3 M471.20,205.2 v-6.3 M532.60,18.8 v6.3 M532.60,205.2 v-6.3 M594.00,18.8 v6.3 M594.00,205.2 v-6.3 M655.40,18.8 v6.3 M655.40,205.2 v-6.3 M716.80,18.8 v6.3 M716.80,205.2 v-6.3 M440.5,65.40 h3.3 M747.5,65.40 h-3.3 M440.5,112.00 h3.3 M747.5,112.00 h-3.3 M440.5,158.60 h3.3 M747.5,158.60 h-3.3" stroke="#2b2b2b" stroke-width="1.3" fill="none"/><rect x="57" y="197.49" width="1" height="7.71" fill="url(#c57)"/><rect x="58" y="197.48" width="1" height="7.72" fill="url(#c58)"/><rect x="59" y="196.89" width="1" height="8.31" fill="url(#c59)"/><rect x="60" y="195.65" width="1" height="9.55" fill="url(#c60)"/><rect x="61" y="195.18" width="1" height="10.02" fill="url(#c61)"/><rect x="62" y="194.53" width="1" height="10.67" fill="url(#c62)"/><rect x="63" y="194.41" width="1" height="10.79" fill="url(#c63)"/><rect x="64" y="193.59" width="1" height="11.61" fill="url(#c64)"/><rect x="65" y="193.33" width="1" height="11.87" fill="url(#c65)"/><rect x="66" y="191.72" width="1" height="13.48" fill="url(#c66)"/><rect x="67" y="192.50" width="1" height="12.70" fill="url(#c67)"/><rect x="68" y="191.24" width="1" height="13.96" fill="url(#c68)"/><rect x="69" y="190.96" width="1" height="14.24" fill="url(#c69)"/><rect x="70" y="190.03" width="1" height="15.17" fill="url(#c70)"/><rect x="71" y="189.33" width="1" height="15.87" fill="url(#c71)"/><rect x="72" y="189.05" width="1" height="16.15" fill="url(#c72)"/><rect x="73" y="188.58" width="1" height="16.62" fill="url(#c73)"/><rect x="74" y="187.56" width="1" height="17.64" fill="url(#c74)"/><rect x="75" y="186.95" width="1" height="18.25" fill="url(#c75)"/><rect x="76" y="186.66" width="1" height="18.54" fill="url(#c76)"/><rect x="77" y="185.41" width="1" height="19.79" fill="url(#c77)"/><rect x="78" y="184.52" width="1" height="20.68" fill="url(#c78)"/><rect x="79" y="184.64" width="1" height="20.56" fill="url(#c79)"/><rect x="80" y="183.58" width="1" height="21.62" fill="url(#c80)"/><rect x="81" y="182.43" width="1" height="22.77" fill="url(#c81)"/><rect x="82" y="182.23" width="1" height="22.97" fill="url(#c82)"/><rect x="83" y="181.72" width="1" height="23.48" fill="url(#c83)"/><rect x="84" y="180.77" width="1" height="24.43" fill="url(#c84)"/><rect x="85" y="180.00" width="1" height="25.20" fill="url(#c85)"/><rect x="86" y="179.95" width="1" height="25.25" fill="url(#c86)"/><rect x="87" y="179.63" width="1" height="25.57" fill="url(#c87)"/><rect x="88" y="178.51" width="1" height="26.69" fill="url(#c88)"/><rect x="89" y="177.64" width="1" height="27.56" fill="url(#c89)"/><rect x="90" y="177.43" width="1" height="27.77" fill="url(#c90)"/><rect x="91" y="176.89" width="1" height="28.31" fill="url(#c91)"/><rect x="92" y="175.81" width="1" height="29.39" fill="url(#c92)"/><rect x="93" y="175.47" width="1" height="29.73" fill="url(#c93)"/><rect x="94" y="174.99" width="1" height="30.21" fill="url(#c94)"/><rect x="95" y="173.82" width="1" height="31.38" fill="url(#c95)"/><rect x="96" y="172.89" width="1" height="32.31" fill="url(#c96)"/><rect x="97" y="172.68" width="1" height="32.52" fill="url(#c97)"/><rect x="98" y="171.96" width="1" height="33.24" fill="url(#c98)"/><rect x="99" y="171.62" width="1" height="33.58" fill="url(#c99)"/><rect x="100" y="169.98" width="1" height="35.22" fill="url(#c100)"/><rect x="101" y="169.54" width="1" height="35.66" fill="url(#c101)"/><rect x="102" y="168.79" width="1" height="36.41" fill="url(#c102)"/><rect x="103" y="167.74" width="1" height="37.46" fill="url(#c103)"/><rect x="104" y="167.80" width="1" height="37.40" fill="url(#c104)"/><rect x="105" y="167.28" width="1" height="37.92" fill="url(#c105)"/><rect x="106" y="166.08" width="1" height="39.12" fill="url(#c106)"/><rect x="107" y="166.25" width="1" height="38.95" fill="url(#c107)"/><rect x="108" y="165.34" width="1" height="39.86" fill="url(#c108)"/><rect x="109" y="164.57" width="1" height="40.63" fill="url(#c109)"/><rect x="110" y="163.80" width="1" height="41.40" fill="url(#c110)"/><rect x="111" y="163.33" width="1" height="41.87" fill="url(#c111)"/><rect x="112" y="161.74" width="1" height="43.46" fill="url(#c112)"/><rect x="113" y="161.83" width="1" height="43.37" fill="url(#c113)"/><rect x="114" y="161.14" width="1" height="44.06" fill="url(#c114)"/><rect x="115" y="159.51" width="1" height="45.69" fill="url(#c115)"/><rect x="116" y="159.68" width="1" height="45.52" fill="url(#c116)"/><rect x="117" y="158.76" width="1" height="46.44" fill="url(#c117)"/><rect x="118" y="158.49" width="1" height="46.71" fill="url(#c118)"/><rect x="119" y="157.32" width="1" height="47.88" fill="url(#c119)"/><rect x="120" y="156.81" width="1" height="48.39" fill="url(#c120)"/><rect x="121" y="156.28" width="1" height="48.92" fill="url(#c121)"/><rect x="122" y="155.11" width="1" height="50.09" fill="url(#c122)"/><rect x="123" y="155.03" width="1" height="50.17" fill="url(#c123)"/><rect x="124" y="154.07" width="1" height="51.13" fill="url(#c124)"/><rect x="125" y="153.64" width="1" height="51.56" fill="url(#c125)"/><rect x="126" y="152.56" width="1" height="52.64" fill="url(#c126)"/><rect x="127" y="152.53" width="1" height="52.67" fill="url(#c127)"/><rect x="128" y="151.66" width="1" height="53.54" fill="url(#c128)"/><rect x="129" y="150.68" width="1" height="54.52" fill="url(#c129)"/><rect x="130" y="150.33" width="1" height="54.87" fill="url(#c130)"/><rect x="131" y="149.92" width="1" height="55.28" fill="url(#c131)"/><rect x="132" y="149.46" width="1" height="55.74" fill="url(#c132)"/><rect x="133" y="147.45" width="1" height="57.75" fill="url(#c133)"/><rect x="134" y="147.77" width="1" height="57.43" fill="url(#c134)"/><rect x="135" y="146.99" width="1" height="58.21" fill="url(#c135)"/><rect x="136" y="146.21" width="1" height="58.99" fill="url(#c136)"/><rect x="137" y="145.29" width="1" height="59.91" fill="url(#c137)"/><rect x="138" y="145.64" width="1" height="59.56" fill="url(#c138)"/><rect x="139" y="144.08" width="1" height="61.12" fill="url(#c139)"/><rect x="140" y="144.26" width="1" height="60.94" fill="url(#c140)"/><rect x="141" y="144.00" width="1" height="61.20" fill="url(#c141)"/><rect x="142" y="142.30" width="1" height="62.90" fill="url(#c142)"/><rect x="143" y="142.27" width="1" height="62.93" fill="url(#c143)"/><rect x="144" y="141.32" width="1" height="63.88" fill="url(#c144)"/><rect x="145" y="141.40" width="1" height="63.80" fill="url(#c145)"/><rect x="146" y="141.36" width="1" height="63.84" fill="url(#c146)"/><rect x="147" y="141.02" width="1" height="64.18" fill="url(#c147)"/><rect x="148" y="138.96" width="1" height="66.24" fill="url(#c148)"/><rect x="149" y="138.90" width="1" height="66.30" fill="url(#c149)"/><rect x="150" y="138.84" width="1" height="66.36" fill="url(#c150)"/><rect x="151" y="138.58" width="1" height="66.62" fill="url(#c151)"/><rect x="152" y="137.51" width="1" height="67.69" fill="url(#c152)"/><rect x="153" y="136.44" width="1" height="68.76" fill="url(#c153)"/><rect x="154" y="136.25" width="1" height="68.95" fill="url(#c154)"/><rect x="155" y="135.53" width="1" height="69.67" fill="url(#c155)"/><rect x="156" y="134.85" width="1" height="70.35" fill="url(#c156)"/><rect x="157" y="134.04" width="1" height="71.16" fill="url(#c157)"/><rect x="158" y="133.89" width="1" height="71.31" fill="url(#c158)"/><rect x="159" y="133.27" width="1" height="71.93" fill="url(#c159)"/><rect x="160" y="132.51" width="1" height="72.69" fill="url(#c160)"/><rect x="161" y="131.87" width="1" height="73.33" fill="url(#c161)"/><rect x="162" y="130.85" width="1" height="74.35" fill="url(#c162)"/><rect x="163" y="130.59" width="1" height="74.61" fill="url(#c163)"/><rect x="164" y="130.68" width="1" height="74.52" fill="url(#c164)"/><rect x="165" y="129.54" width="1" height="75.66" fill="url(#c165)"/><rect x="166" y="128.46" width="1" height="76.74" fill="url(#c166)"/><rect x="167" y="129.00" width="1" height="76.20" fill="url(#c167)"/><rect x="168" y="124.71" width="1" height="80.49" fill="url(#c168)"/><rect x="169" y="124.80" width="1" height="80.40" fill="url(#c169)"/><rect x="170" y="123.44" width="1" height="81.76" fill="url(#c170)"/><rect x="171" y="122.70" width="1" height="82.50" fill="url(#c171)"/><rect x="172" y="121.77" width="1" height="83.43" fill="url(#c172)"/><rect x="173" y="122.36" width="1" height="82.84" fill="url(#c173)"/><rect x="174" y="122.34" width="1" height="82.86" fill="url(#c174)"/><rect x="175" y="120.46" width="1" height="84.74" fill="url(#c175)"/><rect x="176" y="120.02" width="1" height="85.18" fill="url(#c176)"/><rect x="177" y="120.01" width="1" height="85.19" fill="url(#c177)"/><rect x="178" y="118.94" width="1" height="86.26" fill="url(#c178)"/><rect x="179" y="118.65" width="1" height="86.55" fill="url(#c179)"/><rect x="180" y="118.11" width="1" height="87.09" fill="url(#c180)"/><rect x="181" y="117.83" width="1" height="87.37" fill="url(#c181)"/><rect x="182" y="117.70" width="1" height="87.50" fill="url(#c182)"/><rect x="183" y="116.79" width="1" height="88.41" fill="url(#c183)"/><rect x="184" y="116.68" width="1" height="88.52" fill="url(#c184)"/><rect x="185" y="115.68" width="1" height="89.52" fill="url(#c185)"/><rect x="186" y="115.53" width="1" height="89.67" fill="url(#c186)"/><rect x="187" y="114.10" width="1" height="91.10" fill="url(#c187)"/><rect x="188" y="113.95" width="1" height="91.25" fill="url(#c188)"/><rect x="189" y="114.43" width="1" height="90.77" fill="url(#c189)"/><rect x="190" y="113.48" width="1" height="91.72" fill="url(#c190)"/><rect x="191" y="113.56" width="1" height="91.64" fill="url(#c191)"/><rect x="192" y="113.15" width="1" height="92.05" fill="url(#c192)"/><rect x="193" y="113.07" width="1" height="92.13" fill="url(#c193)"/><rect x="194" y="112.49" width="1" height="92.71" fill="url(#c194)"/><rect x="195" y="112.21" width="1" height="92.99" fill="url(#c195)"/><rect x="196" y="111.41" width="1" height="93.79" fill="url(#c196)"/><rect x="197" y="110.85" width="1" height="94.35" fill="url(#c197)"/><rect x="198" y="110.54" width="1" height="94.66" fill="url(#c198)"/><rect x="199" y="110.35" width="1" height="94.85" fill="url(#c199)"/><rect x="200" y="109.83" width="1" height="95.37" fill="url(#c200)"/><rect x="201" y="109.82" width="1" height="95.38" fill="url(#c201)"/><rect x="202" y="109.77" width="1" height="95.43" fill="url(#c202)"/><rect x="203" y="109.70" width="1" height="95.50" fill="url(#c203)"/><rect x="204" y="109.27" width="1" height="95.93" fill="url(#c204)"/><rect x="205" y="108.47" width="1" height="96.73" fill="url(#c205)"/><rect x="206" y="109.06" width="1" height="96.14" fill="url(#c206)"/><rect x="207" y="109.04" width="1" height="96.16" fill="url(#c207)"/><rect x="208" y="109.27" width="1" height="95.93" fill="url(#c208)"/><rect x="209" y="108.96" width="1" height="96.24" fill="url(#c209)"/><rect x="210" y="108.39" width="1" height="96.81" fill="url(#c210)"/><rect x="211" y="108.29" width="1" height="96.91" fill="url(#c211)"/><rect x="212" y="109.34" width="1" height="95.86" fill="url(#c212)"/><rect x="213" y="108.80" width="1" height="96.40" fill="url(#c213)"/><rect x="214" y="109.22" width="1" height="95.98" fill="url(#c214)"/><rect x="215" y="109.34" width="1" height="95.86" fill="url(#c215)"/><rect x="216" y="108.18" width="1" height="97.02" fill="url(#c216)"/><rect x="217" y="108.69" width="1" height="96.51" fill="url(#c217)"/><rect x="218" y="108.77" width="1" height="96.43" fill="url(#c218)"/><rect x="219" y="108.87" width="1" height="96.33" fill="url(#c219)"/><rect x="220" y="108.94" width="1" height="96.26" fill="url(#c220)"/><rect x="221" y="108.90" width="1" height="96.30" fill="url(#c221)"/><rect x="222" y="109.00" width="1" height="96.20" fill="url(#c222)"/><rect x="223" y="108.45" width="1" height="96.75" fill="url(#c223)"/><rect x="224" y="109.12" width="1" height="96.08" fill="url(#c224)"/><rect x="225" y="109.04" width="1" height="96.16" fill="url(#c225)"/><rect x="226" y="109.55" width="1" height="95.65" fill="url(#c226)"/><rect x="227" y="109.49" width="1" height="95.71" fill="url(#c227)"/><rect x="228" y="110.12" width="1" height="95.08" fill="url(#c228)"/><rect x="229" y="110.41" width="1" height="94.79" fill="url(#c229)"/><rect x="230" y="110.42" width="1" height="94.78" fill="url(#c230)"/><rect x="231" y="110.66" width="1" height="94.54" fill="url(#c231)"/><rect x="232" y="110.81" width="1" height="94.39" fill="url(#c232)"/><rect x="233" y="110.85" width="1" height="94.35" fill="url(#c233)"/><rect x="234" y="111.23" width="1" height="93.97" fill="url(#c234)"/><rect x="235" y="111.38" width="1" height="93.82" fill="url(#c235)"/><rect x="236" y="112.03" width="1" height="93.17" fill="url(#c236)"/><rect x="237" y="112.18" width="1" height="93.02" fill="url(#c237)"/><rect x="238" y="112.72" width="1" height="92.48" fill="url(#c238)"/><rect x="239" y="112.29" width="1" height="92.91" fill="url(#c239)"/><rect x="240" y="113.51" width="1" height="91.69" fill="url(#c240)"/><rect x="241" y="113.20" width="1" height="92.00" fill="url(#c241)"/><rect x="242" y="113.57" width="1" height="91.63" fill="url(#c242)"/><rect x="243" y="114.15" width="1" height="91.05" fill="url(#c243)"/><rect x="244" y="114.39" width="1" height="90.81" fill="url(#c244)"/><rect x="245" y="115.12" width="1" height="90.08" fill="url(#c245)"/><rect x="246" y="115.17" width="1" height="90.03" fill="url(#c246)"/><rect x="247" y="115.38" width="1" height="89.82" fill="url(#c247)"/><rect x="248" y="115.89" width="1" height="89.31" fill="url(#c248)"/><rect x="249" y="117.18" width="1" height="88.02" fill="url(#c249)"/><rect x="250" y="117.11" width="1" height="88.09" fill="url(#c250)"/><rect x="251" y="117.07" width="1" height="88.13" fill="url(#c251)"/><rect x="252" y="117.99" width="1" height="87.21" fill="url(#c252)"/><rect x="253" y="117.83" width="1" height="87.37" fill="url(#c253)"/><rect x="254" y="119.63" width="1" height="85.57" fill="url(#c254)"/><rect x="255" y="118.79" width="1" height="86.41" fill="url(#c255)"/><rect x="256" y="120.07" width="1" height="85.13" fill="url(#c256)"/><rect x="257" y="120.59" width="1" height="84.61" fill="url(#c257)"/><rect x="258" y="120.29" width="1" height="84.91" fill="url(#c258)"/><rect x="259" y="121.50" width="1" height="83.70" fill="url(#c259)"/><rect x="260" y="122.29" width="1" height="82.91" fill="url(#c260)"/><rect x="261" y="122.60" width="1" height="82.60" fill="url(#c261)"/><rect x="262" y="123.04" width="1" height="82.16" fill="url(#c262)"/><rect x="263" y="123.85" width="1" height="81.35" fill="url(#c263)"/><rect x="264" y="124.07" width="1" height="81.13" fill="url(#c264)"/><rect x="265" y="124.68" width="1" height="80.52" fill="url(#c265)"/><rect x="266" y="125.05" width="1" height="80.15" fill="url(#c266)"/><rect x="267" y="125.91" width="1" height="79.29" fill="url(#c267)"/><rect x="268" y="125.84" width="1" height="79.36" fill="url(#c268)"/><rect x="269" y="127.09" width="1" height="78.11" fill="url(#c269)"/><rect x="270" y="127.14" width="1" height="78.06" fill="url(#c270)"/><rect x="271" y="127.48" width="1" height="77.72" fill="url(#c271)"/><rect x="272" y="128.64" width="1" height="76.56" fill="url(#c272)"/><rect x="273" y="129.76" width="1" height="75.44" fill="url(#c273)"/><rect x="274" y="130.05" width="1" height="75.15" fill="url(#c274)"/><rect x="275" y="130.05" width="1" height="75.15" fill="url(#c275)"/><rect x="276" y="131.12" width="1" height="74.08" fill="url(#c276)"/><rect x="277" y="131.26" width="1" height="73.94" fill="url(#c277)"/><rect x="278" y="131.99" width="1" height="73.21" fill="url(#c278)"/><rect x="279" y="132.68" width="1" height="72.52" fill="url(#c279)"/><rect x="280" y="132.32" width="1" height="72.88" fill="url(#c280)"/><rect x="281" y="133.93" width="1" height="71.27" fill="url(#c281)"/><rect x="282" y="134.05" width="1" height="71.15" fill="url(#c282)"/><rect x="283" y="134.79" width="1" height="70.41" fill="url(#c283)"/><rect x="284" y="135.09" width="1" height="70.11" fill="url(#c284)"/><rect x="285" y="135.69" width="1" height="69.51" fill="url(#c285)"/><rect x="286" y="136.54" width="1" height="68.66" fill="url(#c286)"/><rect x="287" y="137.86" width="1" height="67.34" fill="url(#c287)"/><rect x="288" y="138.82" width="1" height="66.38" fill="url(#c288)"/><rect x="289" y="138.77" width="1" height="66.43" fill="url(#c289)"/><rect x="290" y="139.84" width="1" height="65.36" fill="url(#c290)"/><rect x="291" y="139.92" width="1" height="65.28" fill="url(#c291)"/><rect x="292" y="139.89" width="1" height="65.31" fill="url(#c292)"/><rect x="293" y="141.34" width="1" height="63.86" fill="url(#c293)"/><rect x="294" y="142.09" width="1" height="63.11" fill="url(#c294)"/><rect x="295" y="142.37" width="1" height="62.83" fill="url(#c295)"/><rect x="296" y="143.29" width="1" height="61.91" fill="url(#c296)"/><rect x="297" y="144.03" width="1" height="61.17" fill="url(#c297)"/><rect x="298" y="144.09" width="1" height="61.11" fill="url(#c298)"/><rect x="299" y="144.47" width="1" height="60.73" fill="url(#c299)"/><rect x="300" y="145.61" width="1" height="59.59" fill="url(#c300)"/><rect x="301" y="146.25" width="1" height="58.95" fill="url(#c301)"/><rect x="302" y="146.82" width="1" height="58.38" fill="url(#c302)"/><rect x="303" y="148.00" width="1" height="57.20" fill="url(#c303)"/><rect x="304" y="148.93" width="1" height="56.27" fill="url(#c304)"/><rect x="305" y="148.70" width="1" height="56.50" fill="url(#c305)"/><rect x="306" y="149.78" width="1" height="55.42" fill="url(#c306)"/><rect x="307" y="150.52" width="1" height="54.68" fill="url(#c307)"/><rect x="308" y="151.06" width="1" height="54.14" fill="url(#c308)"/><rect x="309" y="151.83" width="1" height="53.37" fill="url(#c309)"/><rect x="310" y="151.89" width="1" height="53.31" fill="url(#c310)"/><rect x="311" y="152.97" width="1" height="52.23" fill="url(#c311)"/><rect x="312" y="154.12" width="1" height="51.08" fill="url(#c312)"/><rect x="313" y="154.26" width="1" height="50.94" fill="url(#c313)"/><rect x="314" y="154.32" width="1" height="50.88" fill="url(#c314)"/><rect x="315" y="155.44" width="1" height="49.76" fill="url(#c315)"/><rect x="316" y="156.34" width="1" height="48.86" fill="url(#c316)"/><rect x="317" y="156.61" width="1" height="48.59" fill="url(#c317)"/><rect x="318" y="156.86" width="1" height="48.34" fill="url(#c318)"/><rect x="319" y="158.33" width="1" height="46.87" fill="url(#c319)"/><rect x="320" y="157.84" width="1" height="47.36" fill="url(#c320)"/><rect x="321" y="159.16" width="1" height="46.04" fill="url(#c321)"/><rect x="322" y="159.57" width="1" height="45.63" fill="url(#c322)"/><rect x="323" y="159.72" width="1" height="45.48" fill="url(#c323)"/><rect x="324" y="161.31" width="1" height="43.89" fill="url(#c324)"/><rect x="325" y="161.57" width="1" height="43.63" fill="url(#c325)"/><rect x="326" y="161.58" width="1" height="43.62" fill="url(#c326)"/><rect x="327" y="162.90" width="1" height="42.30" fill="url(#c327)"/><rect x="328" y="163.10" width="1" height="42.10" fill="url(#c328)"/><rect x="329" y="163.12" width="1" height="42.08" fill="url(#c329)"/><rect x="330" y="164.21" width="1" height="40.99" fill="url(#c330)"/><rect x="331" y="165.19" width="1" height="40.01" fill="url(#c331)"/><rect x="332" y="165.94" width="1" height="39.26" fill="url(#c332)"/><rect x="333" y="166.35" width="1" height="38.85" fill="url(#c333)"/><rect x="334" y="166.90" width="1" height="38.30" fill="url(#c334)"/><rect x="335" y="167.66" width="1" height="37.54" fill="url(#c335)"/><rect x="336" y="167.98" width="1" height="37.22" fill="url(#c336)"/><rect x="337" y="169.12" width="1" height="36.08" fill="url(#c337)"/><rect x="338" y="169.29" width="1" height="35.91" fill="url(#c338)"/><rect x="339" y="169.93" width="1" height="35.27" fill="url(#c339)"/><rect x="340" y="170.60" width="1" height="34.60" fill="url(#c340)"/><rect x="341" y="170.54" width="1" height="34.66" fill="url(#c341)"/><rect x="342" y="171.25" width="1" height="33.95" fill="url(#c342)"/><rect x="343" y="172.71" width="1" height="32.49" fill="url(#c343)"/><rect x="344" y="172.79" width="1" height="32.41" fill="url(#c344)"/><rect x="345" y="173.11" width="1" height="32.09" fill="url(#c345)"/><rect x="346" y="173.91" width="1" height="31.29" fill="url(#c346)"/><rect x="347" y="174.13" width="1" height="31.07" fill="url(#c347)"/><rect x="348" y="174.98" width="1" height="30.22" fill="url(#c348)"/><rect x="349" y="175.15" width="1" height="30.05" fill="url(#c349)"/><rect x="350" y="176.06" width="1" height="29.14" fill="url(#c350)"/><rect x="351" y="175.85" width="1" height="29.35" fill="url(#c351)"/><rect x="352" y="177.55" width="1" height="27.65" fill="url(#c352)"/><rect x="353" y="177.34" width="1" height="27.86" fill="url(#c353)"/><rect x="354" y="177.43" width="1" height="27.77" fill="url(#c354)"/><rect x="355" y="178.49" width="1" height="26.71" fill="url(#c355)"/><rect x="356" y="178.94" width="1" height="26.26" fill="url(#c356)"/><rect x="357" y="179.65" width="1" height="25.55" fill="url(#c357)"/><rect x="358" y="179.64" width="1" height="25.56" fill="url(#c358)"/><rect x="359" y="180.75" width="1" height="24.45" fill="url(#c359)"/><rect x="360" y="182.53" width="1" height="22.67" fill="url(#c360)"/><rect x="361" y="181.05" width="1" height="24.15" fill="url(#c361)"/><rect x="362" y="182.18" width="1" height="23.02" fill="url(#c362)"/><rect x="363" y="182.39" width="1" height="22.81" fill="url(#c363)"/><rect x="364" y="183.06" width="1" height="22.14" fill="url(#c364)"/><rect x="365" y="182.72" width="1" height="22.48" fill="url(#c365)"/><rect x="366" y="183.45" width="1" height="21.75" fill="url(#c366)"/><rect x="367" y="184.54" width="1" height="20.66" fill="url(#c367)"/><rect x="368" y="184.79" width="1" height="20.41" fill="url(#c368)"/><rect x="369" y="185.90" width="1" height="19.30" fill="url(#c369)"/><rect x="370" y="185.39" width="1" height="19.81" fill="url(#c370)"/><rect x="371" y="186.17" width="1" height="19.03" fill="url(#c371)"/><polygon points="57,205.6 57.0,199.3 57.7,197.5 58.4,197.3 59.1,199.5 59.8,198.7 60.5,198.1 61.2,198.8 61.9,198.9 62.6,197.4 63.3,198.0 64.0,197.3 64.7,198.2 65.4,197.2 66.1,199.2 66.8,197.4 67.5,197.4 68.2,198.9 68.9,197.7 69.6,197.0 70.3,198.0 71.0,199.2 71.7,200.3 72.4,199.6 73.1,197.6 73.8,200.1 74.5,198.6 75.2,198.6 75.9,199.5 76.6,199.8 77.3,199.6 78.0,199.0 78.7,198.9 79.4,197.7 80.1,198.7 80.8,200.2 81.5,197.8 82.2,198.1 82.9,195.3 83.6,199.1 84.3,197.3 85.0,199.6 85.7,200.0 86.4,199.0 87.1,199.5 87.8,199.4 88.5,199.5 89.2,200.1 89.9,199.9 90.6,198.6 91.3,197.9 92.0,199.3 92.7,198.5 93.4,198.4 94.1,198.6 94.8,198.4 95.5,195.3 96.2,199.0 96.9,198.4 97.6,196.8 98.3,199.2 99.0,199.3 99.7,198.5 100.4,197.6 101.1,199.5 101.8,199.5 102.5,199.8 103.2,198.3 103.9,198.4 104.6,199.6 105.3,197.5 106.0,199.7 106.7,197.1 107.4,198.5 108.1,198.9 108.8,197.6 109.5,197.5 110.2,196.9 110.9,198.4 111.6,198.4 112.3,197.7 113.0,198.5 113.7,199.4 114.4,199.6 115.1,199.7 115.8,198.0 116.5,198.2 117.2,197.6 117.9,197.9 118.6,197.7 119.3,198.1 120.0,195.5 120.7,197.0 121.4,198.1 122.1,198.9 122.8,198.7 123.5,198.9 124.2,198.9 124.9,198.2 125.6,197.4 126.3,199.5 127.0,197.8 127.7,199.1 128.4,197.8 129.1,198.1 129.8,199.4 130.5,197.3 131.2,198.2 131.9,198.9 132.6,197.3 133.3,197.9 134.0,196.1 134.7,198.8 135.4,199.0 136.1,197.6 136.8,196.3 137.5,197.5 138.2,195.8 138.9,197.1 139.6,198.1 140.3,198.7 141.0,195.8 141.7,199.1 142.4,198.4 143.1,198.9 143.8,197.3 144.5,198.1 145.2,198.6 145.9,197.9 146.6,197.6 147.3,197.1 148.0,196.5 148.7,196.5 149.4,197.5 150.1,196.4 150.8,198.4 151.5,197.3 152.2,198.7 152.9,197.9 153.6,195.7 154.3,197.5 155.0,198.8 155.7,197.4 156.4,196.1 157.1,195.8 157.8,197.6 158.5,198.6 159.2,198.0 159.9,196.4 160.6,196.4 161.3,196.9 162.0,196.6 162.7,197.2 163.4,198.6 164.1,197.5 164.8,196.6 165.5,197.4 166.2,198.6 166.9,198.1 167.6,196.7 168.3,197.7 169.0,197.5 169.7,197.0 170.4,197.7 171.1,196.9 171.8,198.2 172.5,197.2 173.2,197.6 173.9,198.5 174.6,198.0 175.3,196.3 176.0,196.8 176.7,197.2 177.4,198.1 178.1,196.9 178.8,197.2 179.5,198.3 180.2,196.6 180.9,197.8 181.6,197.5 182.3,196.7 183.0,198.1 183.7,197.6 184.4,196.3 185.1,198.4 185.8,196.4 186.5,196.2 187.2,195.0 187.9,194.6 188.6,197.1 189.3,196.9 190.0,196.5 190.7,197.4 191.4,197.5 192.1,196.3 192.8,198.0 193.5,197.7 194.2,197.4 194.9,197.7 195.6,195.2 196.3,195.6 197.0,196.8 197.7,197.2 198.4,197.6 199.1,197.4 199.8,195.3 200.5,194.4 201.2,197.3 201.9,197.7 202.6,197.3 203.3,197.6 204.0,197.9 204.7,196.4 205.4,196.8 206.1,197.7 206.8,197.9 207.5,197.9 208.2,194.8 208.9,197.6 209.6,197.8 210.3,196.6 211.0,197.5 211.7,197.2 212.4,196.8 213.1,197.2 213.8,196.5 214.5,196.6 215.2,193.7 215.9,191.7 216.6,193.6 217.3,196.3 218.0,197.4 218.7,194.7 219.4,195.6 220.1,195.2 220.8,193.2 221.5,197.4 222.2,196.6 222.9,197.6 223.6,196.8 224.3,197.7 225.0,194.5 225.7,196.4 226.4,195.9 227.1,197.4 227.8,195.8 228.5,197.7 229.2,196.3 229.9,197.1 230.6,195.7 231.3,195.5 232.0,195.2 232.7,195.3 233.4,196.6 234.1,196.2 234.8,196.1 235.5,197.5 236.2,197.0 236.9,197.1 237.6,195.4 238.3,197.1 239.0,197.3 239.7,197.4 240.4,197.7 241.1,197.5 241.8,196.9 242.5,197.6 243.2,197.4 243.9,196.8 244.6,197.2 245.3,197.6 246.0,194.8 246.7,197.0 247.4,197.3 248.1,196.2 248.8,195.6 249.5,196.3 250.2,196.8 250.9,196.7 251.6,197.0 252.3,194.5 253.0,193.6 253.7,194.5 254.4,196.2 255.1,195.3 255.8,195.9 256.5,195.2 257.2,194.3 257.9,194.1 258.6,195.6 259.3,191.1 260.0,194.1 260.7,195.7 261.4,196.1 262.1,196.0 262.8,196.8 263.5,195.2 264.2,196.6 264.9,196.6 265.6,196.6 266.3,196.8 267.0,194.9 267.7,196.2 268.4,197.3 269.1,197.1 269.8,197.3 270.5,197.3 271.2,195.7 271.9,197.6 272.6,197.2 273.3,197.2 274.0,196.8 274.7,195.2 275.4,196.3 276.1,196.0 276.8,196.7 277.5,196.1 278.2,197.1 278.9,196.4 279.6,196.5 280.3,196.5 281.0,195.0 281.7,196.7 282.4,196.1 283.1,196.9 283.8,196.6 284.5,197.2 285.2,195.9 285.9,197.1 286.6,196.5 287.3,197.4 288.0,196.2 288.7,196.6 289.4,197.2 290.1,196.8 290.8,196.3 291.5,197.3 292.2,195.6 292.9,195.5 293.6,196.5 294.3,196.9 295.0,197.0 295.7,196.0 296.4,197.0 297.1,197.0 297.8,196.0 298.5,197.3 299.2,193.0 299.9,197.1 300.6,196.9 301.3,195.6 302.0,196.4 302.7,193.9 303.4,195.4 304.1,195.5 304.8,196.1 305.5,195.4 306.2,196.2 306.9,196.4 307.6,195.8 308.3,195.6 309.0,196.4 309.7,195.9 310.4,197.2 311.1,197.0 311.8,196.1 312.5,196.2 313.2,196.6 313.9,194.4 314.6,196.4 315.3,194.1 316.0,195.2 316.7,195.2 317.4,196.4 318.1,195.5 318.8,195.5 319.5,193.6 320.2,193.4 320.9,194.1 321.6,193.9 322.3,195.0 323.0,195.8 323.7,195.9 324.4,196.8 325.1,196.1 325.8,195.6 326.5,197.2 327.2,196.7 327.9,194.5 328.6,197.0 329.3,196.1 330.0,195.4 330.7,196.0 331.4,194.2 332.1,195.1 332.8,193.0 333.5,195.9 334.2,195.6 334.9,194.6 335.6,194.9 336.3,194.0 337.0,193.6 337.7,195.5 338.4,194.6 339.1,191.5 339.8,194.8 340.5,194.8 341.2,195.8 341.9,195.5 342.6,195.2 343.3,196.0 344.0,196.1 344.7,196.5 345.4,194.7 346.1,196.1 346.8,195.1 347.5,196.9 348.2,196.2 348.9,196.6 349.6,195.7 350.3,195.5 351.0,196.8 351.7,195.6 352.4,193.7 353.1,196.5 353.8,196.2 354.5,196.3 355.2,195.6 355.9,193.5 356.6,196.7 357.3,196.7 358.0,195.0 358.7,197.1 359.4,195.1 360.1,197.0 360.8,196.6 361.5,196.4 362.2,196.5 362.9,196.0 363.6,195.8 364.3,196.4 365.0,196.6 365.7,196.0 366.4,196.6 367.1,195.2 367.8,196.2 368.5,195.4 369.2,195.8 369.9,195.3 370.6,195.5 371.3,196.8 372.0,193.8 372.5,205.6" fill="rgb(42,50,136)"/><rect x="212.95" y="51.4" width="1.25" height="130.6" fill="rgb(78,80,156)"/><polygon points="212.9,182.3 214.5,182.3 214.5,205 212.0,205 212.0,194.4 212.9,194.4" fill="#fff"/><polyline fill="none" stroke="#dd2421" stroke-width="1.3" stroke-linejoin="bevel" points="441.00,185.67 441.40,189.95 441.80,206.13 442.20,197.10 442.60,206.13 443.00,191.75 443.40,206.13 443.80,188.98 444.20,199.27 444.60,200.97 445.00,185.00 445.40,206.13 445.80,203.11 446.20,190.87 446.60,186.82 447.00,184.88 447.40,204.63 447.80,189.91 448.20,201.12 448.60,188.69 449.00,202.52 449.40,185.03 449.80,206.13 450.20,206.13 450.60,192.48 451.00,197.80 451.40,204.01 451.80,182.99 452.20,189.78 452.60,194.52 453.00,206.13 453.40,184.87 453.80,183.52 454.20,193.83 454.60,206.13 455.00,197.44 455.40,184.32 455.80,187.79 456.20,187.51 456.60,194.96 457.00,196.19 457.40,186.68 457.80,206.13 458.20,201.22 458.60,196.56 459.00,194.34 459.40,206.13 459.80,206.13 460.20,181.06 460.60,194.91 461.00,206.13 461.40,199.14 461.80,194.26 462.20,206.13 462.60,205.85 463.00,175.44 463.40,194.02 463.80,196.16 464.20,205.75 464.60,204.32 465.00,187.54 465.40,190.87 465.80,206.13 466.20,206.13 466.60,206.13 467.00,195.52 467.40,192.88 467.80,199.65 468.20,194.98 468.60,198.90 469.00,191.40 469.40,187.82 469.80,193.15 470.20,186.34 470.60,196.34 471.00,206.13 471.40,202.66 471.80,185.93 472.20,191.35 472.60,183.72 473.00,189.05 473.40,192.09 473.80,194.68 474.20,186.87 474.60,181.52 475.00,179.63 475.40,190.09 475.80,206.13 476.20,205.05 476.60,206.13 477.00,206.13 477.40,200.23 477.80,197.15 478.20,199.28 478.60,204.17 479.00,206.13 479.40,206.13 479.80,188.09 480.20,190.00 480.60,206.13 481.00,206.13 481.40,194.55 481.80,189.85 482.20,206.13 482.60,181.00 483.00,188.12 483.40,187.55 483.80,206.13 484.20,206.13 484.60,192.59 485.00,193.13 485.40,185.01 485.80,188.88 486.20,188.53 486.60,197.36 487.00,206.13 487.40,189.86 487.80,197.46 488.20,199.65 488.60,184.37 489.00,190.80 489.40,206.13 489.80,189.32 490.20,205.75 490.60,191.34 491.00,180.04 491.40,190.17 491.80,195.84 492.20,195.38 492.60,197.83 493.00,199.54 493.40,191.89 493.80,188.66 494.20,198.34 494.60,199.45 495.00,182.51 495.40,183.26 495.80,196.54 496.20,187.69 496.60,206.13 497.00,203.04 497.40,191.02 497.80,206.13 498.20,194.15 498.60,192.87 499.00,206.13 499.40,206.13 499.80,206.13 500.20,206.13 500.60,204.75 501.00,192.93 501.40,206.13 501.80,206.13 502.20,203.55 502.60,186.36 503.00,190.13 503.40,204.56 503.80,199.99 504.20,193.45 504.60,190.62 505.00,206.13 505.40,206.13 505.80,184.47 506.20,199.63 506.60,206.13 507.00,206.13 507.40,189.58 507.80,203.19 508.20,183.33 508.60,196.63 509.00,206.13 509.40,195.27 509.80,191.52 510.20,192.34 510.60,199.54 511.00,206.13 511.40,195.18 511.80,190.80 512.20,206.13 512.60,193.19 513.00,204.36 513.40,206.13 513.80,176.18 514.20,192.00 514.60,205.97 515.00,180.99 515.40,198.97 515.80,186.53 516.20,206.13 516.60,190.42 517.00,194.12 517.40,205.46 517.80,191.41 518.20,206.13 518.60,194.76 519.00,203.04 519.40,193.86 519.80,206.13 520.20,206.13 520.60,188.16 521.00,203.50 521.40,188.30 521.80,206.13 522.20,206.13 522.60,188.45 523.00,201.89 523.40,187.26 523.80,206.13 524.20,188.28 524.60,193.54 525.00,190.35 525.40,206.13 525.80,200.58 526.20,199.00 526.60,206.13 527.00,193.07 527.40,183.75 527.80,206.13 528.20,198.37 528.60,192.01 529.00,187.21 529.40,206.13 529.80,206.13 530.20,195.47 530.60,185.39 531.00,206.13 531.40,186.10 531.80,203.65 532.20,206.13 532.60,203.37 533.00,181.88 533.40,197.54 533.80,206.13 534.20,203.31 534.60,188.82 535.00,197.33 535.40,197.14 535.80,189.86 536.20,206.13 536.60,206.13 537.00,196.68 537.40,198.16 537.80,185.68 538.20,205.94 538.60,193.89 539.00,206.13 539.40,195.01 539.80,198.00 540.20,198.19 540.60,206.13 541.00,206.13 541.40,190.35 541.80,204.43 542.20,195.60 542.60,206.13 543.00,204.18 543.40,183.36 543.80,191.37 544.20,195.19 544.60,203.32 545.00,206.13 545.40,206.13 545.80,206.13 546.20,188.02 546.60,201.45 547.00,193.73 547.40,205.59 547.80,181.64 548.20,206.13 548.60,196.44 549.00,206.13 549.40,198.22 549.80,201.02 550.20,206.13 550.60,195.59 551.00,189.66 551.40,197.24 551.80,206.13 552.20,185.68 552.60,201.94 553.00,206.13 553.40,206.13 553.80,182.26 554.20,180.89 554.60,177.15 555.00,204.69 555.40,200.37 555.80,201.82 556.20,206.13 556.60,203.67 557.00,197.17 557.40,197.30 557.80,206.13 558.20,182.67 558.60,206.13 559.00,206.13 559.40,206.00 559.80,190.48 560.20,197.33 560.60,186.87 561.00,188.68 561.40,181.43 561.80,205.30 562.20,204.56 562.60,206.13 563.00,206.13 563.40,194.30 563.80,206.13 564.20,191.67 564.60,191.07 565.00,184.91 565.40,206.13 565.80,206.13 566.20,193.10 566.60,206.13 567.00,190.61 567.40,194.43 567.80,198.13 568.20,193.28 568.60,190.97 569.00,195.58 569.40,206.13 569.80,206.13 570.20,186.16 570.60,186.18 571.00,190.40 571.40,184.28 571.80,187.37 572.20,206.13 572.60,178.43 573.00,186.04 573.40,197.16 573.80,174.29 574.20,203.41 574.60,179.47 575.00,201.13 575.40,173.15 575.80,170.51 576.20,187.70 576.60,163.74 577.00,163.47 577.40,187.83 577.80,184.72 578.20,161.77 578.60,155.18 579.00,157.17 579.40,179.87 579.80,149.49 580.20,172.41 580.60,150.44 581.00,155.20 581.40,153.37 581.80,146.85 582.20,136.31 582.60,133.79 583.00,143.90 583.40,138.11 583.80,160.50 584.20,133.65 584.60,143.45 585.00,139.46 585.40,114.28 585.80,117.31 586.20,102.25 586.60,173.36 587.00,100.93 587.40,91.94 587.80,43.50 588.20,43.50 588.60,91.94 589.00,100.93 589.40,101.33 589.80,102.25 590.20,155.98 590.60,146.82 591.00,175.13 591.40,119.88 591.80,170.34 592.20,153.89 592.60,128.38 593.00,131.15 593.40,144.72 593.80,154.78 594.20,149.47 594.60,141.03 595.00,143.25 595.40,162.44 595.80,147.48 596.20,149.49 596.60,151.44 597.00,155.60 597.40,155.18 597.80,156.97 598.20,159.99 598.60,170.83 599.00,162.10 599.40,173.06 599.80,165.34 600.20,182.65 600.60,184.05 601.00,187.76 601.40,171.42 601.80,206.13 602.20,192.60 602.60,200.85 603.00,182.38 603.40,178.43 603.80,179.77 604.20,206.13 604.60,190.15 605.00,186.17 605.40,203.80 605.80,186.16 606.20,187.39 606.60,188.60 607.00,186.19 607.40,197.31 607.80,192.14 608.20,206.13 608.60,194.72 609.00,195.56 609.40,206.13 609.80,197.77 610.20,206.13 610.60,195.41 611.00,183.68 611.40,181.09 611.80,182.23 612.20,193.10 612.60,196.74 613.00,184.90 613.40,206.13 613.80,203.44 614.20,196.51 614.60,201.69 615.00,199.96 615.40,189.12 615.80,191.58 616.20,202.95 616.60,183.81 617.00,206.13 617.40,192.70 617.80,184.89 618.20,195.61 618.60,173.19 619.00,195.90 619.40,204.78 619.80,200.80 620.20,196.49 620.60,179.58 621.00,190.57 621.40,199.60 621.80,197.53 622.20,201.31 622.60,184.21 623.00,206.13 623.40,193.60 623.80,206.13 624.20,189.91 624.60,185.12 625.00,206.13 625.40,203.96 625.80,196.02 626.20,193.26 626.60,187.04 627.00,206.13 627.40,189.66 627.80,206.13 628.20,193.97 628.60,193.72 629.00,186.76 629.40,202.04 629.80,194.41 630.20,194.82 630.60,192.73 631.00,199.90 631.40,202.08 631.80,189.07 632.20,188.53 632.60,206.13 633.00,189.47 633.40,184.06 633.80,182.67 634.20,206.13 634.60,198.31 635.00,206.13 635.40,206.13 635.80,206.13 636.20,206.02 636.60,191.57 637.00,185.42 637.40,206.13 637.80,196.93 638.20,197.78 638.60,197.06 639.00,198.02 639.40,201.77 639.80,191.08 640.20,196.20 640.60,206.13 641.00,205.77 641.40,200.91 641.80,185.88 642.20,191.77 642.60,197.14 643.00,190.57 643.40,202.41 643.80,206.13 644.20,186.31 644.60,190.50 645.00,206.13 645.40,186.79 645.80,187.15 646.20,188.07 646.60,206.13 647.00,206.13 647.40,206.13 647.80,186.21 648.20,205.58 648.60,194.47 649.00,206.13 649.40,206.13 649.80,206.13 650.20,205.46 650.60,177.33 651.00,194.62 651.40,190.28 651.80,206.13 652.20,206.13 652.60,203.07 653.00,191.65 653.40,189.60 653.80,206.13 654.20,180.79 654.60,202.57 655.00,193.54 655.40,187.92 655.80,197.78 656.20,193.87 656.60,206.13 657.00,181.68 657.40,188.32 657.80,202.32 658.20,200.26 658.60,180.21 659.00,189.93 659.40,194.86 659.80,205.02 660.20,201.29 660.60,206.13 661.00,192.28 661.40,184.73 661.80,188.36 662.20,194.95 662.60,187.45 663.00,184.42 663.40,206.13 663.80,201.93 664.20,190.29 664.60,200.94 665.00,206.13 665.40,190.38 665.80,193.35 666.20,206.13 666.60,206.13 667.00,206.13 667.40,206.13 667.80,181.63 668.20,206.13 668.60,191.64 669.00,206.13 669.40,190.65 669.80,198.76 670.20,198.61 670.60,179.77 671.00,189.88 671.40,193.58 671.80,193.44 672.20,198.69 672.60,195.03 673.00,199.15 673.40,200.00 673.80,182.21 674.20,197.13 674.60,201.81 675.00,206.13 675.40,192.03 675.80,191.20 676.20,206.13 676.60,195.68 677.00,206.13 677.40,197.06 677.80,200.23 678.20,206.13 678.60,189.50 679.00,191.52 679.40,205.45 679.80,198.68 680.20,201.71 680.60,185.83 681.00,206.13 681.40,191.78 681.80,201.79 682.20,186.83 682.60,201.06 683.00,188.54 683.40,193.70 683.80,188.96 684.20,188.06 684.60,206.13 685.00,206.13 685.40,187.86 685.80,206.13 686.20,184.92 686.60,199.07 687.00,192.49 687.40,200.15 687.80,206.13 688.20,179.68 688.60,192.73 689.00,203.35 689.40,185.59 689.80,193.50 690.20,205.25 690.60,183.19 691.00,182.02 691.40,192.41 691.80,206.13 692.20,206.13 692.60,206.13 693.00,190.87 693.40,183.71 693.80,193.11 694.20,201.78 694.60,205.31 695.00,188.82 695.40,190.27 695.80,189.26 696.20,205.44 696.60,196.94 697.00,205.03 697.40,196.35 697.80,194.20 698.20,188.08 698.60,204.09 699.00,206.13 699.40,192.31 699.80,206.13 700.20,188.54 700.60,206.13 701.00,203.48 701.40,185.72 701.80,188.84 702.20,201.17 702.60,206.13 703.00,190.44 703.40,196.94 703.80,205.56 704.20,177.25 704.60,190.42 705.00,196.98 705.40,201.43 705.80,182.81 706.20,182.08 706.60,186.68 707.00,196.72 707.40,193.11 707.80,206.13 708.20,206.13 708.60,197.46 709.00,193.77 709.40,206.13 709.80,198.23 710.20,196.92 710.60,203.32 711.00,206.13 711.40,182.64 711.80,198.34 712.20,206.13 712.60,188.20 713.00,202.33 713.40,185.89 713.80,202.71 714.20,206.13 714.60,206.13 715.00,195.67 715.40,193.25 715.80,202.72 716.20,203.73 716.60,182.96 717.00,180.28 717.40,192.39 717.80,206.13 718.20,202.41 718.60,182.06 719.00,181.92 719.40,188.31 719.80,191.11 720.20,197.94 720.60,194.06 721.00,185.58 721.40,176.26 721.80,182.14 722.20,191.80 722.60,203.04 723.00,197.03 723.40,193.72 723.80,188.77 724.20,192.10 724.60,200.04 725.00,195.71 725.40,206.13 725.80,206.13 726.20,195.23 726.60,189.23 727.00,195.18 727.40,184.65 727.80,189.88 728.20,194.26 728.60,198.71 729.00,191.92 729.40,202.87 729.80,195.80 730.20,205.62 730.60,197.14 731.00,178.00 731.40,194.89 731.80,190.80 732.20,191.86 732.60,182.70 733.00,186.83 733.40,187.51 733.80,198.44 734.20,196.81 734.60,181.66 735.00,203.18 735.40,206.13 735.80,185.89 736.20,206.13 736.60,196.18 737.00,206.13 737.40,196.96 737.80,176.28 738.20,197.19 738.60,189.25 739.00,188.28 739.40,206.13 739.80,192.88 740.20,194.85 740.60,203.49 741.00,198.14 741.40,197.69 741.80,195.22 742.20,206.13 742.60,180.01 743.00,204.92 743.40,206.13 743.80,189.95 744.20,196.06 744.60,184.20 745.00,206.13 745.40,206.13 745.80,206.13 746.20,187.50 746.60,189.35 747.00,184.45"/><g font-family="Liberation Serif, serif" font-size="20" fill="#1c1c1c" stroke="#1c1c1c" stroke-width="0.15" opacity="0.999"><text transform="translate(1.25,19.60) scale(1.01,0.995)" text-anchor="start" font-size="22.5">(a)</text><text transform="translate(380.90,19.60) scale(1.01,0.995)" text-anchor="start" font-size="22.5">(b)</text><text transform="translate(50.00,45.91)" text-anchor="end">0</text><text transform="translate(50.00,87.33)" text-anchor="end">-20</text><text transform="translate(50.00,128.76)" text-anchor="end">-40</text><text transform="translate(50.00,170.18)" text-anchor="end">-60</text><text transform="translate(50.00,212.50)" text-anchor="end">-80</text><text transform="translate(55.50,230.80)" text-anchor="middle">1510</text><text transform="translate(132.30,230.80)" text-anchor="middle">1535</text><text transform="translate(213.50,230.80)" text-anchor="middle">1560</text><text transform="translate(293.30,230.80)" text-anchor="middle">1585</text><text transform="translate(373.50,230.80)" text-anchor="middle">1610</text><text transform="translate(229.00,257.60) scale(1.008,1.0)" text-anchor="middle">Wavelength (nm)</text><text transform="translate(17.80,120.80) rotate(-90)" text-anchor="middle">Power (dBm)</text><text transform="translate(438.60,26.80)" text-anchor="end">-40</text><text transform="translate(438.60,73.40)" text-anchor="end">-60</text><text transform="translate(438.60,120.00)" text-anchor="end">-80</text><text transform="translate(438.60,165.40)" text-anchor="end">-100</text><text transform="translate(438.60,213.20)" text-anchor="end">-120</text><text transform="translate(466.60,230.80)" text-anchor="middle">-0.08</text><text transform="translate(532.10,230.80)" text-anchor="middle">-0.04</text><text transform="translate(594.75,230.80)" text-anchor="middle">0</text><text transform="translate(657.95,230.80)" text-anchor="middle">0.04</text><text transform="translate(718.80,230.80)" text-anchor="middle">0.08</text><text transform="translate(602.50,257.60) scale(1.014,1.0)" text-anchor="middle">Frequency (MHz)+48.976 GHz</text><text transform="translate(398.70,118.10) rotate(-90) scale(1.014,1.0)" text-anchor="middle">Intensity (dBm)</text></g></svg></body></html>
